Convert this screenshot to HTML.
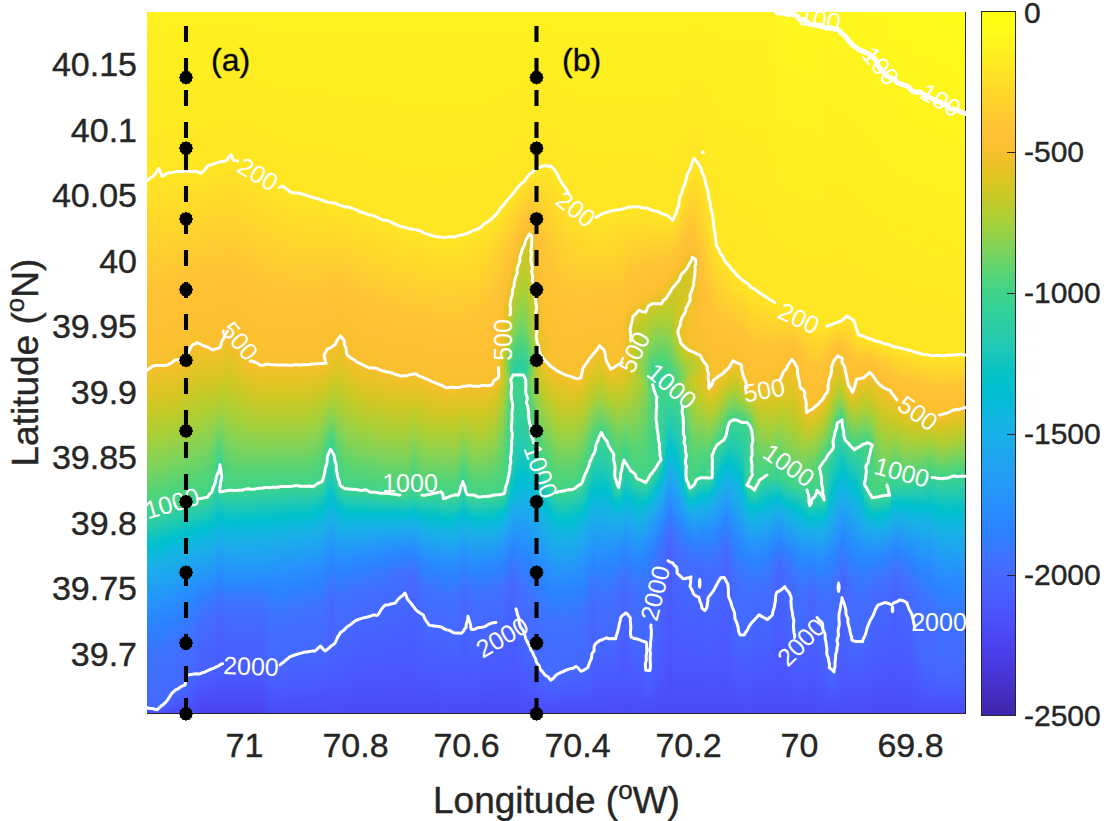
<!DOCTYPE html><html><head><meta charset="utf-8"><style>
*{margin:0;padding:0;box-sizing:border-box}
html,body{width:1104px;height:821px;overflow:hidden;background:#fff}
body{position:relative;font-family:"Liberation Sans",sans-serif;color:#262626}
.t{position:absolute;white-space:nowrap;line-height:1;-webkit-text-stroke:0.4px #262626}
.yl{font-size:34px;text-align:right;width:120px}
.xl{font-size:34px;text-align:center;width:120px}
.cl{font-size:30px}
</style></head><body>
<style>#fld i{position:absolute;top:0;height:702px;display:block}</style><div id="fld" style="position:absolute;left:147px;top:12px;width:819px;height:702px;overflow:hidden"><i style="left:0px;width:3.6px;background:linear-gradient(#fef21f 0px,#ffe624 168px,#ffd32c 220px,#ffc435 276px,#ffc033 314px,#f7c02d 358px,#e6c324 374px,#d9c622 386px,#cbc926 398px,#a9cf36 424px,#7bd45d 456px,#53d476 480px,#40d389 500px,#32d09a 506px,#27cbac 514px,#07c3c6 528px,#01c1cc 532px,#02bed2 536px,#11b7e0 546px,#1aafe9 556px,#288fff 596px,#2c80ff 618px,#3e72ff 646px,#4569ff 696px,#4a55fe 700px,#4a4af6 702px)"></i><i style="left:3px;width:3.6px;background:linear-gradient(#fef21f 0px,#ffe624 166px,#ffc435 276px,#ffc033 314px,#f7c02d 356px,#e6c324 374px,#d9c623 386px,#cac926 398px,#a9cf36 424px,#7bd45d 456px,#52d477 480px,#3fd38a 500px,#31d09b 506px,#26cbad 514px,#0ac4c3 526px,#01c1cd 532px,#02bed3 536px,#14b5e2 548px,#1aaee9 556px,#288eff 596px,#2c80ff 618px,#3e72ff 646px,#4569ff 696px,#4a56ff 700px,#4a4af6 702px)"></i><i style="left:6px;width:3.6px;background:linear-gradient(#fef21f 0px,#ffe624 162px,#ffc435 276px,#ffc033 314px,#f7c02d 354px,#e5c324 374px,#d8c623 386px,#ccc925 396px,#abcf35 422px,#7dd45b 454px,#52d477 480px,#40d389 498px,#33d099 504px,#28ccaa 512px,#1ec8b6 518px,#01c2cb 530px,#03bed4 536px,#10b8de 544px,#19b0e8 554px,#288eff 596px,#2c80ff 618px,#3f72ff 646px,#4569ff 698px,#495aff 700px,#4a4af6 702px)"></i><i style="left:9px;width:3.6px;background:linear-gradient(#fef21f 0px,#ffe624 160px,#ffc435 276px,#ffc033 314px,#f7c02d 354px,#d9c622 384px,#cbc925 396px,#aacf36 422px,#7fd35a 452px,#51d478 480px,#40d389 498px,#32d099 504px,#27cbac 512px,#01c1cc 530px,#01bed2 534px,#10b7df 544px,#18b1e7 552px,#288eff 596px,#2c80ff 616px,#3f71ff 646px,#4569ff 698px,#495aff 700px,#4a4af6 702px)"></i><i style="left:12px;width:3.6px;background:linear-gradient(#fef21f 0px,#ffe624 164px,#ffc335 276px,#ffc033 314px,#f7c02d 354px,#e5c324 372px,#d9c623 384px,#cbc926 396px,#a9cf36 422px,#7bd45d 454px,#52d477 478px,#40d389 496px,#30cf9c 504px,#26cbad 512px,#0ac4c3 524px,#01c1cd 530px,#02bed3 534px,#11b7e0 544px,#19b0e8 552px,#288eff 594px,#2c80ff 616px,#3f72ff 644px,#4569ff 696px,#4a56ff 700px,#4a4af6 702px)"></i><i style="left:15px;width:3.6px;background:linear-gradient(#fef21f 0px,#ffe624 164px,#ffc435 274px,#ffc033 312px,#f7c02d 354px,#e5c324 372px,#d8c623 384px,#ccc925 394px,#a8cf37 422px,#7ad45d 454px,#52d477 478px,#40d389 496px,#32d099 502px,#28cbab 510px,#01c1cb 528px,#01bfd1 532px,#18b1e7 550px,#288fff 592px,#2c80ff 614px,#3f72ff 642px,#4569ff 692px,#4667ff 694px,#4959ff 698px,#4a4af6 702px)"></i><i style="left:18px;width:3.6px;background:linear-gradient(#fef21f 0px,#ffe624 162px,#ffc435 274px,#ffc033 312px,#f7c02d 352px,#d9c622 382px,#cbc925 394px,#aacf36 420px,#7cd45c 452px,#53d476 476px,#41d388 494px,#30cf9c 502px,#26cbad 510px,#0ac4c3 522px,#01c1cd 528px,#02bed3 532px,#14b5e2 544px,#1aaee9 552px,#288eff 592px,#2c80ff 612px,#3f72ff 640px,#4569ff 688px,#4959ff 696px,#4a4af6 702px)"></i><i style="left:21px;width:3.6px;background:linear-gradient(#fef21f 0px,#ffe624 162px,#ffc335 274px,#ffc033 310px,#f6c02d 352px,#e5c324 370px,#d8c623 382px,#cac926 394px,#a9cf36 420px,#7bd45d 452px,#52d477 476px,#40d389 494px,#33d099 500px,#28ccab 508px,#01c1cb 526px,#01bfd1 530px,#10b7df 540px,#18b1e7 548px,#288eff 590px,#2d7fff 612px,#3f72ff 638px,#4568ff 686px,#4a56ff 696px,#4a4af6 702px)"></i><i style="left:24px;width:3.6px;background:linear-gradient(#fef21f 0px,#ffe624 160px,#ffc435 272px,#ffc033 310px,#f7c02d 350px,#d9c622 380px,#cbc925 392px,#aacf36 418px,#7fd35a 448px,#51d478 476px,#40d389 494px,#32d09a 500px,#27cbac 508px,#07c3c6 522px,#01c1cd 526px,#02bed3 530px,#12b6e0 540px,#19b0e8 548px,#288fff 588px,#2d7fff 610px,#3f72ff 636px,#4569ff 682px,#4a57ff 694px,#4a4af6 702px)"></i><i style="left:27px;width:3.6px;background:linear-gradient(#fef21f 0px,#ffe624 160px,#ffc335 272px,#ffc033 308px,#f6c02d 350px,#e5c324 368px,#d8c623 380px,#cac926 392px,#a9cf36 418px,#7bd45d 450px,#52d477 474px,#40d389 492px,#33d098 498px,#22c9b2 510px,#01c1cb 524px,#01bfd1 528px,#10b7df 538px,#18b0e7 546px,#288dff 588px,#2d80ff 608px,#3f72ff 634px,#4569ff 678px,#4958ff 692px,#4a4af6 702px)"></i><i style="left:30px;width:3.6px;background:linear-gradient(#fef21f 0px,#ffe624 160px,#ffc435 270px,#ffc033 308px,#f7c02d 348px,#e6c324 366px,#d9c622 378px,#cbc925 390px,#aacf36 416px,#7cd45c 448px,#51d478 474px,#40d389 492px,#32d09a 498px,#27cbac 506px,#07c3c6 520px,#01c1cd 524px,#02bed3 528px,#12b6e0 538px,#19afe8 546px,#288eff 586px,#2c80ff 606px,#3f71ff 632px,#4569ff 676px,#4a57ff 692px,#4a4af6 702px)"></i><i style="left:33px;width:3.6px;background:linear-gradient(#fef21f 0px,#ffe624 160px,#ffc335 270px,#ffc033 306px,#f6c02d 348px,#e6c324 364px,#d7c623 378px,#ccc925 388px,#a8cf37 416px,#7bd45d 448px,#52d477 472px,#3fd38a 492px,#31d09b 498px,#29cca9 504px,#1ec8b6 510px,#01c1cb 522px,#01bfd1 526px,#11b7df 536px,#18b0e8 544px,#288eff 584px,#2c80ff 604px,#3f71ff 630px,#4568ff 676px,#4a56ff 692px,#4a4af6 702px)"></i><i style="left:36px;width:3.6px;background:linear-gradient(#fef21f 0px,#ffe624 160px,#ffc435 268px,#ffc033 304px,#f7c02d 346px,#e5c324 364px,#d8c623 376px,#cac926 388px,#a9cf36 414px,#7cd45c 446px,#52d477 472px,#40d389 490px,#32d099 496px,#27cbac 504px,#07c3c6 518px,#01c1cd 522px,#02bed3 526px,#10b8de 534px,#19afe8 544px,#288eff 582px,#2c80ff 602px,#3f71ff 628px,#446bff 650px,#4569ff 674px,#4a57ff 690px,#4a4af6 702px)"></i><i style="left:39px;width:3.6px;background:linear-gradient(#fef21f 0px,#ffe624 160px,#ffc435 266px,#ffc033 302px,#f6c02c 344px,#e7c324 360px,#d8c623 374px,#cac926 386px,#aacf36 412px,#7bd45d 446px,#53d476 470px,#40d389 490px,#32d09a 496px,#29cca9 502px,#1fc9b5 508px,#01c1cb 520px,#01bfd1 524px,#11b7e0 534px,#19b0e8 542px,#288dff 582px,#2c80ff 600px,#3b75ff 618px,#426eff 634px,#4568ff 668px,#4a57ff 688px,#4a4af6 702px)"></i><i style="left:42px;width:3.6px;background:linear-gradient(#fef21f 0px,#ffe624 160px,#ffc435 264px,#ffc033 300px,#f7c02d 336px,#e5c324 358px,#d8c623 372px,#cbc926 384px,#a8cf37 412px,#7cd45c 444px,#52d477 470px,#40d389 488px,#28ccab 502px,#1cc8b7 508px,#07c3c6 516px,#01c1cd 520px,#02bed3 524px,#10b8de 532px,#19afe9 542px,#288eff 580px,#2c81ff 598px,#3c74ff 618px,#426dff 634px,#4569ff 662px,#4a56ff 688px,#4a4af6 702px)"></i><i style="left:45px;width:3.6px;background:linear-gradient(#fef21f 0px,#ffe624 160px,#ffc435 264px,#ffc033 298px,#f6c02d 334px,#d9c622 368px,#cbc926 382px,#a9cf36 410px,#7dd45b 442px,#53d476 468px,#40d389 488px,#32d09a 494px,#29cca9 500px,#1fc9b5 506px,#01c1cb 518px,#01bfd2 522px,#11b7e0 532px,#19b0e8 540px,#288eff 578px,#2c80ff 596px,#3d74ff 616px,#436dff 632px,#4568ff 662px,#4a56ff 686px,#4a4af5 702px)"></i><i style="left:48px;width:3.6px;background:linear-gradient(#fef21f 0px,#ffe624 160px,#ffc335 264px,#ffc033 298px,#f6c02c 332px,#e5c324 354px,#d8c623 368px,#cbc925 380px,#aacf36 408px,#7bd45d 442px,#52d477 468px,#41d388 486px,#33d098 492px,#28ccab 500px,#1cc8b7 506px,#07c3c6 514px,#01c1cd 518px,#02bed3 522px,#10b8de 530px,#19afe9 540px,#288dff 576px,#2d7fff 592px,#3d73ff 610px,#436dff 624px,#4665ff 662px,#4a56ff 682px,#4a47f2 702px)"></i><i style="left:51px;width:3.6px;background:linear-gradient(#fef21f 0px,#ffe624 160px,#ffc435 262px,#ffc033 296px,#f7c02d 332px,#d9c622 366px,#ccc925 378px,#aacf35 406px,#7cd45c 440px,#53d476 466px,#40d389 486px,#32d09a 492px,#29cca8 498px,#1fc9b5 504px,#01c1cb 516px,#01bfd1 520px,#11b7e0 530px,#19b0e8 538px,#288dff 574px,#2e7eff 588px,#3b75ff 600px,#436dff 614px,#4764ff 638px,#4862ff 662px,#4a57ff 676px,#4a44ef 702px)"></i><i style="left:54px;width:3.6px;background:linear-gradient(#fef21f 0px,#ffe624 160px,#ffc435 262px,#ffc033 296px,#f6c02d 334px,#e6c324 352px,#d8c623 366px,#cbc925 378px,#a9cf36 406px,#69d469 452px,#52d477 466px,#40d389 486px,#31d09a 492px,#29cca9 498px,#01c1cc 516px,#02bed3 520px,#10b8de 528px,#19afe9 538px,#288eff 572px,#2d7fff 584px,#3c74ff 598px,#436cff 612px,#4763ff 636px,#4860ff 660px,#4a57ff 674px,#4942ed 702px)"></i><i style="left:57px;width:3.6px;background:linear-gradient(#fef21f 0px,#ffe624 158px,#ffc435 260px,#ffc033 296px,#f7c02d 334px,#e5c324 354px,#d8c623 366px,#cbc926 378px,#aacf36 404px,#89d353 428px,#52d477 464px,#40d389 486px,#31d09b 492px,#28ccaa 498px,#21c9b3 502px,#06c3c7 512px,#01c0ce 516px,#01bfd1 518px,#11b7e0 528px,#19b0e8 536px,#288dff 572px,#2e7eff 584px,#3d73ff 598px,#436cff 612px,#4763ff 636px,#4860ff 660px,#4a56ff 674px,#4942ed 702px)"></i><i style="left:60px;width:3.6px;background:linear-gradient(#fef21f 0px,#ffe624 154px,#ffc335 262px,#ffc033 296px,#f7c02d 336px,#e5c324 354px,#d8c623 366px,#ccc825 376px,#aacf35 402px,#88d353 426px,#53d476 460px,#40d389 484px,#32d09a 490px,#26cbae 498px,#07c3c5 510px,#01c1cc 514px,#02bed3 518px,#10b8df 526px,#1aafe9 536px,#288dff 572px,#2f7dff 584px,#3c74ff 596px,#436cff 610px,#4763ff 634px,#4860ff 658px,#4a57ff 672px,#4942ed 702px)"></i><i style="left:63px;width:3.6px;background:linear-gradient(#fef21f 0px,#ffe624 154px,#ffc435 260px,#ffc033 296px,#f7c02d 338px,#e6c324 354px,#d8c623 366px,#ccc925 376px,#a8cf37 402px,#8ad351 422px,#52d477 456px,#3dd28c 482px,#30cf9c 488px,#28ccaa 494px,#01c1cc 512px,#02bed2 516px,#12b6e0 526px,#19afe8 534px,#288eff 570px,#2e7eff 582px,#3d73ff 596px,#446bff 610px,#4763ff 634px,#4860ff 658px,#4a56ff 672px,#4942ed 702px)"></i><i style="left:66px;width:3.6px;background:linear-gradient(#fef21f 0px,#ffe624 152px,#ffc435 260px,#ffc033 296px,#f7c02d 338px,#e5c324 354px,#dac622 364px,#cac926 376px,#abcf35 398px,#80d359 424px,#52d477 448px,#3ed28b 468px,#3dd28c 474px,#22cab2 494px,#0ac4c3 504px,#01c0cd 510px,#02bed3 514px,#10b8de 522px,#19afe9 532px,#288eff 568px,#2c80ff 578px,#337bff 582px,#3d73ff 592px,#446aff 608px,#4762ff 632px,#4860ff 656px,#4a57ff 670px,#4942ed 702px)"></i><i style="left:69px;width:3.6px;background:linear-gradient(#fef21f 0px,#ffe624 150px,#ffc335 260px,#ffc033 294px,#f7c02d 336px,#e6c324 352px,#d8c623 364px,#ccc925 374px,#b0ce32 392px,#7fd35a 418px,#50d479 438px,#3cd28d 452px,#31d09b 476px,#28ccaa 486px,#1fc9b5 492px,#06c3c7 502px,#01c0cd 506px,#03bed4 510px,#13b6e1 520px,#1aaee9 528px,#288dff 564px,#2c81ff 574px,#3b75ff 582px,#4667ff 604px,#4860ff 628px,#485fff 654px,#4a56ff 670px,#4942ed 702px)"></i><i style="left:72px;width:3.6px;background:linear-gradient(#fef21f 0px,#ffe624 150px,#ffc435 258px,#ffc033 292px,#f7c02d 334px,#d9c622 362px,#cac926 374px,#afce33 392px,#80d359 416px,#64d46c 428px,#53d476 434px,#39d291 450px,#34d197 454px,#34d197 480px,#1fc9b5 492px,#08c4c5 500px,#01c1cc 504px,#02bed3 508px,#12b6e1 518px,#1aaee9 526px,#288eff 560px,#2b82ff 572px,#3e73ff 582px,#4667ff 600px,#485fff 626px,#485eff 652px,#4a56ff 668px,#4942ed 702px)"></i><i style="left:75px;width:3.6px;background:linear-gradient(#fef21f 0px,#ffe624 150px,#ffc435 258px,#ffc033 292px,#f6c02c 330px,#e6c324 348px,#d8c623 362px,#ccc925 372px,#aacf35 396px,#81d358 420px,#51d478 444px,#44d385 458px,#39d291 480px,#24caaf 492px,#0ac4c3 502px,#01c0ce 508px,#01bfd1 510px,#11b7e0 520px,#19b0e8 528px,#288dff 566px,#2c80ff 576px,#3878ff 582px,#4569ff 604px,#4861ff 628px,#485fff 652px,#4a57ff 668px,#4942ed 702px)"></i><i style="left:78px;width:3.6px;background:linear-gradient(#fef21f 0px,#ffe624 148px,#ffc335 258px,#ffc033 290px,#f5c02c 326px,#d9c622 360px,#ccc925 372px,#aacf36 398px,#83d357 424px,#52d477 454px,#3fd38a 478px,#32d09a 484px,#1fc9b5 496px,#01c1cb 508px,#01bfd1 512px,#11b7e0 522px,#19b0e8 530px,#288eff 568px,#2d80ff 578px,#347aff 582px,#3d73ff 592px,#446bff 606px,#4763ff 628px,#4860ff 652px,#4a57ff 668px,#4942ed 702px)"></i><i style="left:81px;width:3.6px;background:linear-gradient(#fef21f 0px,#ffe624 146px,#ffc435 258px,#ffc033 290px,#f6c02c 324px,#d9c622 360px,#ccc925 372px,#a9cf36 400px,#8ad352 422px,#52d477 458px,#40d389 478px,#32d09a 484px,#29cca8 490px,#1fc9b5 496px,#01c1cb 508px,#01bfd1 512px,#11b7e0 522px,#19b0e8 530px,#288eff 568px,#2c80ff 578px,#347bff 582px,#3d73ff 592px,#436bff 606px,#4763ff 628px,#4860ff 652px,#4a57ff 668px,#4942ed 702px)"></i><i style="left:84px;width:3.6px;background:linear-gradient(#fef21f 0px,#ffe624 148px,#ffc435 258px,#ffc033 292px,#f6c02c 328px,#e6c324 348px,#d8c623 362px,#cbc925 374px,#a8cf37 402px,#7ed35b 432px,#53d476 458px,#40d389 478px,#32d09a 484px,#29cca8 490px,#1fc9b5 496px,#01c1cb 508px,#01bfd2 512px,#11b7e0 522px,#19b0e8 530px,#288eff 568px,#2d80ff 578px,#347bff 582px,#3d73ff 592px,#436bff 606px,#4763ff 628px,#4860ff 652px,#4a57ff 668px,#4942ed 702px)"></i><i style="left:87px;width:3.6px;background:linear-gradient(#fef21f 0px,#ffe624 148px,#ffc335 260px,#ffc033 294px,#f7c02d 330px,#e6c324 350px,#d8c623 364px,#cbc926 376px,#aacf35 402px,#7dd45c 434px,#52d477 460px,#40d389 478px,#32d09a 484px,#29cca9 490px,#1fc9b5 496px,#09c4c4 504px,#01c1cb 508px,#01bed2 512px,#11b7e0 522px,#19afe8 530px,#288dff 568px,#2d7fff 578px,#347aff 582px,#3d73ff 592px,#446bff 606px,#4763ff 628px,#4860ff 652px,#4a57ff 668px,#4942ed 702px)"></i><i style="left:90px;width:3.6px;background:linear-gradient(#fef21f 0px,#ffe624 150px,#ffc335 262px,#ffc033 296px,#f6c02c 336px,#d9c622 366px,#cbc926 378px,#a9cf36 404px,#7bd45d 436px,#52d477 460px,#40d389 478px,#32d09a 484px,#29cca9 490px,#1ec8b5 496px,#08c4c5 504px,#01c1cc 508px,#01bed2 512px,#12b6e0 522px,#19afe8 530px,#288dff 568px,#2b82ff 576px,#347aff 582px,#3e73ff 592px,#446bff 606px,#4763ff 628px,#4860ff 652px,#4a57ff 668px,#4942ed 702px)"></i><i style="left:93px;width:3.6px;background:linear-gradient(#fef21f 0px,#ffe624 152px,#ffc435 262px,#ffc033 298px,#f7c02d 338px,#d9c622 368px,#cbc925 380px,#a9cf36 406px,#79d45e 438px,#52d477 460px,#40d389 478px,#32d09a 484px,#29cca9 490px,#1ec8b6 496px,#08c4c5 504px,#01c1cc 508px,#02bed2 512px,#18b1e7 528px,#288dff 568px,#2b82ff 576px,#357aff 582px,#3e73ff 592px,#446bff 606px,#4763ff 628px,#4860ff 652px,#4a57ff 668px,#4942ed 702px)"></i><i style="left:96px;width:3.6px;background:linear-gradient(#fef21f 0px,#ffe624 154px,#ffc435 264px,#ffc033 302px,#f6c02c 344px,#e5c324 360px,#d8c623 372px,#cbc925 382px,#abcf35 406px,#7dd45b 436px,#53d476 460px,#40d389 478px,#31d09a 484px,#29cca9 490px,#01c1cc 508px,#02bed3 512px,#10b8de 520px,#18b1e7 528px,#288dff 568px,#2b82ff 576px,#357aff 582px,#3e73ff 592px,#446bff 606px,#4763ff 628px,#4860ff 652px,#4a57ff 668px,#4942ed 702px)"></i><i style="left:99px;width:3.6px;background:linear-gradient(#fef21f 0px,#ffe624 156px,#ffc435 266px,#ffc033 304px,#f7c02d 346px,#e6c324 362px,#d8c623 374px,#cbc925 384px,#aacf36 408px,#7bd45d 438px,#53d476 460px,#40d389 478px,#31d09b 484px,#28ccaa 490px,#1dc8b6 496px,#07c3c6 504px,#01c1cc 508px,#02bed3 512px,#13b6e1 522px,#1aafe9 530px,#288dff 568px,#2b82ff 576px,#357aff 582px,#3e73ff 592px,#446bff 606px,#4763ff 628px,#4860ff 652px,#4a57ff 668px,#4942ed 702px)"></i><i style="left:102px;width:3.6px;background:linear-gradient(#fef21f 0px,#ffe624 158px,#ffc435 268px,#ffc033 306px,#f6c02d 350px,#e6c324 364px,#d8c623 376px,#cbc926 386px,#a8cf37 410px,#78d45f 440px,#52d477 460px,#41d388 476px,#33d098 482px,#28cbab 490px,#21c9b3 494px,#06c3c6 504px,#01c0cd 508px,#03bed4 512px,#13b6e1 522px,#1aaee9 530px,#288fff 566px,#2b82ff 576px,#357aff 582px,#3e73ff 592px,#446bff 606px,#4763ff 628px,#4860ff 652px,#4a57ff 668px,#4942ed 702px)"></i><i style="left:105px;width:3.6px;background:linear-gradient(#fef21f 0px,#ffe624 158px,#ffc435 270px,#ffc033 308px,#f7c02d 350px,#d9c622 376px,#ccc925 386px,#a9cf36 410px,#79d45e 440px,#52d477 460px,#40d389 476px,#32d09a 482px,#20c9b4 494px,#02c2ca 506px,#01bfd1 510px,#11b7df 520px,#19b0e8 528px,#288eff 566px,#2b82ff 576px,#357aff 582px,#3e73ff 592px,#446bff 606px,#4763ff 628px,#4860ff 652px,#4a57ff 668px,#4942ed 702px)"></i><i style="left:108px;width:3.6px;background:linear-gradient(#fef21f 0px,#ffe624 162px,#ffc435 272px,#ffc033 310px,#f7c02d 352px,#e7c324 366px,#d8c623 378px,#cac926 388px,#aacf36 410px,#79d45e 440px,#52d477 460px,#40d389 476px,#32d09a 482px,#29cca8 488px,#1fc9b5 494px,#01c1cb 506px,#01bfd1 510px,#11b7e0 520px,#19b0e8 528px,#288eff 566px,#2b81ff 576px,#357aff 582px,#3e72ff 592px,#446bff 606px,#4763ff 628px,#4860ff 652px,#4a57ff 668px,#4942ed 702px)"></i><i style="left:111px;width:3.6px;background:linear-gradient(#fef21f 0px,#ffe624 162px,#ffc335 274px,#ffc033 310px,#f7c02d 352px,#e5c324 368px,#d8c623 378px,#cbc926 388px,#abcf35 410px,#79d45e 440px,#52d477 460px,#40d389 476px,#32d09a 482px,#29cca8 488px,#1fc9b5 494px,#01c1cb 506px,#01bfd2 510px,#11b7e0 520px,#19b0e8 528px,#288eff 566px,#2c81ff 576px,#3679ff 582px,#3e72ff 592px,#446bff 606px,#4763ff 628px,#4860ff 652px,#4a57ff 668px,#4942ed 702px)"></i><i style="left:114px;width:3.6px;background:linear-gradient(#fef21f 0px,#ffe624 166px,#ffc435 274px,#ffc033 312px,#f7c02d 352px,#e5c324 368px,#d9c623 378px,#cbc925 388px,#abcf35 410px,#7ad45e 440px,#52d477 460px,#40d389 476px,#32d09a 482px,#29cca9 488px,#1fc9b5 494px,#09c4c4 502px,#01c1cb 506px,#01bed2 510px,#11b7e0 520px,#19afe8 528px,#288eff 566px,#2c81ff 576px,#3579ff 582px,#436cff 604px,#4763ff 628px,#4860ff 652px,#4a57ff 668px,#4a42ed 702px)"></i><i style="left:117px;width:3.6px;background:linear-gradient(#fef21f 0px,#ffe624 166px,#ffc435 274px,#ffc033 312px,#f7c02d 352px,#e5c324 368px,#d9c622 378px,#ccc925 388px,#a8cf37 412px,#7ad45e 440px,#52d477 460px,#40d389 476px,#32d09a 482px,#29cca9 488px,#1ec8b5 494px,#08c4c5 502px,#01c1cc 506px,#01bed2 510px,#12b6e0 520px,#19afe8 528px,#288eff 566px,#2c80ff 578px,#327cff 582px,#3d73ff 594px,#436cff 608px,#4763ff 652px,#4a57ff 672px,#4a45f0 702px)"></i><i style="left:120px;width:3.6px;background:linear-gradient(#fef21f 0px,#ffe624 168px,#ffc435 276px,#ffc033 314px,#f7c02d 352px,#e5c324 368px,#d9c622 378px,#ccc925 388px,#a8cf37 412px,#79d45e 440px,#52d477 460px,#40d389 476px,#32d09a 482px,#29cca9 488px,#01c1cc 506px,#02bed2 510px,#0fb8de 518px,#18b1e7 526px,#288eff 566px,#2c81ff 580px,#3d74ff 600px,#426dff 614px,#4666ff 652px,#4a57ff 678px,#4a48f3 702px)"></i><i style="left:123px;width:3.6px;background:linear-gradient(#fef21f 0px,#ffe624 170px,#ffc435 276px,#ffc033 314px,#f7c02d 352px,#e5c324 368px,#d9c622 378px,#ccc925 388px,#abcf35 410px,#7dd45c 438px,#52d477 460px,#40d389 476px,#31d09a 482px,#29cca9 488px,#01c1cc 506px,#02bed3 510px,#10b8de 518px,#1aafe9 528px,#288dff 566px,#2c80ff 584px,#3d74ff 604px,#426eff 620px,#4569ff 652px,#4a56ff 682px,#4a4af6 702px)"></i><i style="left:126px;width:3.6px;background:linear-gradient(#fef21f 0px,#ffe624 172px,#ffc435 278px,#ffc033 314px,#f7c02d 352px,#e5c324 368px,#d9c622 378px,#ccc925 388px,#abcf35 410px,#7cd45c 438px,#51d478 460px,#40d389 476px,#31d09b 482px,#28ccaa 488px,#1dc8b7 494px,#07c3c6 502px,#01c1cd 506px,#03bed3 510px,#13b6e1 520px,#1aaee9 528px,#288fff 564px,#2c80ff 584px,#3b75ff 602px,#426eff 620px,#4569ff 652px,#4a57ff 682px,#4a4af6 702px)"></i><i style="left:129px;width:3.6px;background:linear-gradient(#fef21f 0px,#ffe624 174px,#ffc435 278px,#ffc033 314px,#f7c02d 352px,#e5c324 368px,#d9c622 378px,#ccc925 388px,#abcf35 410px,#80d35a 436px,#51d478 460px,#40d389 474px,#32d099 480px,#27cbac 488px,#20c9b4 492px,#0ac4c3 500px,#01c0ce 506px,#03bdd4 510px,#11b7df 518px,#19b0e8 526px,#288eff 564px,#2d80ff 584px,#3c75ff 602px,#426dff 620px,#4569ff 652px,#4a56ff 682px,#4a4af6 702px)"></i><i style="left:132px;width:3.6px;background:linear-gradient(#fef21f 0px,#ffe624 176px,#ffc435 278px,#ffc033 314px,#f7c02d 352px,#e5c324 368px,#d9c622 378px,#cbc925 388px,#abcf35 410px,#7fd35a 436px,#51d478 460px,#40d389 474px,#32d09a 480px,#29cca8 486px,#1fc9b5 492px,#01c1cb 504px,#01bfd2 508px,#11b7e0 518px,#19afe8 526px,#288eff 564px,#2c81ff 582px,#3c74ff 602px,#426dff 620px,#4569ff 652px,#4a56ff 682px,#4a4af6 702px)"></i><i style="left:135px;width:3.6px;background:linear-gradient(#fef21f 0px,#ffe624 176px,#ffc435 280px,#ffc033 316px,#f7c02d 352px,#e5c324 368px,#d9c622 378px,#cbc925 388px,#abcf35 410px,#7fd35a 436px,#54d476 458px,#40d389 474px,#32d09a 480px,#29cca9 486px,#1ec8b5 492px,#08c4c5 500px,#01c1cc 504px,#01bed2 508px,#18b1e7 524px,#288dff 564px,#2c80ff 582px,#3d74ff 602px,#426dff 618px,#4568ff 650px,#4a56ff 682px,#4a4af6 702px)"></i><i style="left:138px;width:3.6px;background:linear-gradient(#fef21f 0px,#ffe624 178px,#ffc435 280px,#ffc033 316px,#f7c02d 352px,#e5c324 368px,#d9c623 378px,#cbc925 388px,#aacf35 410px,#7fd35a 436px,#54d476 458px,#40d389 474px,#32d09a 480px,#29cca9 486px,#01c1cc 504px,#02bed3 508px,#12b6e1 518px,#1aafe9 526px,#288eff 562px,#2d7fff 582px,#3c74ff 600px,#436dff 618px,#4569ff 648px,#4a57ff 680px,#4a4af6 702px)"></i><i style="left:141px;width:3.6px;background:linear-gradient(#fef21f 0px,#ffe624 180px,#ffc435 280px,#ffc033 316px,#f7c02d 352px,#e5c324 368px,#d9c623 378px,#cbc925 388px,#aacf35 410px,#7fd35a 436px,#54d476 458px,#40d389 474px,#31d09a 480px,#29cca9 486px,#1ec8b6 492px,#07c3c5 500px,#01c1cc 504px,#02bed3 508px,#13b6e1 518px,#1aaee9 526px,#288eff 562px,#2c80ff 580px,#3d74ff 600px,#426dff 616px,#4568ff 646px,#4a56ff 680px,#4a4af6 702px)"></i><i style="left:144px;width:3.6px;background:linear-gradient(#fef21f 0px,#ffe624 180px,#ffc435 280px,#ffc033 316px,#f7c02d 352px,#e5c324 368px,#d9c623 378px,#cbc925 388px,#aacf35 410px,#7bd45d 438px,#54d476 458px,#40d389 474px,#31d09b 480px,#29cca9 486px,#1dc8b6 492px,#07c3c6 500px,#01c1cd 504px,#03bed4 508px,#11b7df 516px,#19b0e8 524px,#288dff 562px,#2c80ff 580px,#3c74ff 598px,#436dff 616px,#4569ff 644px,#4a56ff 680px,#4a4af6 702px)"></i><i style="left:147px;width:3.6px;background:linear-gradient(#fef21f 0px,#ffe624 182px,#ffc435 282px,#ffc033 316px,#f7c02d 352px,#e5c324 368px,#d9c623 378px,#cbc926 388px,#aacf36 410px,#7bd45d 438px,#53d476 458px,#40d389 474px,#31d09b 480px,#28ccaa 486px,#1dc8b7 492px,#07c3c6 500px,#01c0cd 504px,#03bdd4 508px,#11b7e0 516px,#19afe8 524px,#288fff 560px,#2c81ff 578px,#3d74ff 598px,#426dff 614px,#4569ff 642px,#4a57ff 678px,#4a4af6 702px)"></i><i style="left:150px;width:3.6px;background:linear-gradient(#fef21f 0px,#ffe624 182px,#ffc435 282px,#ffc033 316px,#f7c02d 352px,#e5c324 368px,#d8c623 378px,#cbc926 388px,#aacf36 410px,#7bd45d 438px,#53d476 458px,#40d389 474px,#31d09b 480px,#28ccaa 486px,#1cc8b7 492px,#06c3c7 500px,#01c0ce 504px,#01bfd1 506px,#11b7e0 516px,#19afe8 524px,#288eff 560px,#2c80ff 578px,#3d74ff 598px,#436dff 614px,#4569ff 642px,#4a57ff 678px,#4a4af6 702px)"></i><i style="left:153px;width:3.6px;background:linear-gradient(#fef21f 0px,#ffe624 182px,#ffc435 282px,#ffc033 316px,#f7c02d 352px,#e5c324 368px,#d8c623 378px,#cbc926 388px,#a9cf36 410px,#7ad45d 438px,#53d476 458px,#40d389 474px,#31d09b 480px,#28ccaa 486px,#01c1cb 502px,#01bfd2 506px,#0fb8de 514px,#18b1e7 522px,#288eff 560px,#2c80ff 578px,#3c74ff 596px,#426dff 612px,#4568ff 642px,#4a56ff 678px,#4a4af6 702px)"></i><i style="left:156px;width:3.6px;background:linear-gradient(#fef21f 0px,#ffe624 184px,#ffc435 282px,#ffc033 316px,#f7c02d 352px,#e5c324 368px,#d8c623 378px,#cac926 388px,#a9cf36 410px,#68d46a 448px,#52d477 458px,#40d389 474px,#31d09b 480px,#28ccaa 486px,#01c1cb 502px,#01bed2 506px,#10b8de 514px,#18b0e7 522px,#288fff 558px,#2c81ff 576px,#3d74ff 596px,#426dff 612px,#4569ff 640px,#4a56ff 678px,#4a4af6 702px)"></i><i style="left:159px;width:3.6px;background:linear-gradient(#fef21f 0px,#ffe624 184px,#ffc435 282px,#ffc033 316px,#f7c02d 352px,#e7c325 366px,#d7c623 378px,#ccc825 386px,#abcf35 408px,#7cd45c 436px,#52d477 458px,#40d389 474px,#31d09b 480px,#28ccab 486px,#01c1cc 502px,#02bed3 506px,#10b7df 514px,#19b0e8 522px,#288eff 558px,#2c80ff 576px,#3d73ff 596px,#436dff 612px,#4569ff 640px,#4a56ff 678px,#4a4af6 702px)"></i><i style="left:162px;width:3.6px;background:linear-gradient(#fef21f 0px,#ffe624 186px,#ffc435 282px,#ffc033 316px,#f7c02d 352px,#dac622 376px,#ccc925 386px,#aacf36 408px,#8cd250 426px,#51d478 458px,#40d389 474px,#30d09c 480px,#27cbab 486px,#20c9b4 490px,#08c4c5 498px,#01c1cd 502px,#03bed4 506px,#11b7e0 514px,#19afe8 522px,#288dff 558px,#2d80ff 576px,#3c74ff 594px,#426dff 610px,#4569ff 640px,#4a56ff 678px,#4a4af6 702px)"></i><i style="left:165px;width:3.6px;background:linear-gradient(#fef21f 0px,#ffe624 186px,#ffc435 282px,#ffc033 316px,#f7c02d 352px,#e6c324 366px,#d9c622 376px,#cac926 386px,#abcf35 406px,#8ad352 426px,#52d477 456px,#40d389 474px,#30cf9c 480px,#27cbac 486px,#06c3c6 498px,#01c0ce 502px,#01bfd1 504px,#12b6e1 514px,#1aaee9 522px,#288eff 556px,#2c80ff 574px,#3d74ff 594px,#436dff 610px,#4569ff 640px,#4a56ff 678px,#4a4af6 702px)"></i><i style="left:168px;width:3.6px;background:linear-gradient(#fef21f 0px,#ffe624 186px,#ffc435 280px,#ffc033 314px,#f7c02d 352px,#e5c324 366px,#d8c623 376px,#ccc925 384px,#a8cf37 406px,#89d352 424px,#52d477 454px,#40d389 472px,#28ccaa 484px,#01c1cc 500px,#02bed3 504px,#11b7df 512px,#19afe8 520px,#288eff 556px,#2c80ff 574px,#3c74ff 592px,#426dff 608px,#4569ff 638px,#4a57ff 676px,#4a4af6 702px)"></i><i style="left:171px;width:3.6px;background:linear-gradient(#fef21f 0px,#ffe624 188px,#ffc435 280px,#ffc033 312px,#f7c02d 352px,#e7c325 364px,#d9c622 374px,#cdc825 382px,#abcf35 402px,#84d356 424px,#54d476 450px,#3fd38a 472px,#33d098 476px,#29cca9 482px,#01c1cb 498px,#02bed2 502px,#10b8df 510px,#19b0e8 518px,#288eff 554px,#2c80ff 572px,#3d74ff 592px,#436dff 608px,#4569ff 636px,#4a57ff 676px,#4a4af6 702px)"></i><i style="left:174px;width:3.6px;background:linear-gradient(#fef21f 0px,#ffe624 188px,#ffc435 280px,#ffc033 310px,#f7c02d 352px,#e6c324 364px,#d7c623 374px,#cac926 382px,#aacf36 400px,#88d354 418px,#52d477 444px,#41d388 462px,#40d389 470px,#33d098 474px,#28ccaa 480px,#01c1cb 496px,#02bed2 500px,#10b8de 508px,#18b0e7 516px,#288dff 554px,#2d80ff 572px,#3c74ff 590px,#426dff 606px,#4568ff 638px,#4a57ff 676px,#4a4af6 702px)"></i><i style="left:177px;width:3.6px;background:linear-gradient(#fef21f 0px,#ffe624 190px,#ffc435 278px,#ffc033 308px,#f7c02e 334px,#f7c02d 352px,#e7c325 362px,#d7c623 372px,#afce33 394px,#80d359 416px,#53d476 434px,#44d385 444px,#3ad28f 460px,#25caaf 476px,#01c1cb 492px,#01bfd2 496px,#11b7e0 506px,#19afe8 514px,#288eff 550px,#2c80ff 568px,#3d74ff 586px,#436dff 602px,#4568ff 640px,#4a57ff 676px,#4a4af6 702px)"></i><i style="left:180px;width:3.6px;background:linear-gradient(#fef21f 0px,#ffe624 190px,#ffce2f 248px,#ffc136 290px,#ffc033 308px,#f0c128 350px,#d9c623 368px,#cbc925 376px,#b0ce32 390px,#80d359 410px,#50d47a 426px,#38d291 438px,#31d09c 452px,#25caaf 466px,#01c1cc 486px,#02bed2 490px,#11b7e0 500px,#19b0e8 508px,#288dff 544px,#2d80ff 560px,#3d73ff 576px,#446bff 592px,#4665ff 612px,#4764ff 638px,#4a56ff 676px,#4a4af6 702px)"></i><i style="left:183px;width:3.6px;background:linear-gradient(#fef21f 0px,#ffe624 192px,#ffc435 276px,#ffc033 304px,#f6c02d 336px,#d9c622 364px,#cac926 374px,#b0ce32 388px,#7fd35a 408px,#52d478 422px,#38d291 434px,#22c9b2 464px,#01c1cb 482px,#03bed4 488px,#18b1e7 504px,#288dff 540px,#2c81ff 554px,#3d73ff 570px,#4667ff 592px,#4762ff 612px,#4763ff 636px,#4a56ff 674px,#4a4af6 702px)"></i><i style="left:186px;width:3.6px;background:linear-gradient(#fef21f 0px,#ffe624 192px,#ffc435 276px,#ffc034 302px,#f7c02d 334px,#e6c324 350px,#d9c623 362px,#cbc925 372px,#b1ce32 388px,#a9cf36 392px,#83d357 410px,#52d478 428px,#39d291 444px,#36d194 454px,#26cbad 470px,#01c1cb 488px,#01bfd1 492px,#11b7e0 502px,#19afe8 510px,#288eff 544px,#2c80ff 560px,#3d74ff 576px,#436bff 592px,#4666ff 610px,#4666ff 632px,#4a56ff 674px,#4a4af6 702px)"></i><i style="left:189px;width:3.6px;background:linear-gradient(#fef21f 0px,#ffe624 192px,#ffc435 276px,#ffc033 302px,#f6c02d 330px,#e5c324 350px,#d8c623 362px,#cbc926 372px,#a9cf36 394px,#82d358 416px,#53d476 438px,#40d389 456px,#3fd38a 464px,#21c9b3 482px,#01c1cb 494px,#02bed2 498px,#10b7df 506px,#19afe8 514px,#288eff 548px,#2c80ff 564px,#3d73ff 582px,#436dff 596px,#4568ff 628px,#4a57ff 672px,#4a4af6 702px)"></i><i style="left:192px;width:3.6px;background:linear-gradient(#fef21f 0px,#ffe624 194px,#ffc435 276px,#ffc033 302px,#f6c02c 328px,#d9c623 362px,#cac926 374px,#aacf35 396px,#83d357 420px,#52d477 448px,#3ed28b 474px,#32d09a 478px,#27cbac 484px,#08c4c5 494px,#01c0cd 498px,#01bfd1 500px,#13b5e2 510px,#19afe9 516px,#288eff 548px,#2c80ff 564px,#3c74ff 580px,#436dff 596px,#4568ff 624px,#4a57ff 670px,#4a4af6 702px)"></i><i style="left:195px;width:3.6px;background:linear-gradient(#fef21f 0px,#ffe624 194px,#ffc335 278px,#ffc033 302px,#f3c12a 336px,#d9c622 364px,#cbc926 376px,#a9cf36 400px,#87d354 422px,#52d477 454px,#40d389 476px,#33d099 480px,#27cbac 486px,#08c3c5 496px,#01c0ce 500px,#01bed2 502px,#12b6e0 510px,#19b0e8 516px,#288dff 548px,#2c81ff 562px,#3d73ff 580px,#436dff 594px,#4569ff 618px,#4a56ff 670px,#4a4af6 702px)"></i><i style="left:198px;width:3.6px;background:linear-gradient(#fef21f 0px,#ffe624 196px,#ffc435 278px,#ffc033 306px,#f5c02c 344px,#e5c324 358px,#d9c622 368px,#ccc925 378px,#aacf35 402px,#89d353 424px,#54d476 456px,#40d389 476px,#34d097 480px,#28ccaa 486px,#20c9b5 490px,#0ac4c3 496px,#01c1cc 500px,#04bdd5 504px,#11b7df 510px,#18b0e7 516px,#288fff 546px,#2c80ff 562px,#3d74ff 578px,#436dff 592px,#4569ff 616px,#4a57ff 668px,#4a4af6 702px)"></i><i style="left:201px;width:3.6px;background:linear-gradient(#fef21f 0px,#ffe624 196px,#ffc435 280px,#ffc033 310px,#f7c02d 344px,#e6c324 360px,#d7c623 372px,#cac926 382px,#a8cf37 406px,#8dd250 424px,#53d476 458px,#40d389 478px,#32d099 482px,#2acda7 486px,#22c9b2 490px,#01c1cb 500px,#03bed4 504px,#10b7df 510px,#18b0e7 516px,#288eff 546px,#2c81ff 560px,#3c74ff 576px,#436dff 590px,#4569ff 614px,#4a56ff 668px,#4a4af6 702px)"></i><i style="left:204px;width:3.6px;background:linear-gradient(#fef21f 0px,#ffe624 196px,#ffc435 282px,#ffc033 312px,#f6c02d 348px,#e7c324 362px,#d8c623 374px,#cbc926 384px,#a8cf36 408px,#66d46c 450px,#52d477 460px,#40d389 478px,#33d098 482px,#27cbac 488px,#01c1cb 500px,#03bed3 504px,#10b7df 510px,#18b0e7 516px,#288eff 546px,#2c80ff 560px,#3d73ff 576px,#436cff 590px,#4a57ff 666px,#4a4af6 702px)"></i><i style="left:207px;width:3.6px;background:linear-gradient(#fef21f 0px,#ffe624 198px,#ffc435 284px,#ffc033 316px,#f7c02d 350px,#e7c325 364px,#d8c623 376px,#cbc926 386px,#a8cf37 410px,#7cd45c 438px,#51d478 462px,#40d389 478px,#33d098 482px,#27cbac 488px,#01c1cb 500px,#03bed3 504px,#10b7df 510px,#18b0e7 516px,#288dff 546px,#2d7fff 560px,#3d74ff 574px,#436dff 588px,#4a56ff 666px,#4a4af6 702px)"></i><i style="left:210px;width:3.6px;background:linear-gradient(#fef21f 0px,#ffe624 200px,#ffc435 286px,#ffc033 318px,#f6c02d 352px,#e6c324 366px,#d8c623 378px,#cac926 388px,#aacf35 410px,#7ad45d 440px,#52d477 462px,#40d389 478px,#33d098 482px,#27cbac 488px,#01c1cb 500px,#03bed4 504px,#10b7df 510px,#19b0e8 516px,#288fff 544px,#2c80ff 558px,#3d73ff 574px,#436dff 586px,#4a56ff 666px,#4a4af6 702px)"></i><i style="left:213px;width:3.6px;background:linear-gradient(#fef21f 0px,#ffe624 200px,#ffc435 288px,#ffc033 320px,#f7c02d 352px,#d9c622 378px,#ccc925 388px,#a9cf36 412px,#7cd45c 440px,#52d477 462px,#40d389 478px,#33d098 482px,#27cbac 488px,#01c1cb 500px,#03bdd4 504px,#11b7df 510px,#19b0e8 516px,#288eff 544px,#2c80ff 558px,#3c74ff 572px,#436dff 586px,#4a57ff 664px,#4a4af6 702px)"></i><i style="left:216px;width:3.6px;background:linear-gradient(#fef21f 0px,#ffe624 202px,#ffc435 290px,#ffc033 320px,#f6c02d 354px,#e7c325 368px,#d8c623 380px,#cbc926 390px,#abcf35 412px,#7ad45e 442px,#52d477 462px,#40d389 478px,#33d098 482px,#2bcda6 486px,#22cab1 490px,#01c1cb 500px,#03bdd4 504px,#11b7e0 510px,#19b0e8 516px,#288eff 544px,#2d7fff 558px,#3d74ff 572px,#436cff 586px,#4a56ff 664px,#4a4af6 702px)"></i><i style="left:219px;width:3.6px;background:linear-gradient(#fef21f 0px,#ffe624 202px,#ffc435 290px,#ffc033 322px,#f7c02d 354px,#dac623 380px,#ccc825 390px,#a9cf36 414px,#7bd45d 442px,#54d476 462px,#40d389 478px,#1ec8b6 492px,#02c2ca 500px,#01c0cf 502px,#19b0e8 516px,#288dff 544px,#2c81ff 556px,#3d73ff 572px,#436dff 584px,#4a56ff 664px,#4a4af6 702px)"></i><i style="left:222px;width:3.6px;background:linear-gradient(#fef21f 0px,#ffe624 202px,#ffc435 292px,#ffc034 322px,#f7c02d 356px,#e5c324 372px,#d8c623 382px,#cbc926 392px,#aacf35 414px,#7cd45c 442px,#52d478 464px,#40d389 480px,#32d09a 484px,#29cca8 488px,#20c9b4 492px,#02c2ca 500px,#01c0cf 502px,#19afe8 516px,#288dff 544px,#2c80ff 556px,#3c74ff 570px,#436dff 584px,#4a56ff 664px,#4a4af6 702px)"></i><i style="left:225px;width:3.6px;background:linear-gradient(#fef21f 0px,#ffe624 204px,#ffc435 294px,#ffc033 324px,#f7c02d 356px,#d9c622 382px,#ccc925 392px,#a8cf36 416px,#7ad45e 444px,#52d477 464px,#40d389 480px,#32d09a 484px,#25cbae 490px,#08c4c4 498px,#01c0ce 502px,#19afe8 516px,#288eff 542px,#2d80ff 556px,#3d74ff 570px,#436cff 584px,#4a57ff 662px,#4a4af6 702px)"></i><i style="left:228px;width:3.6px;background:linear-gradient(#fef21f 0px,#ffe624 204px,#ffc435 294px,#ffc033 326px,#f6c02d 358px,#e7c324 372px,#d8c623 384px,#cac926 394px,#aacf36 416px,#7bd45d 444px,#54d476 464px,#40d389 480px,#32d099 484px,#26cbae 490px,#09c4c4 498px,#01c0ce 502px,#19afe9 516px,#288eff 542px,#2c81ff 554px,#3c74ff 568px,#436dff 582px,#4a57ff 662px,#4a4af6 702px)"></i><i style="left:231px;width:3.6px;background:linear-gradient(#fef21f 0px,#ffe624 206px,#ffc435 296px,#ffc033 326px,#f7c02d 358px,#e5c324 374px,#d9c623 384px,#cbc925 394px,#abcf35 416px,#7cd45c 444px,#51d478 466px,#41d388 480px,#27cbac 490px,#09c4c4 498px,#01c0ce 502px,#1aafe9 516px,#288dff 542px,#2d80ff 554px,#3d73ff 568px,#436dff 580px,#4a56ff 662px,#4a4af6 702px)"></i><i style="left:234px;width:3.6px;background:linear-gradient(#fef21f 0px,#ffe624 208px,#ffc435 296px,#ffc033 326px,#f7c02d 358px,#dac622 384px,#ccc925 394px,#a9cf36 418px,#7ad45e 446px,#52d477 466px,#40d389 482px,#31d09b 486px,#28ccaa 490px,#1cc8b7 494px,#04c2c8 500px,#01c0ce 502px,#02bed3 504px,#11b7e0 510px,#1aaee9 516px,#288eff 540px,#2c80ff 552px,#3977ff 562px,#436cff 580px,#4a57ff 660px,#4a4af6 702px)"></i><i style="left:237px;width:3.6px;background:linear-gradient(#fef21f 0px,#ffe624 208px,#ffc435 298px,#ffc033 328px,#f7c02d 360px,#e7c325 374px,#d8c623 386px,#cac926 396px,#a9cf36 418px,#7ad45d 446px,#53d476 466px,#40d389 482px,#31d09b 486px,#28ccaa 490px,#1cc8b7 494px,#04c2c9 500px,#01c0ce 502px,#02bed3 504px,#12b6e0 510px,#1aaee9 516px,#288dff 540px,#2d7fff 552px,#3877ff 560px,#436cff 578px,#4a57ff 660px,#4a4af6 702px)"></i><i style="left:240px;width:3.6px;background:linear-gradient(#fef21f 0px,#ffe624 210px,#ffc435 298px,#ffc033 328px,#f7c02d 360px,#e5c324 376px,#d9c622 386px,#cbc925 396px,#aacf35 418px,#7bd45d 446px,#54d476 466px,#40d389 482px,#31d09b 486px,#28ccaa 490px,#1cc8b7 494px,#0ac4c3 498px,#01c0ce 502px,#18b0e7 514px,#288fff 538px,#2c81ff 550px,#3d73ff 564px,#436cff 576px,#4a56ff 660px,#4a4af6 702px)"></i><i style="left:243px;width:3.6px;background:linear-gradient(#fef21f 0px,#ffe624 210px,#ffc435 300px,#ffc033 330px,#f7c02d 360px,#dac623 386px,#ccc925 396px,#a8cf37 420px,#7fd35a 444px,#51d478 468px,#40d389 482px,#31d09b 486px,#28ccaa 490px,#03c2c9 500px,#01c0cf 502px,#19b0e8 514px,#288eff 538px,#2d80ff 550px,#3b76ff 560px,#4070ff 568px,#4a57ff 658px,#4a4af6 702px)"></i><i style="left:246px;width:3.6px;background:linear-gradient(#fef21f 0px,#ffe624 212px,#ffc435 300px,#ffc033 330px,#f7c02d 362px,#e5c324 378px,#d8c623 388px,#cac926 398px,#a9cf36 420px,#7dd45c 446px,#51d478 468px,#40d389 482px,#31d09b 486px,#28ccaa 490px,#03c2c9 500px,#01c0cf 502px,#19b0e8 514px,#2890fe 536px,#2c81ff 548px,#3c75ff 560px,#416fff 568px,#4a57ff 658px,#4a4af6 702px)"></i><i style="left:249px;width:3.6px;background:linear-gradient(#fef21f 0px,#ffe624 212px,#ffc435 300px,#ffc033 332px,#f7c02d 362px,#d9c622 388px,#cbc925 398px,#aacf36 420px,#7dd45b 446px,#51d478 468px,#40d389 482px,#24caaf 492px,#04c2c9 500px,#01c0ce 502px,#19b0e8 514px,#288ffe 536px,#2c80ff 548px,#3b75ff 558px,#426eff 568px,#4a56ff 658px,#4a4af6 702px)"></i><i style="left:252px;width:3.6px;background:linear-gradient(#fef21f 0px,#ffe624 214px,#ffc435 302px,#ffc033 332px,#f7c02d 364px,#dac622 388px,#ccc925 398px,#aacf35 420px,#7ad45d 448px,#52d477 468px,#40d389 484px,#30cf9d 488px,#26cbad 492px,#05c3c7 500px,#01c0cd 502px,#02bed3 504px,#12b6e1 510px,#19b0e8 514px,#288eff 536px,#2d7fff 548px,#3c74ff 558px,#416eff 566px,#4a56ff 658px,#4a4af6 702px)"></i><i style="left:255px;width:3.6px;background:linear-gradient(#fef21f 0px,#ffe624 216px,#ffc435 302px,#ffc033 332px,#f7c02d 364px,#e7c324 378px,#d7c623 390px,#ccc925 398px,#abcf35 420px,#7bd45d 448px,#53d476 468px,#40d389 484px,#30cf9c 488px,#27cbac 492px,#06c3c7 500px,#01c1cd 502px,#02bed2 504px,#12b6e1 510px,#19b0e8 514px,#288eff 536px,#2c81ff 546px,#3d74ff 558px,#426eff 566px,#4a56ff 658px,#4a4af6 702px)"></i><i style="left:258px;width:3.6px;background:linear-gradient(#fef21f 0px,#ffe624 216px,#ffc435 302px,#ffc033 332px,#f7c02d 364px,#e7c324 378px,#d7c623 390px,#ccc925 398px,#abcf35 420px,#7bd45d 448px,#52d477 468px,#40d389 484px,#30cf9d 488px,#27cbac 492px,#06c3c7 500px,#01c1cc 502px,#01bed2 504px,#12b6e0 510px,#18b0e7 514px,#288fff 536px,#2d7fff 548px,#3d74ff 558px,#436cff 568px,#4a57ff 658px,#4a4af6 702px)"></i><i style="left:261px;width:3.6px;background:linear-gradient(#fef21f 0px,#ffe624 216px,#ffc435 304px,#ffc033 332px,#f6c02d 364px,#d9c622 388px,#cbc926 398px,#abcf35 418px,#65d46c 456px,#53d476 464px,#3cd28e 484px,#25caaf 492px,#04c2c9 500px,#01c0ce 502px,#19afe8 514px,#288eff 536px,#2c81ff 546px,#3e73ff 558px,#436bff 568px,#4a56ff 658px,#4a4af6 702px)"></i><i style="left:264px;width:3.6px;background:linear-gradient(#fef21f 0px,#ffe624 218px,#ffc435 304px,#ffc033 332px,#f7c02d 362px,#e5c324 378px,#d8c623 388px,#cbc925 396px,#abcf35 414px,#87d354 432px,#53d476 456px,#35d196 484px,#1fc9b5 492px,#05c2c8 498px,#01c0ce 500px,#02bed3 502px,#13b6e1 508px,#19b0e8 512px,#288eff 534px,#2c80ff 544px,#3f72ff 556px,#4667ff 570px,#4a57ff 652px,#4a4af6 702px)"></i><i style="left:267px;width:3.6px;background:linear-gradient(#fef21f 0px,#ffe624 218px,#ffc335 306px,#ffc033 334px,#f7c02d 362px,#e5c324 378px,#d8c623 388px,#ccc925 396px,#abcf35 414px,#87d354 432px,#54d476 456px,#35d196 484px,#20c9b4 492px,#06c3c7 498px,#01c1cd 500px,#01bed2 502px,#12b6e0 508px,#18b1e7 512px,#288ffe 534px,#2d80ff 546px,#3d74ff 556px,#4567ff 572px,#4a57ff 654px,#4a4af6 702px)"></i><i style="left:270px;width:3.6px;background:linear-gradient(#fef21f 0px,#ffe624 220px,#ffc435 306px,#ffc033 334px,#f6c02d 364px,#e7c324 378px,#d7c623 390px,#c6ca28 402px,#a8cf37 420px,#65d46c 456px,#53d476 464px,#3cd28e 484px,#20c9b4 494px,#07c3c6 500px,#01bfd1 504px,#14b5e2 512px,#19afe8 516px,#288eff 540px,#2c80ff 552px,#3d74ff 564px,#436dff 574px,#4a57ff 660px,#4a4af6 702px)"></i><i style="left:273px;width:3.6px;background:linear-gradient(#fef21f 0px,#ffe624 220px,#ffc435 306px,#ffc033 334px,#f7c02d 364px,#d9c622 390px,#cbc925 400px,#a9cf36 422px,#7bd45d 448px,#52d477 468px,#40d389 484px,#31d09b 488px,#28ccaa 492px,#1dc8b7 496px,#05c3c8 502px,#01c0cd 504px,#01bed2 506px,#10b7df 512px,#19afe8 518px,#288dff 544px,#2c80ff 556px,#3d73ff 570px,#436cff 582px,#4a56ff 664px,#4a4af6 702px)"></i><i style="left:276px;width:3.6px;background:linear-gradient(#fef21f 0px,#ffe624 222px,#ffc435 306px,#ffc033 336px,#f7c02d 366px,#e5c324 382px,#d8c623 392px,#cac926 402px,#aacf35 422px,#7cd45c 448px,#52d477 468px,#40d389 482px,#22cab2 494px,#0bc4c2 500px,#01c1cd 504px,#01bfd1 506px,#0fb8de 512px,#18b0e8 518px,#288fff 544px,#2c80ff 558px,#3d74ff 572px,#436dff 584px,#4a57ff 664px,#4a4af6 702px)"></i><i style="left:279px;width:3.6px;background:linear-gradient(#fef21f 0px,#ffe624 222px,#ffc435 308px,#ffc033 336px,#f7c02d 368px,#e6c324 382px,#d9c622 392px,#cbc926 402px,#abcf35 422px,#7cd45c 448px,#52d477 468px,#40d389 482px,#33d099 486px,#27cbad 492px,#0bc4c3 500px,#01c1cc 504px,#01bfd1 506px,#12b6e1 514px,#1aaee9 520px,#288eff 546px,#2d80ff 560px,#3d74ff 574px,#436cff 588px,#4569ff 612px,#4a56ff 666px,#4a4af6 702px)"></i><i style="left:282px;width:3.6px;background:linear-gradient(#fef21f 0px,#ffe624 224px,#ffc435 308px,#ffc033 338px,#f6c02d 370px,#e5c324 384px,#d8c623 394px,#ccc925 402px,#a8cf37 424px,#7dd45c 448px,#52d477 468px,#40d389 482px,#33d099 486px,#27cbad 492px,#01c1cc 504px,#04bdd5 508px,#12b6e0 514px,#19afe9 520px,#288dff 548px,#2c81ff 560px,#3d74ff 576px,#436dff 590px,#4569ff 614px,#4a57ff 666px,#4a4af6 702px)"></i><i style="left:285px;width:3.6px;background:linear-gradient(#fef21f 0px,#ffe624 224px,#ffc435 310px,#ffc033 340px,#f7c02d 370px,#d9c622 394px,#cac926 404px,#a9cf36 424px,#7dd45c 448px,#51d478 468px,#40d389 482px,#33d099 486px,#27cbac 492px,#01c1cb 504px,#03bdd4 508px,#11b7df 514px,#19b0e8 520px,#288eff 548px,#2c80ff 562px,#3d74ff 578px,#436dff 592px,#4569ff 614px,#4a57ff 666px,#4a4af6 702px)"></i><i style="left:288px;width:3.6px;background:linear-gradient(#fef21f 0px,#ffe624 224px,#ffc435 310px,#ffc033 340px,#f7c02d 372px,#e5c324 386px,#d7c623 396px,#cbc925 404px,#aacf35 424px,#7dd45b 448px,#51d478 468px,#40d389 480px,#22c9b2 494px,#02c2cb 504px,#02bed3 508px,#10b8df 514px,#18b1e7 520px,#288dff 550px,#2d80ff 564px,#3c74ff 578px,#436dff 592px,#4a56ff 668px,#4a4af6 702px)"></i><i style="left:291px;width:3.6px;background:linear-gradient(#fef21f 0px,#ffe624 226px,#ffc435 310px,#ffc034 340px,#f7c02d 372px,#d9c623 396px,#cdc825 404px,#abcf35 424px,#7ed35b 448px,#51d478 468px,#40d389 480px,#24cab0 494px,#09c4c4 502px,#01c1cd 506px,#01bfd1 508px,#12b6e0 516px,#19afe8 522px,#288eff 550px,#2c80ff 564px,#3d74ff 580px,#436dff 594px,#4569ff 616px,#4a56ff 668px,#4a4af6 702px)"></i><i style="left:294px;width:3.6px;background:linear-gradient(#fef21f 0px,#ffe624 226px,#ffc435 312px,#ffc033 342px,#f7c02d 374px,#dac623 396px,#cac926 406px,#a8cf36 426px,#7bd45d 450px,#52d477 468px,#42d387 480px,#3cd28e 488px,#25cbae 496px,#08c4c5 504px,#01c0ce 508px,#02bed3 510px,#10b7df 516px,#1aaee9 524px,#288dff 552px,#2d7fff 566px,#3c74ff 580px,#436dff 594px,#4a57ff 668px,#4a4af6 702px)"></i><i style="left:297px;width:3.6px;background:linear-gradient(#fef21f 0px,#ffe624 226px,#ffc435 312px,#ffc033 342px,#f7c02d 374px,#e6c324 388px,#d8c623 398px,#cbc925 406px,#a9cf36 426px,#7cd45c 450px,#52d477 470px,#40d389 486px,#32d099 490px,#26cbad 496px,#0ac4c4 504px,#01c0cd 508px,#01bed2 510px,#13b6e1 518px,#1aaee9 524px,#288dff 552px,#2c80ff 566px,#3d73ff 582px,#436cff 596px,#4569ff 618px,#4a57ff 668px,#4a4af6 702px)"></i><i style="left:300px;width:3.6px;background:linear-gradient(#fef21f 0px,#ffe624 226px,#ffc435 312px,#ffc033 342px,#f7c02d 376px,#e7c325 388px,#d8c623 398px,#ccc925 406px,#aacf36 426px,#69d469 460px,#52d477 470px,#41d388 484px,#30cf9d 490px,#24caaf 496px,#09c4c4 504px,#01c0ce 508px,#01bed2 510px,#13b6e1 518px,#1aaee9 524px,#288eff 552px,#2c80ff 566px,#3d74ff 582px,#436dff 596px,#4569ff 618px,#4a57ff 668px,#4a4af6 702px)"></i><i style="left:303px;width:3.6px;background:linear-gradient(#fef21f 0px,#ffe624 226px,#ffc435 312px,#ffc033 342px,#f7c02d 376px,#e7c325 388px,#d8c623 398px,#ccc925 406px,#a9cf36 426px,#68d46a 460px,#52d478 470px,#40d389 484px,#33d098 488px,#27cbab 494px,#1dc8b6 498px,#08c3c5 504px,#01c0ce 508px,#02bed3 510px,#10b8de 516px,#1aaee9 524px,#288eff 552px,#2c80ff 566px,#3d74ff 582px,#436dff 596px,#4569ff 620px,#4a56ff 670px,#4a4af6 702px)"></i><i style="left:306px;width:3.6px;background:linear-gradient(#fef21f 0px,#ffe624 224px,#ffc435 312px,#ffc033 342px,#f7c02d 376px,#e7c324 388px,#d8c623 398px,#cbc925 406px,#a8cf36 426px,#8ad351 442px,#54d476 468px,#40d389 484px,#33d099 488px,#27cbac 494px,#01c1cb 506px,#03bed3 510px,#10b7df 516px,#18b0e7 522px,#288eff 552px,#2c80ff 566px,#3d74ff 582px,#436dff 596px,#4569ff 620px,#4a56ff 670px,#4a4af6 702px)"></i><i style="left:309px;width:3.6px;background:linear-gradient(#fef21f 0px,#ffe624 224px,#ffc435 312px,#ffc033 342px,#f7c02d 374px,#dac623 396px,#cac926 406px,#aacf36 424px,#8ad351 440px,#52d477 466px,#3fd38a 484px,#31d09a 488px,#29cca8 492px,#20c9b4 496px,#0ac4c3 502px,#01c1cd 506px,#01bfd1 508px,#12b6e0 516px,#19afe8 522px,#288fff 550px,#2d7fff 566px,#3c74ff 580px,#436dff 594px,#4568ff 622px,#4a56ff 670px,#4a4af6 702px)"></i><i style="left:312px;width:3.6px;background:linear-gradient(#fef21f 0px,#ffe624 224px,#ffc435 312px,#ffc033 342px,#f6c02d 374px,#e7c325 386px,#d8c623 396px,#cac926 404px,#accf35 420px,#7cd45c 442px,#52d477 458px,#3cd28d 472px,#3bd28f 478px,#27cbad 490px,#08c3c5 500px,#01c0ce 504px,#02bed2 506px,#12b6e1 514px,#19afe9 520px,#288eff 548px,#2d7fff 562px,#3d73ff 576px,#446bff 590px,#4666ff 622px,#4a57ff 668px,#4a4af6 702px)"></i><i style="left:315px;width:3.6px;background:linear-gradient(#fef21f 0px,#ffe624 222px,#ffc435 310px,#ffc033 342px,#f6c02d 374px,#d9c622 394px,#cbc926 402px,#aacf36 418px,#80d359 436px,#50d479 454px,#36d194 470px,#30cf9c 478px,#27cbad 486px,#1fc8b5 490px,#01c1cb 500px,#02bed3 504px,#18b1e7 516px,#288eff 544px,#2c81ff 556px,#3d73ff 570px,#4568ff 588px,#4a57ff 666px,#4a4af6 702px)"></i><i style="left:318px;width:3.6px;background:linear-gradient(#fef21f 0px,#ffe624 222px,#ffc435 310px,#ffc033 342px,#f6c02d 374px,#e6c324 386px,#d7c623 396px,#ccc825 402px,#a9cf36 420px,#7dd45b 440px,#51d478 458px,#3dd28c 472px,#35d196 484px,#23cab1 492px,#01c1cb 502px,#03bed4 506px,#11b7df 512px,#19b0e8 518px,#288dff 546px,#2c80ff 558px,#3f71ff 574px,#4568ff 590px,#4764ff 618px,#4a56ff 668px,#4a4af6 702px)"></i><i style="left:321px;width:3.6px;background:linear-gradient(#fef21f 0px,#ffe624 220px,#ffc435 310px,#ffc033 340px,#f7c02d 374px,#e7c325 386px,#d9c622 396px,#ccc925 404px,#a8cf37 424px,#89d352 440px,#51d478 466px,#3ed28b 484px,#31d09b 488px,#25caaf 494px,#08c4c4 502px,#01c0ce 506px,#02bed2 508px,#10b8de 514px,#18b1e7 520px,#288fff 548px,#2c80ff 562px,#3d73ff 576px,#446bff 590px,#4667ff 618px,#4a57ff 668px,#4a4af6 702px)"></i><i style="left:324px;width:3.6px;background:linear-gradient(#fef21f 0px,#ffe624 220px,#ffc435 308px,#ffc033 340px,#f7c02d 374px,#dac622 396px,#cac926 406px,#abcf35 424px,#7ed35b 448px,#54d476 468px,#40d389 484px,#32d099 488px,#27cbad 494px,#01c1cc 506px,#04bdd5 510px,#12b6e0 516px,#19afe8 522px,#288eff 550px,#2d7fff 564px,#3d74ff 578px,#436cff 592px,#4569ff 618px,#4a57ff 668px,#4a4af6 702px)"></i><i style="left:327px;width:3.6px;background:linear-gradient(#fef21f 0px,#ffe624 218px,#ffc435 308px,#ffc033 340px,#f7c02d 374px,#dac623 396px,#cac926 406px,#a8cf36 426px,#7cd45c 450px,#51d478 470px,#40d389 484px,#33d099 488px,#27cbac 494px,#01c1cc 506px,#04bdd5 510px,#11b7e0 516px,#19afe8 522px,#288eff 550px,#2c80ff 564px,#3c74ff 578px,#436dff 592px,#4569ff 618px,#4a57ff 668px,#4a4af6 702px)"></i><i style="left:330px;width:3.6px;background:linear-gradient(#fef21f 0px,#ffe624 216px,#ffc435 306px,#ffc033 338px,#f7c02d 374px,#dac623 396px,#cac926 406px,#a8cf36 426px,#7cd45c 450px,#52d477 470px,#40d389 484px,#33d099 488px,#27cbac 494px,#01c1cc 506px,#04bdd4 510px,#11b7e0 516px,#19afe8 522px,#288eff 550px,#2c80ff 564px,#3d73ff 580px,#436dff 594px,#4569ff 616px,#4a56ff 668px,#4a4af6 702px)"></i><i style="left:333px;width:3.6px;background:linear-gradient(#fef21f 0px,#ffe624 216px,#ffd12d 262px,#ffc435 304px,#ffc033 338px,#f7c02d 374px,#d9c622 396px,#cac926 406px,#a8cf37 426px,#7cd45c 450px,#52d478 470px,#40d389 484px,#33d099 488px,#27cbad 494px,#01c1cc 506px,#04bdd5 510px,#11b7e0 516px,#19afe8 522px,#288eff 550px,#2c80ff 564px,#3c75ff 578px,#426dff 592px,#4569ff 616px,#4a56ff 668px,#4a4af6 702px)"></i><i style="left:336px;width:3.6px;background:linear-gradient(#fef21f 0px,#ffe624 212px,#ffc435 300px,#ffc033 336px,#f7c02d 374px,#e7c325 386px,#d9c623 396px,#ccc925 404px,#aacf35 424px,#7bd45d 450px,#51d478 470px,#40d389 484px,#33d099 488px,#27cbad 494px,#01c1cc 506px,#01bfd1 508px,#15b4e4 518px,#19afe9 522px,#288dff 550px,#2d80ff 564px,#3c74ff 578px,#436dff 592px,#4a56ff 668px,#4a4af6 702px)"></i><i style="left:339px;width:3.6px;background:linear-gradient(#fef21f 0px,#ffe624 212px,#ffd12d 256px,#ffc435 298px,#ffc033 332px,#f7c02d 374px,#e6c324 386px,#d7c623 396px,#cac926 404px,#a8cf37 424px,#8bd251 440px,#51d478 470px,#40d389 484px,#32d099 488px,#26cbad 494px,#0bc4c3 502px,#01c1cd 506px,#01bfd1 508px,#12b6e1 516px,#1aaee9 522px,#288dff 550px,#2c81ff 562px,#3d74ff 578px,#436dff 592px,#4569ff 614px,#4a57ff 666px,#4a4af6 702px)"></i><i style="left:342px;width:3.6px;background:linear-gradient(#fef21f 0px,#ffe624 208px,#ffd12d 254px,#ffc435 294px,#ffc033 328px,#f7c02d 374px,#e5c324 386px,#d8c623 394px,#cac926 402px,#a8cf37 422px,#8cd250 438px,#52d477 468px,#40d389 484px,#32d099 488px,#26cbad 494px,#0ac4c4 502px,#01c0cd 506px,#01bed2 508px,#13b5e2 516px,#1aaee9 522px,#288eff 548px,#2c80ff 562px,#3c75ff 576px,#436dff 590px,#4a57ff 666px,#4a4af6 702px)"></i><i style="left:345px;width:3.6px;background:linear-gradient(#fef21f 0px,#ffe624 204px,#ffd12d 250px,#ffc435 288px,#ffc033 322px,#f6c02c 372px,#d9c622 390px,#ccc925 398px,#a9cf36 418px,#8ad352 436px,#54d476 466px,#40d389 484px,#32d09a 488px,#25cbae 494px,#08c4c5 502px,#01c0cf 506px,#19b0e8 520px,#288dff 548px,#2d7fff 562px,#3d74ff 576px,#436dff 590px,#4a57ff 666px,#4a4af6 702px)"></i><i style="left:348px;width:3.6px;background:linear-gradient(#fef21f 0px,#ffe624 202px,#ffd12d 244px,#ffc435 280px,#ffc033 314px,#f7c02d 348px,#f7c02d 368px,#dbc523 384px,#bfcb2b 400px,#aacf36 412px,#88d353 432px,#52d477 464px,#40d389 484px,#31d09b 488px,#29cca9 492px,#01c1cc 504px,#04bdd5 508px,#18b1e7 518px,#288eff 546px,#2c80ff 560px,#3c74ff 574px,#436dff 588px,#4a56ff 666px,#4a4af6 702px)"></i><i style="left:351px;width:3.6px;background:linear-gradient(#fef21f 0px,#ffe624 200px,#ffd02d 240px,#ffc335 278px,#ffc033 302px,#f0c128 350px,#f1c129 366px,#d8c623 378px,#becb2b 392px,#a9cf36 404px,#83d357 428px,#52d477 460px,#40d389 482px,#32d099 486px,#25cbae 492px,#08c4c5 500px,#01c0cf 504px,#15b4e3 514px,#19afe9 518px,#288fff 544px,#2c80ff 558px,#3c75ff 572px,#436dff 586px,#4a56ff 666px,#4a4af6 702px)"></i><i style="left:354px;width:3.6px;background:linear-gradient(#fef21f 0px,#ffe624 194px,#ffcc30 242px,#ffc036 280px,#ffc033 288px,#f1c129 316px,#edc227 338px,#d4c723 352px,#d2c724 364px,#cbc926 370px,#aacf36 390px,#94d24a 404px,#54d476 452px,#40d389 482px,#30cf9c 486px,#27cbab 490px,#09c4c4 498px,#01c0ce 502px,#19afe9 516px,#288fff 542px,#2c80ff 556px,#3d73ff 572px,#436dff 584px,#4a57ff 664px,#4a4af6 702px)"></i><i style="left:357px;width:3.6px;background:linear-gradient(#fef21f 0px,#ffe624 190px,#ffca31 240px,#ffc335 256px,#ffc033 274px,#f0c128 294px,#ddc523 330px,#c9c926 338px,#b0ce32 346px,#a4d03c 352px,#a3d03c 356px,#aece33 364px,#abcf35 368px,#82d358 396px,#52d477 438px,#3fd38a 476px,#3ad28f 480px,#24cab0 488px,#0cc5c2 494px,#01c1cd 498px,#01bed2 500px,#10b8de 506px,#19b0e8 512px,#288eff 540px,#2c80ff 554px,#3d74ff 568px,#436cff 582px,#4a57ff 664px,#4a4af6 702px)"></i><i style="left:360px;width:3.6px;background:linear-gradient(#fef21f 0px,#ffe624 188px,#ffcb31 230px,#ffc435 246px,#ffc033 262px,#e5c324 286px,#dfc523 292px,#d9c622 308px,#cdc825 314px,#a7cf38 332px,#96d148 338px,#79d45e 346px,#6dd467 350px,#66d46b 354px,#66d46b 356px,#76d461 362px,#7bd45d 366px,#52d477 402px,#3bd28f 454px,#39d290 468px,#23cab1 480px,#01c1cb 490px,#03bed4 494px,#10b7df 500px,#19b0e8 506px,#288eff 534px,#2c80ff 548px,#3c75ff 560px,#4569ff 580px,#4a57ff 662px,#4a4af6 702px)"></i><i style="left:363px;width:3.6px;background:linear-gradient(#fef21f 0px,#ffe624 182px,#ffc435 236px,#fec033 252px,#f0c128 264px,#dac623 280px,#cdc825 292px,#b8cd2e 306px,#aacf35 312px,#85d355 328px,#67d46b 338px,#4fd47a 344px,#3ad28f 354px,#38d292 358px,#40d389 372px,#3dd28c 404px,#2fcf9e 452px,#1ec8b5 466px,#07c3c6 476px,#01c0cd 480px,#03bdd4 484px,#12b6e0 492px,#19b0e8 498px,#288eff 528px,#2d7fff 542px,#3d74ff 554px,#426dff 562px,#4764ff 580px,#4a56ff 660px,#4a4af6 702px)"></i><i style="left:366px;width:3.6px;background:linear-gradient(#fef21f 0px,#ffe624 180px,#ffc435 228px,#fec032 242px,#e7c325 258px,#dac623 266px,#cdc825 276px,#a9cf36 298px,#7dd45c 320px,#50d47a 336px,#32d099 352px,#2fcf9f 356px,#2fcf9e 360px,#3cd28d 368px,#3fd38a 372px,#37d193 406px,#22cab2 448px,#01c1cb 470px,#02bed3 476px,#19b0e8 494px,#288eff 528px,#2c80ff 542px,#3e72ff 558px,#4667ff 578px,#4a56ff 664px,#4a4af6 702px)"></i><i style="left:369px;width:3.6px;background:linear-gradient(#fef21f 0px,#ffe624 174px,#ffc435 220px,#fec033 232px,#edc227 244px,#d8c623 256px,#abcf35 286px,#8bd251 306px,#68d46a 322px,#51d478 330px,#31d09a 350px,#2ccea3 358px,#2fcf9e 362px,#3bd28e 368px,#3ed28b 372px,#37d193 396px,#24caaf 438px,#1dc8b6 446px,#01c1cc 466px,#02bed2 472px,#13b5e2 486px,#19afe9 494px,#288dff 532px,#2d7fff 548px,#3d73ff 564px,#446bff 580px,#4665ff 616px,#4a56ff 668px,#4a4af6 702px)"></i><i style="left:372px;width:3.6px;background:linear-gradient(#fef21f 0px,#ffe624 172px,#ffc335 214px,#fec033 224px,#f0c128 232px,#dac523 244px,#c1cb2a 260px,#aacf36 280px,#87d354 304px,#67d46b 320px,#51d478 328px,#31d09c 350px,#2ccea4 358px,#2fcf9e 362px,#3dd28c 370px,#39d291 386px,#30cf9d 410px,#25cbae 432px,#1fc9b5 440px,#01c1cb 462px,#01bfd2 468px,#19afe8 492px,#288eff 532px,#2c80ff 550px,#3d74ff 568px,#436dff 584px,#4568ff 618px,#4a56ff 670px,#4a4af6 702px)"></i><i style="left:375px;width:3.6px;background:linear-gradient(#fef21f 0px,#ffe624 168px,#ffc335 208px,#ffc033 218px,#e8c325 228px,#d8c623 236px,#c4ca28 250px,#aacf36 278px,#84d356 306px,#69d469 320px,#50d479 330px,#32d099 350px,#2dcea1 358px,#33d099 364px,#3cd28e 368px,#3ed28b 372px,#38d291 392px,#25cbae 432px,#1ec8b6 440px,#01c1cb 460px,#01bfd1 466px,#19b0e8 490px,#288dff 534px,#2c80ff 552px,#3d74ff 572px,#426dff 588px,#4569ff 622px,#4a57ff 672px,#4a4af6 702px)"></i><i style="left:378px;width:3.6px;background:linear-gradient(#fef21f 0px,#ffe624 166px,#ffc335 204px,#ffc033 214px,#f8c02e 218px,#e6c324 224px,#d1c724 234px,#b9cc2e 268px,#a8cf37 284px,#83d357 312px,#68d46a 326px,#52d477 334px,#37d193 352px,#35d196 358px,#3dd28c 366px,#40d389 372px,#3ed28b 398px,#23cab1 438px,#01c1cb 462px,#01bed2 468px,#10b8df 480px,#19afe8 492px,#288dff 536px,#2c81ff 554px,#3d74ff 576px,#436dff 594px,#4568ff 632px,#4a57ff 674px,#4a4af6 702px)"></i><i style="left:381px;width:3.6px;background:linear-gradient(#fef21f 0px,#ffe624 162px,#ffc335 202px,#ffc033 212px,#f5c12b 218px,#e4c324 224px,#d6c623 232px,#cbc926 266px,#b4cd30 286px,#a8cf37 296px,#90d24d 316px,#50d479 346px,#4dd47c 352px,#4fd47a 356px,#51d478 358px,#63d46d 364px,#67d46b 368px,#52d477 382px,#43d386 398px,#41d388 410px,#36d194 422px,#21c9b3 446px,#08c4c5 460px,#01c1cc 466px,#02bed3 472px,#11b7e0 484px,#19b0e8 494px,#288eff 538px,#2c80ff 558px,#3c74ff 580px,#426dff 598px,#4569ff 636px,#4a57ff 676px,#4a4af6 702px)"></i><i style="left:384px;width:3.6px;background:linear-gradient(#fef21f 0px,#ffe624 160px,#ffc435 202px,#fec033 214px,#eec127 222px,#e5c324 228px,#e0c423 268px,#ccc925 286px,#c4ca29 292px,#b7cd2f 310px,#acce34 318px,#79d45e 344px,#79d45e 350px,#8bd251 360px,#8ed24f 366px,#52d477 402px,#3fd38a 424px,#3cd28d 432px,#32d09a 438px,#1fc9b5 454px,#0ac4c3 464px,#01c1cb 470px,#02bed3 476px,#18b1e7 496px,#288eff 542px,#2c80ff 562px,#3c74ff 584px,#426dff 604px,#4568ff 644px,#4a56ff 680px,#4a4af6 702px)"></i><i style="left:387px;width:3.6px;background:linear-gradient(#fef21f 0px,#ffe624 158px,#ffc435 208px,#ffc034 220px,#f6c02d 232px,#efc128 268px,#dec523 292px,#ddc523 312px,#bfcb2b 330px,#a2d03d 342px,#a1d03e 346px,#aacf35 352px,#b1ce32 358px,#abcf35 366px,#84d357 388px,#51d478 416px,#40d389 436px,#30cf9d 446px,#27cbac 454px,#1ec8b5 460px,#08c4c4 470px,#01c1cd 476px,#01bed2 480px,#12b6e0 492px,#19afe9 502px,#288dff 546px,#2c80ff 566px,#3c74ff 588px,#426dff 608px,#4569ff 648px,#4a56ff 682px,#4a4af6 702px)"></i><i style="left:390px;width:3.6px;background:linear-gradient(#fef21f 0px,#ffe624 156px,#ffcb31 202px,#ffc036 232px,#f9c02f 268px,#efc127 290px,#eac226 316px,#dec523 332px,#cbc926 344px,#d0c824 352px,#cec825 358px,#aece33 376px,#89d353 396px,#52d477 424px,#3ed28b 444px,#33d099 450px,#21c9b3 464px,#01c1cb 480px,#03bed4 486px,#18b1e7 504px,#288fff 548px,#2c80ff 570px,#3c75ff 592px,#426eff 612px,#4568ff 656px,#4a56ff 684px,#4a4af6 702px)"></i><i style="left:393px;width:3.6px;background:linear-gradient(#fef21f 0px,#ffe624 154px,#ffc534 224px,#ffc033 268px,#f3c12b 318px,#e4c324 340px,#e5c324 352px,#cdc825 368px,#abcf35 386px,#8ad352 404px,#52d478 432px,#41d388 448px,#21c9b3 470px,#0ac4c3 480px,#01c1cc 486px,#01bed2 490px,#10b7df 500px,#19b0e8 510px,#288eff 552px,#2c80ff 574px,#3c75ff 596px,#426eff 614px,#4569ff 658px,#4a57ff 684px,#4a4af6 702px)"></i><i style="left:396px;width:3.6px;background:linear-gradient(#fef21f 0px,#ffe624 154px,#ffd02d 202px,#ffc435 240px,#ffc033 282px,#f8c02e 318px,#efc128 340px,#f3c12a 350px,#d8c623 368px,#cac926 376px,#a9cf36 394px,#8bd251 410px,#52d477 438px,#3ed28c 458px,#31d09b 464px,#21c9b3 476px,#01c1cb 490px,#03bed4 496px,#0fb8de 504px,#19b0e8 514px,#288eff 556px,#2c80ff 578px,#3e72ff 606px,#4568ff 662px,#4a56ff 686px,#4a4af6 702px)"></i><i style="left:399px;width:3.6px;background:linear-gradient(#fef21f 0px,#ffe624 154px,#ffd02e 208px,#ffc435 250px,#ffc033 292px,#f5c02c 340px,#f6c02d 352px,#d9c622 372px,#ccc925 380px,#accf35 398px,#65d46c 436px,#52d477 444px,#42d387 458px,#41d388 462px,#20c9b4 482px,#07c3c6 492px,#01c1cc 496px,#02bed3 500px,#11b7e0 510px,#19b0e8 518px,#288dff 560px,#2c80ff 580px,#3f72ff 610px,#4569ff 664px,#4a56ff 688px,#4a4af6 702px)"></i><i style="left:402px;width:3.6px;background:linear-gradient(#fef21f 0px,#ffe624 156px,#ffd02e 214px,#ffc435 258px,#ffc033 300px,#f6c02c 356px,#e5c324 368px,#d8c623 376px,#ccc925 384px,#a9cf36 404px,#89d352 422px,#53d477 450px,#3fd38b 470px,#31d09b 476px,#1fc8b5 488px,#08c4c5 496px,#01c1cc 500px,#01bed2 504px,#12b6e0 514px,#19afe8 522px,#288eff 562px,#2c81ff 582px,#3f72ff 612px,#4568ff 668px,#4a56ff 688px,#4a4af6 702px)"></i><i style="left:405px;width:3.6px;background:linear-gradient(#fef21f 0px,#ffe624 158px,#ffd02d 218px,#ffc435 264px,#ffc033 306px,#f7c02d 356px,#dac623 378px,#cac926 388px,#a9cf36 408px,#89d352 426px,#52d477 456px,#41d388 472px,#40d389 476px,#24caaf 490px,#08c4c5 500px,#01c1cc 504px,#02bed3 508px,#10b7df 516px,#19b0e8 524px,#288eff 564px,#2c80ff 584px,#3f71ff 614px,#4569ff 666px,#4a56ff 688px,#4a4af6 702px)"></i><i style="left:408px;width:3.6px;background:linear-gradient(#fef21f 0px,#ffe624 164px,#ffd02d 224px,#ffc435 270px,#ffc033 310px,#f7c02d 358px,#e5c324 372px,#d7c623 382px,#cbc925 390px,#abcf35 410px,#88d353 430px,#52d477 460px,#40d389 480px,#34d097 484px,#29cca9 490px,#01c1cc 506px,#02bed3 510px,#10b7df 518px,#19b0e8 526px,#2697f8 554px,#288eff 566px,#2c80ff 586px,#3f71ff 614px,#4569ff 664px,#4a56ff 688px,#4a4af6 702px)"></i><i style="left:411px;width:3.6px;background:linear-gradient(#fef21f 0px,#ffe624 166px,#ffc435 274px,#ffc033 314px,#f7c02d 360px,#e5c324 374px,#d7c623 384px,#cbc925 392px,#abcf35 412px,#89d352 432px,#52d477 462px,#40d389 480px,#30cf9c 486px,#27cbac 492px,#07c3c6 504px,#01c0cd 508px,#03bdd4 512px,#11b7e0 520px,#19afe8 528px,#288eff 566px,#2c80ff 586px,#3b75ff 606px,#426eff 624px,#4569ff 662px,#4a57ff 686px,#4a4af6 702px)"></i><i style="left:414px;width:3.6px;background:linear-gradient(#fef21f 0px,#ffe624 174px,#ffd22d 228px,#ffc435 278px,#ffc033 318px,#f6c02d 362px,#d9c622 384px,#cbc926 394px,#aacf35 414px,#8cd250 432px,#54d476 462px,#40d389 480px,#30d09c 486px,#27cbab 492px,#20c9b5 496px,#08c4c5 504px,#01c1cc 508px,#02bed3 512px,#11b7df 520px,#19b0e8 528px,#288eff 566px,#2c80ff 586px,#3b75ff 606px,#426eff 624px,#4569ff 660px,#4a56ff 686px,#4a4af6 702px)"></i><i style="left:417px;width:3.6px;background:linear-gradient(#fef21f 0px,#ffe624 176px,#ffc435 280px,#ffc033 320px,#f7c02d 362px,#e6c324 376px,#d8c623 386px,#cdc825 394px,#a9cf36 416px,#8dd24f 432px,#54d476 462px,#3fd38a 480px,#30cf9d 486px,#27cbac 492px,#08c3c5 504px,#01c1cd 508px,#03bed3 512px,#11b7df 520px,#19b0e8 528px,#288eff 566px,#2c80ff 586px,#3c75ff 606px,#426eff 624px,#4568ff 660px,#4a56ff 686px,#4a4af6 702px)"></i><i style="left:420px;width:3.6px;background:linear-gradient(#fef21f 0px,#ffe624 182px,#ffc435 282px,#ffc033 322px,#f7c02d 364px,#dac623 386px,#cac926 396px,#a9cf36 416px,#65d46c 454px,#53d476 462px,#40d389 478px,#31d09b 484px,#28ccaa 490px,#1dc8b7 496px,#06c3c6 504px,#01c0ce 508px,#01bfd1 510px,#11b7e0 520px,#19afe8 528px,#288eff 566px,#2c80ff 586px,#3b75ff 604px,#426eff 622px,#4569ff 658px,#4a57ff 684px,#4a4af6 702px)"></i><i style="left:423px;width:3.6px;background:linear-gradient(#fef21f 0px,#ffe624 184px,#ffc435 284px,#ffc033 322px,#f7c02d 366px,#e6c324 378px,#d7c623 388px,#cbc926 396px,#a9cf36 416px,#8cd250 432px,#52d477 462px,#40d389 478px,#31d09c 484px,#28cbab 490px,#01c1cb 506px,#02bed2 510px,#10b8de 518px,#18b0e7 526px,#2697f8 554px,#288dff 566px,#2c81ff 584px,#3b75ff 604px,#426eff 622px,#4569ff 656px,#4a57ff 684px,#4a4af6 702px)"></i><i style="left:426px;width:3.6px;background:linear-gradient(#fef21f 0px,#ffe624 188px,#ffc435 286px,#ffc033 322px,#f7c02d 366px,#e6c324 378px,#d7c623 388px,#abcf35 414px,#8ad352 432px,#52d477 460px,#40d389 476px,#32d099 482px,#26cbae 490px,#06c3c6 502px,#01c0ce 506px,#01bfd1 508px,#11b7e0 518px,#19afe8 526px,#288eff 564px,#2c80ff 584px,#3c74ff 604px,#426eff 622px,#4568ff 656px,#4a56ff 684px,#4a4af6 702px)"></i><i style="left:429px;width:3.6px;background:linear-gradient(#fef21f 0px,#ffe624 190px,#ffc435 286px,#ffc033 322px,#f7c02d 366px,#e5c324 378px,#d8c623 386px,#cbc926 394px,#abcf35 412px,#8ad352 430px,#52d477 458px,#3fd38a 476px,#34d098 480px,#26cbad 488px,#07c3c6 500px,#01c0cd 504px,#03bdd4 508px,#11b7e0 516px,#19b0e8 524px,#288eff 562px,#2c80ff 582px,#3c75ff 602px,#426eff 620px,#4569ff 656px,#4a57ff 684px,#4a4af6 702px)"></i><i style="left:432px;width:3.6px;background:linear-gradient(#fef21f 0px,#ffe624 194px,#ffc435 286px,#ffc033 322px,#f7c02d 366px,#e6c324 376px,#d8c623 384px,#cac926 392px,#a9cf36 410px,#8bd251 426px,#53d476 454px,#41d388 470px,#40d389 474px,#34d097 478px,#26cbad 486px,#06c3c6 498px,#01c0ce 502px,#01bfd1 504px,#11b7e0 514px,#19afe8 522px,#288eff 560px,#2c80ff 580px,#3b75ff 600px,#426eff 618px,#4568ff 660px,#4a57ff 684px,#4a4af6 702px)"></i><i style="left:435px;width:3.6px;background:linear-gradient(#fef21f 0px,#ffe624 194px,#ffc435 286px,#ffc033 320px,#f5c02c 360px,#d8c623 380px,#cbc926 388px,#aacf36 406px,#87d354 424px,#51d478 450px,#3dd28c 470px,#33d098 474px,#27cbad 482px,#08c3c5 494px,#01c1cc 498px,#02bed3 502px,#10b8df 510px,#1aafe9 520px,#288eff 558px,#2c80ff 578px,#3c75ff 598px,#426eff 616px,#4569ff 658px,#4a57ff 684px,#4a4af6 702px)"></i><i style="left:438px;width:3.6px;background:linear-gradient(#fef21f 0px,#ffe624 196px,#ffc435 286px,#ffc033 318px,#f7c02d 352px,#dac623 374px,#cdc825 382px,#accf35 400px,#87d354 418px,#52d477 442px,#40d389 456px,#3fd38a 460px,#20c9b5 480px,#0ac4c3 488px,#01c0cd 494px,#03bed4 498px,#10b7df 506px,#19afe9 516px,#288eff 554px,#2c80ff 574px,#3d73ff 596px,#436dff 614px,#4568ff 656px,#4a56ff 684px,#4a4af6 702px)"></i><i style="left:441px;width:3.6px;background:linear-gradient(#fef21f 0px,#ffe624 200px,#ffc435 286px,#ffc033 316px,#f5c02c 350px,#d9c622 370px,#cbc925 378px,#b0ce32 392px,#84d357 412px,#51d478 432px,#3ed28c 446px,#36d194 456px,#25cbae 468px,#0ac4c3 480px,#01c1cd 486px,#02bed3 490px,#11b7e0 500px,#19b0e8 508px,#288dff 548px,#2d80ff 566px,#3d74ff 584px,#436cff 600px,#4667ff 624px,#4667ff 656px,#4a57ff 682px,#4a4af6 702px)"></i><i style="left:444px;width:3.6px;background:linear-gradient(#fef21f 0px,#ffe624 204px,#ffc435 284px,#ffc034 312px,#f7c02d 344px,#d9c623 366px,#cbc925 374px,#afce33 388px,#82d358 406px,#52d477 422px,#38d291 438px,#35d196 444px,#26cbae 458px,#09c4c4 472px,#01c1cd 478px,#02bed2 482px,#11b7df 492px,#19afe9 502px,#288eff 540px,#2c81ff 556px,#3d74ff 574px,#4569ff 594px,#4764ff 616px,#4764ff 650px,#4a56ff 680px,#4a4af6 702px)"></i><i style="left:447px;width:3.6px;background:linear-gradient(#fef21f 0px,#ffe624 206px,#ffd42c 242px,#ffc435 284px,#ffc033 312px,#f6c02d 340px,#dac622 362px,#ccc825 370px,#b1ce32 384px,#84d356 402px,#4fd47a 420px,#39d291 434px,#36d194 440px,#21c9b3 458px,#09c4c4 470px,#01c1cc 476px,#01bed2 480px,#0fb8de 490px,#18b0e8 500px,#288fff 540px,#2c81ff 558px,#3c74ff 576px,#446bff 594px,#4666ff 614px,#4665ff 636px,#4a56ff 678px,#4a4af6 702px)"></i><i style="left:450px;width:3.6px;background:linear-gradient(#fef21f 0px,#ffe624 204px,#ffc435 284px,#ffc033 310px,#f7c02d 336px,#dac622 360px,#cdc825 368px,#b1ce32 382px,#a8cf37 386px,#7fd35a 402px,#51d478 416px,#41d388 424px,#38d291 434px,#23cab1 456px,#01c1cc 476px,#02bed3 482px,#10b7df 492px,#19b0e8 502px,#288eff 544px,#2c81ff 562px,#3c74ff 582px,#436dff 598px,#4568ff 630px,#4a56ff 676px,#4a4af6 702px)"></i><i style="left:453px;width:3.6px;background:linear-gradient(#fef21f 0px,#ffe624 202px,#ffc435 284px,#ffc033 310px,#f7c02d 334px,#edc227 346px,#dac523 360px,#cdc825 368px,#b1ce32 382px,#82d358 400px,#68d46a 408px,#50d479 414px,#41d388 420px,#39d291 430px,#26cbad 452px,#01c1cc 476px,#01bfd1 480px,#11b7df 492px,#19b0e8 502px,#288eff 544px,#2c81ff 562px,#3c74ff 582px,#436dff 600px,#4569ff 628px,#4a57ff 674px,#4a4af6 702px)"></i><i style="left:456px;width:3.6px;background:linear-gradient(#fef21f 0px,#ffe624 202px,#ffc435 284px,#ffc034 310px,#f5c12b 346px,#dac623 364px,#cac926 372px,#b0ce32 384px,#80d359 402px,#52d477 416px,#46d384 422px,#20c9b4 458px,#01c1cc 476px,#03bed3 482px,#10b7df 492px,#19b0e8 502px,#288eff 542px,#2c80ff 562px,#3c75ff 580px,#436dff 598px,#4568ff 628px,#4a57ff 672px,#4a4af6 702px)"></i><i style="left:459px;width:3.6px;background:linear-gradient(#fef21f 0px,#ffe624 200px,#ffc435 284px,#ffc033 312px,#f7c02d 352px,#dac523 368px,#cec825 374px,#b2ce31 386px,#7dd45b 406px,#51d478 420px,#42d387 428px,#3bd28e 436px,#22c9b2 460px,#01c1cb 478px,#02bed3 484px,#18b0e7 502px,#288eff 542px,#2c80ff 560px,#3d74ff 580px,#426dff 596px,#4569ff 626px,#4a57ff 672px,#4a4af6 702px)"></i><i style="left:462px;width:3.6px;background:linear-gradient(#fef21f 0px,#ffe624 200px,#ffc435 284px,#ffc033 314px,#f6c02c 358px,#e5c324 366px,#d8c623 372px,#bdcc2c 384px,#a9cf36 392px,#66d46b 418px,#53d476 424px,#40d389 436px,#3fd38b 440px,#22cab2 466px,#09c4c4 478px,#01c0cd 484px,#03bed3 488px,#12b6e1 498px,#1aafe9 506px,#288dff 542px,#2d7fff 560px,#3c74ff 578px,#436dff 596px,#4569ff 626px,#4a56ff 672px,#4a4af6 702px)"></i><i style="left:465px;width:3.6px;background:linear-gradient(#fef21f 0px,#ffe624 198px,#ffc435 282px,#ffc033 314px,#f6c02c 356px,#d9c622 372px,#cdc825 378px,#aece33 392px,#51d478 430px,#42d387 440px,#40d389 448px,#2ecea0 468px,#29cca9 472px,#1dc8b6 478px,#01c1cb 488px,#02bed3 492px,#11b7e0 500px,#18b1e7 506px,#2696f9 532px,#288dff 542px,#2c80ff 558px,#3c74ff 576px,#426dff 592px,#4569ff 626px,#4a56ff 672px,#4a4af6 702px)"></i><i style="left:468px;width:3.6px;background:linear-gradient(#fef21f 0px,#ffe624 198px,#ffc435 282px,#ffc033 314px,#f7c02d 354px,#e7c324 364px,#d9c623 372px,#c1cb2a 384px,#a8cf37 396px,#86d355 412px,#52d477 436px,#46d383 448px,#40d389 468px,#3ad28f 474px,#24cab0 482px,#01c1cb 492px,#03bdd4 496px,#11b7df 502px,#18b0e7 508px,#288eff 540px,#2c80ff 556px,#3d74ff 574px,#436dff 590px,#4569ff 626px,#4a57ff 670px,#4a4af6 702px)"></i><i style="left:471px;width:3.6px;background:linear-gradient(#fef21f 0px,#ffe624 198px,#ffd12d 242px,#ffc435 280px,#ffc033 310px,#f7c02d 352px,#dac523 370px,#ccc925 378px,#b1ce32 392px,#7fd35a 416px,#51d478 438px,#42d387 454px,#3fd38b 466px,#37d193 476px,#26cbae 482px,#01c1cb 492px,#04bdd5 496px,#11b7e0 502px,#19b0e8 508px,#288eff 538px,#2c80ff 554px,#3d74ff 570px,#436cff 584px,#4667ff 618px,#4a56ff 670px,#4a4af6 702px)"></i><i style="left:474px;width:3.6px;background:linear-gradient(#fef21f 0px,#ffe624 196px,#ffc435 276px,#ffc033 304px,#f7c02e 324px,#f7c02d 350px,#e5c324 362px,#d7c623 370px,#cdc825 376px,#adce34 392px,#7dd45b 414px,#51d478 432px,#3ad290 448px,#38d292 456px,#2ecfa0 466px,#27cbac 472px,#20c9b4 476px,#03c2ca 486px,#01c0ce 488px,#01bfd2 490px,#11b7e0 498px,#19b0e8 504px,#288eff 534px,#2c80ff 548px,#3d74ff 562px,#4667ff 584px,#4a56ff 668px,#4a4af6 702px)"></i><i style="left:477px;width:3.6px;background:linear-gradient(#fef21f 0px,#ffe624 196px,#ffc435 272px,#ffc033 298px,#f4c12b 312px,#f0c128 324px,#f4c12b 346px,#d8c623 366px,#cbc926 374px,#a9cf36 392px,#7dd45b 412px,#50d479 430px,#36d194 448px,#34d097 454px,#26cbad 466px,#20c9b4 470px,#02c2ca 482px,#01c0ce 484px,#01bfd1 486px,#10b8df 494px,#19afe8 502px,#288eff 532px,#2d80ff 546px,#4070ff 564px,#4666ff 582px,#4a57ff 666px,#4a4af6 702px)"></i><i style="left:480px;width:3.6px;background:linear-gradient(#fef21f 0px,#ffe624 196px,#ffc832 256px,#ffc335 270px,#ffc034 292px,#fbc030 298px,#efc127 306px,#e4c324 316px,#e3c424 326px,#ebc226 336px,#eac226 342px,#e0c423 354px,#cec825 368px,#aacf36 390px,#80d359 412px,#51d478 434px,#39d290 456px,#20c9b4 472px,#01c1cb 484px,#01bed2 488px,#10b7df 496px,#19afe8 504px,#288dff 536px,#2c80ff 550px,#3c74ff 564px,#4569ff 584px,#4762ff 628px,#4a57ff 668px,#4a4af6 702px)"></i><i style="left:483px;width:3.6px;background:linear-gradient(#fef21f 0px,#ffe624 196px,#ffc634 258px,#ffc036 280px,#ffc033 288px,#f8c02e 296px,#e5c324 304px,#d8c623 312px,#d3c724 354px,#cbc926 364px,#b1ce31 382px,#7ed35a 414px,#53d476 438px,#40d38a 458px,#1fc9b5 476px,#07c3c5 484px,#01c0cd 488px,#03bdd4 492px,#0fb8de 498px,#19b0e8 506px,#288eff 538px,#2c80ff 554px,#3c74ff 570px,#436cff 586px,#4568ff 626px,#4a56ff 672px,#4a4af6 702px)"></i><i style="left:486px;width:3.6px;background:linear-gradient(#fef21f 0px,#ffe624 196px,#ffc435 262px,#fec033 284px,#f7c02d 294px,#e8c325 300px,#d6c723 306px,#c8c927 316px,#bdcc2c 334px,#c1cb2a 362px,#b0ce32 378px,#64d46d 430px,#53d476 440px,#3ed38b 464px,#33d098 468px,#25cbae 476px,#08c3c5 486px,#01c0ce 490px,#01bfd1 492px,#11b7df 500px,#1aaee9 508px,#288dff 540px,#2d80ff 556px,#3977ff 568px,#436dff 590px,#4569ff 626px,#4a57ff 672px,#4a4af6 702px)"></i><i style="left:489px;width:3.6px;background:linear-gradient(#fef21f 0px,#ffe624 196px,#ffc435 260px,#fec032 282px,#f4c12b 294px,#dac623 302px,#cdc825 306px,#c7ca27 310px,#adce34 334px,#a7cf38 350px,#b3cd31 366px,#aacf35 376px,#88d353 402px,#53d476 440px,#40d389 468px,#32d09a 472px,#2acda7 476px,#21c9b3 480px,#01c1cb 490px,#02bed3 494px,#0fb8de 500px,#19afe9 508px,#288dff 540px,#2c80ff 556px,#3878ff 568px,#436dff 592px,#4569ff 628px,#4a56ff 674px,#4a4af6 702px)"></i><i style="left:492px;width:3.6px;background:linear-gradient(#fef21f 0px,#ffe624 196px,#ffc435 258px,#fec032 280px,#f5c12c 292px,#ecc226 296px,#dcc523 300px,#cdc825 304px,#c5ca28 308px,#a8cf37 330px,#97d147 344px,#92d24b 354px,#a3d03c 366px,#a3d03d 374px,#80d359 402px,#53d476 438px,#40d389 468px,#33d098 472px,#28cbab 478px,#1dc8b6 482px,#08c3c5 488px,#01c0ce 492px,#02bed3 494px,#0fb8de 500px,#19afe9 508px,#288fff 538px,#2d80ff 556px,#3779ff 566px,#426dff 592px,#4569ff 628px,#4a56ff 676px,#4a4af6 702px)"></i><i style="left:495px;width:3.6px;background:linear-gradient(#fef21f 0px,#ffe624 196px,#ffc435 256px,#fec032 280px,#f1c129 292px,#d9c622 300px,#cbc926 304px,#c2ca29 308px,#aacf36 324px,#81d359 352px,#7fd35a 358px,#93d24b 370px,#94d249 376px,#53d476 434px,#40d389 470px,#31d09a 474px,#29cca9 478px,#1fc9b5 482px,#07c3c5 488px,#01c0cf 492px,#14b5e2 502px,#1aaee9 508px,#288dff 538px,#2c80ff 554px,#3878ff 566px,#426dff 590px,#4764ff 648px,#4a56ff 680px,#4a4af6 702px)"></i><i style="left:498px;width:3.6px;background:linear-gradient(#fef21f 0px,#ffe624 196px,#ffc534 252px,#ffc033 276px,#f7c02d 286px,#e3c424 294px,#d5c723 300px,#c3ca29 306px,#aacf35 320px,#8ad352 338px,#6bd468 356px,#6cd467 364px,#81d358 374px,#83d357 378px,#53d476 426px,#40d389 470px,#30d09c 474px,#28ccab 478px,#1bc8b8 482px,#0ac4c3 486px,#01c0cd 490px,#01bed2 492px,#10b8de 498px,#1aaee9 506px,#288eff 534px,#2c81ff 550px,#3878ff 562px,#436dff 588px,#4667ff 658px,#4a56ff 682px,#4a4af6 702px)"></i><i style="left:501px;width:3.6px;background:linear-gradient(#fef21f 0px,#ffe624 198px,#ffc634 250px,#ffc036 268px,#fec032 276px,#f4c12b 286px,#e1c423 292px,#cdc825 298px,#aacf36 316px,#82d358 336px,#51d478 358px,#4cd47d 364px,#4fd47a 368px,#53d476 370px,#68d46a 376px,#6ad468 380px,#53d476 410px,#40d389 464px,#3cd28d 468px,#26cbad 476px,#08c4c5 484px,#02c2ca 486px,#01c0cf 488px,#15b4e3 498px,#19afe8 502px,#288fff 530px,#2c80ff 546px,#3877ff 558px,#436dff 582px,#4667ff 658px,#4a56ff 682px,#4a4af6 702px)"></i><i style="left:504px;width:3.6px;background:linear-gradient(#fef21f 0px,#ffe624 198px,#ffc634 250px,#ffc033 274px,#f6c02d 284px,#dbc523 292px,#c6ca28 298px,#afce33 310px,#81d359 332px,#50d479 350px,#37d192 364px,#35d195 372px,#48d382 380px,#4bd47f 388px,#40d389 462px,#33d099 466px,#25cbae 472px,#08c3c5 480px,#02c2ca 482px,#01c0cf 484px,#15b4e3 494px,#19afe9 498px,#288eff 526px,#2c81ff 540px,#3877ff 552px,#436dff 574px,#4764ff 648px,#4a57ff 678px,#4a4af6 702px)"></i><i style="left:507px;width:3.6px;background:linear-gradient(#fef21f 0px,#ffe624 200px,#ffc733 248px,#ffc036 266px,#fec033 274px,#f5c02c 284px,#d9c623 292px,#c4ca29 298px,#b0ce32 308px,#7fd35a 330px,#51d478 346px,#35d195 362px,#31d09b 366px,#31d09b 370px,#3fd38a 380px,#41d388 388px,#40d389 454px,#3cd28d 458px,#27cbab 466px,#05c3c8 476px,#01c1cd 478px,#01bfd1 480px,#13b5e2 488px,#1aaee9 494px,#288eff 520px,#2c81ff 534px,#3778ff 544px,#436dff 566px,#4762ff 634px,#4a57ff 672px,#4a4af6 702px)"></i><i style="left:510px;width:3.6px;background:linear-gradient(#fef21f 0px,#ffe624 200px,#ffc733 248px,#ffc033 272px,#f4c12b 284px,#d7c623 292px,#c8c927 296px,#b2cd31 306px,#aacf36 310px,#81d358 328px,#50d479 346px,#38d292 360px,#31d09b 368px,#3fd38a 382px,#40d389 452px,#32d09a 456px,#29cca9 460px,#01c1cb 472px,#04bdd5 476px,#18b1e7 486px,#288eff 514px,#2c80ff 528px,#3877ff 538px,#436dff 558px,#4763ff 620px,#4a56ff 668px,#4a4af6 702px)"></i><i style="left:513px;width:3.6px;background:linear-gradient(#fef21f 0px,#ffe624 202px,#ffc733 246px,#ffc036 264px,#fec033 272px,#f4c12b 282px,#dbc523 290px,#c6ca28 296px,#b1ce31 306px,#81d359 328px,#51d479 346px,#37d193 362px,#33d098 368px,#3cd28d 376px,#3fd38a 382px,#35d196 420px,#34d197 432px,#37d192 440px,#35d195 448px,#27cbad 454px,#0ac4c3 462px,#01c0cd 466px,#01bfd2 468px,#13b6e1 476px,#1aaee9 482px,#288eff 508px,#2d7fff 522px,#3c75ff 534px,#416fff 544px,#4a57ff 662px,#4a4af6 702px)"></i><i style="left:516px;width:3.6px;background:linear-gradient(#fef21f 0px,#ffe624 202px,#ffc733 246px,#ffc033 268px,#f0c128 280px,#dbc523 288px,#c7ca27 294px,#b0ce32 306px,#82d358 328px,#53d476 346px,#3ad290 362px,#35d195 368px,#40d389 376px,#41d388 380px,#27cbad 428px,#1bc8b8 440px,#01c1cc 454px,#02bed2 458px,#14b5e2 468px,#1aafe9 474px,#288ffe 500px,#2c80ff 514px,#3d74ff 526px,#446aff 540px,#4a57ff 656px,#4a4af6 702px)"></i><i style="left:519px;width:3.6px;background:linear-gradient(#fef21f 0px,#ffe624 204px,#ffc832 242px,#ffc335 250px,#ffc033 264px,#f3c12a 274px,#dcc523 284px,#c7ca27 292px,#afce32 306px,#82d358 330px,#50d479 350px,#40d389 360px,#38d292 368px,#43d386 376px,#44d385 380px,#37d193 392px,#20c9b4 420px,#01c1cc 440px,#01bfd2 444px,#18b1e7 462px,#288ffe 492px,#2d7fff 506px,#3b75ff 514px,#426eff 522px,#4763ff 538px,#4a56ff 640px,#4a4af6 702px)"></i><i style="left:522px;width:3.6px;background:linear-gradient(#fef21f 0px,#ffe624 206px,#ffca31 238px,#ffc335 248px,#ffc034 260px,#f5c12b 268px,#dac623 280px,#c6ca28 290px,#aacf36 312px,#8ed24e 328px,#65d46c 346px,#53d476 352px,#42d387 362px,#3cd28d 368px,#47d382 376px,#47d382 380px,#37d193 392px,#20c9b4 416px,#01c1cc 434px,#03bed4 440px,#19b0e8 458px,#288dff 490px,#2d7fff 502px,#3c74ff 512px,#426eff 518px,#4762ff 536px,#4a55fe 638px,#4a4af6 702px)"></i><i style="left:525px;width:3.6px;background:linear-gradient(#fef21f 0px,#ffe624 204px,#ffc833 238px,#ffc136 252px,#fec033 258px,#f5c12b 264px,#e6c324 270px,#cec825 282px,#afce33 320px,#7dd45b 342px,#50d479 358px,#46d383 364px,#43d386 368px,#4ed47b 376px,#4dd47c 380px,#38d292 394px,#20c9b4 420px,#01c1cc 438px,#03bed3 444px,#19b0e8 462px,#288eff 494px,#2c81ff 506px,#3e73ff 520px,#4568ff 536px,#4a57ff 644px,#4a4af6 702px)"></i><i style="left:528px;width:3.6px;background:linear-gradient(#fef21f 0px,#ffe624 200px,#ffc832 234px,#ffc036 250px,#ffc033 254px,#f5c02c 260px,#e5c324 266px,#d6c623 272px,#cdc825 280px,#c8c927 300px,#cac926 308px,#d4c723 320px,#cfc824 322px,#a8cf37 334px,#91d24c 342px,#53d476 362px,#4ed47b 368px,#5ad473 374px,#5bd473 378px,#40d389 390px,#20c9b4 426px,#01c1cb 444px,#02bed3 450px,#19b0e8 468px,#288eff 500px,#2d7fff 514px,#3d74ff 526px,#446aff 544px,#4a57ff 650px,#4a4af6 702px)"></i><i style="left:531px;width:3.6px;background:linear-gradient(#fef21f 0px,#ffe524 194px,#ffc932 228px,#ffc034 248px,#f5c02c 256px,#e6c324 262px,#d3c724 270px,#cdc825 282px,#d0c824 298px,#e4c324 316px,#e5c324 322px,#dcc523 328px,#cdc825 332px,#adce34 340px,#87d354 352px,#68d46a 362px,#64d46d 366px,#6dd466 372px,#6ed466 376px,#65d46c 380px,#4fd47a 386px,#41d388 392px,#23cab0 432px,#02c2ca 452px,#02bed3 458px,#18b1e7 474px,#288eff 504px,#2d7fff 518px,#3a76ff 528px,#436bff 546px,#4a57ff 650px,#4a4af6 702px)"></i><i style="left:534px;width:3.6px;background:linear-gradient(#fef21f 0px,#ffe624 180px,#ffc435 230px,#ffc033 244px,#f4c12b 252px,#e5c324 258px,#d3c724 266px,#cec825 276px,#d2c724 292px,#ecc227 314px,#efc127 322px,#e2c424 330px,#d8c623 334px,#cec825 336px,#a9cf36 346px,#80d359 360px,#7cd45c 364px,#86d355 372px,#81d358 376px,#66d46b 384px,#52d477 388px,#40d389 394px,#3bd28e 422px,#20c9b5 450px,#0ac4c3 460px,#01c1cd 466px,#03bed3 470px,#19afe8 484px,#2890fe 508px,#2d7fff 522px,#3c74ff 534px,#426eff 544px,#4a56ff 652px,#4a4af6 702px)"></i><i style="left:537px;width:3.6px;background:linear-gradient(#fef21f 0px,#ffe524 174px,#ffc335 226px,#ffc033 240px,#f6c02d 246px,#e4c324 254px,#d4c723 262px,#cfc824 270px,#d7c623 288px,#f1c129 310px,#f3c12a 324px,#e7c325 332px,#d3c724 338px,#bbcc2c 344px,#aacf36 350px,#95d249 358px,#91d24c 362px,#9ed041 370px,#9dd142 374px,#6bd468 394px,#54d476 406px,#43d386 424px,#41d388 442px,#34d197 450px,#26cbad 468px,#21c9b3 472px,#07c3c6 478px,#01c1cc 480px,#01bed2 482px,#12b6e1 488px,#19b0e8 492px,#288eff 514px,#2d7fff 526px,#3b75ff 536px,#426eff 546px,#4a56ff 652px,#4a4af6 702px)"></i><i style="left:540px;width:3.6px;background:linear-gradient(#fef21f 0px,#ffe624 160px,#ffc335 222px,#ffc033 236px,#f7c02d 242px,#e8c325 248px,#dbc523 254px,#d2c724 266px,#dac622 280px,#f3c12a 304px,#f5c02c 326px,#eac226 334px,#dec523 338px,#d4c723 340px,#b8cc2e 348px,#a3d03c 358px,#a5d03b 362px,#b2ce31 368px,#b2cd31 372px,#a8cf37 378px,#94d24a 388px,#7dd45c 400px,#53d476 426px,#47d382 444px,#40d389 472px,#39d291 476px,#27cbab 480px,#05c3c7 486px,#01c0cf 488px,#13b6e1 494px,#1aaee9 498px,#288eff 518px,#2c80ff 528px,#3d74ff 540px,#436dff 550px,#4a57ff 652px,#4a4af6 702px)"></i><i style="left:543px;width:3.6px;background:linear-gradient(#fef21f 0px,#ffe624 156px,#ffc335 220px,#ffc034 232px,#f7c02d 240px,#e7c325 246px,#dec523 250px,#d9c622 256px,#dcc523 270px,#f5c12b 300px,#f5c02c 330px,#ecc226 336px,#d5c723 342px,#bfcb2b 348px,#b3cd31 354px,#b0ce32 358px,#c2cb2a 368px,#c0cb2a 372px,#a8cf37 386px,#96d148 396px,#7bd45d 412px,#52d477 440px,#40d389 474px,#3dd28c 476px,#32d09a 478px,#24caaf 482px,#04c2c8 488px,#01c0cf 490px,#12b6e1 496px,#19afe9 500px,#288eff 520px,#2c81ff 530px,#3c74ff 542px,#436dff 552px,#4a56ff 654px,#4a4af6 702px)"></i><i style="left:546px;width:3.6px;background:linear-gradient(#fef21f 0px,#ffe624 152px,#ffc435 220px,#ffc034 234px,#f9c02e 240px,#e5c324 248px,#e1c423 254px,#f6c02d 294px,#f5c02c 332px,#f1c129 336px,#dec523 342px,#c6ca28 348px,#bdcc2c 352px,#bbcc2d 358px,#ccc925 366px,#ccc925 370px,#a9cf36 392px,#84d356 414px,#52d477 446px,#40d389 470px,#24cab0 480px,#01c1cb 488px,#01bfd1 490px,#12b6e1 496px,#19b0e8 500px,#288eff 522px,#2d7fff 534px,#3b75ff 544px,#416eff 554px,#4a57ff 654px,#4a4af6 702px)"></i><i style="left:549px;width:3.6px;background:linear-gradient(#fef21f 0px,#ffe624 152px,#ffc035 240px,#f3c12a 254px,#fac02f 290px,#f6c02c 334px,#ecc226 340px,#dec523 344px,#cdc825 348px,#c4ca29 352px,#c4ca29 356px,#d4c723 364px,#d5c723 368px,#cbc926 376px,#aacf36 396px,#86d355 416px,#52d477 444px,#3dd28d 468px,#21c9b3 478px,#07c3c6 484px,#01bfd1 488px,#18b1e7 498px,#288eff 522px,#2d7fff 534px,#3d74ff 546px,#426dff 556px,#4a56ff 654px,#4a4af6 702px)"></i><i style="left:552px;width:3.6px;background:linear-gradient(#fef21f 0px,#ffe624 158px,#ffc136 248px,#ffc033 282px,#f6c02c 336px,#edc227 342px,#d9c622 348px,#cfc824 352px,#d0c824 356px,#dcc523 362px,#dcc523 368px,#cbc925 380px,#aece33 396px,#81d358 418px,#51d478 440px,#36d194 466px,#24cab0 474px,#04c2c8 482px,#01c0ce 484px,#02bed3 486px,#12b6e1 492px,#19b0e8 496px,#2890fe 518px,#2c81ff 530px,#3c74ff 542px,#446aff 556px,#4764ff 574px,#4a56ff 650px,#4a4af6 702px)"></i><i style="left:555px;width:3.6px;background:linear-gradient(#fef21f 0px,#ffe624 164px,#ffc435 256px,#ffc033 302px,#f8c02e 336px,#f2c12a 342px,#ddc523 352px,#dec523 356px,#e6c324 362px,#e3c424 368px,#ccc925 384px,#b1ce32 398px,#80d359 420px,#51d478 440px,#36d194 466px,#21c9b3 474px,#01c1cb 482px,#01bfd0 484px,#14b5e3 492px,#1aafe9 496px,#288ffe 518px,#2c81ff 530px,#3c74ff 542px,#446aff 556px,#4764ff 574px,#4762ff 598px,#4a56ff 650px,#4a4af6 702px)"></i><i style="left:558px;width:3.6px;background:linear-gradient(#fef21f 0px,#ffe624 180px,#ffc435 276px,#ffc033 312px,#f9c02f 336px,#ebc226 352px,#f1c129 360px,#f0c128 364px,#e4c324 376px,#d8c623 384px,#ccc925 390px,#acce34 404px,#82d358 422px,#51d478 444px,#3dd28d 466px,#25caaf 474px,#04c2c9 482px,#01c0ce 484px,#19b0e8 496px,#288ffe 520px,#2d7fff 534px,#3c75ff 546px,#426eff 556px,#4a56ff 656px,#4a4af6 702px)"></i><i style="left:561px;width:3.6px;background:linear-gradient(#fef21f 0px,#ffe624 190px,#ffc335 288px,#ffc033 322px,#f3c12a 354px,#f7c02d 376px,#f5c02c 378px,#eac226 382px,#d9c622 388px,#bfcb2b 398px,#a9cf36 406px,#8ad352 418px,#54d476 438px,#49d480 446px,#40d389 466px,#35d195 468px,#23cab1 474px,#07c3c5 480px,#01c1cb 482px,#01bfd1 484px,#15b4e3 492px,#1aaee9 496px,#288eff 520px,#2d7fff 534px,#3976ff 544px,#4070ff 554px,#446aff 572px,#4a57ff 656px,#4a4af6 702px)"></i><i style="left:564px;width:3.6px;background:linear-gradient(#fef21f 0px,#ffe524 214px,#ffc435 296px,#ffc033 328px,#f7c02d 354px,#f7c02d 372px,#f1c129 376px,#dac623 386px,#cac926 392px,#afce33 402px,#68d46a 426px,#52d477 432px,#42d387 440px,#38d291 448px,#28ccaa 466px,#1dc8b7 470px,#05c3c8 476px,#01c1cd 478px,#01bed2 480px,#10b7df 486px,#19afe8 492px,#288eff 518px,#2d7fff 532px,#3878ff 540px,#436cff 560px,#4a57ff 656px,#4a4af6 702px)"></i><i style="left:567px;width:3.6px;background:linear-gradient(#fef21f 0px,#ffe624 232px,#ffd32c 264px,#ffc435 302px,#ffc033 332px,#f6c02c 368px,#dac623 382px,#ccc925 388px,#b1ce32 398px,#81d359 414px,#4fd47a 428px,#32d09a 444px,#22cab2 456px,#01c1cc 470px,#03bdd4 474px,#13b5e2 482px,#1aaee9 488px,#288cff 516px,#2c80ff 528px,#3b75ff 540px,#446bff 558px,#4a56ff 656px,#4a4af6 702px)"></i><i style="left:570px;width:3.6px;background:linear-gradient(#fef21f 0px,#ffe624 236px,#ffc435 306px,#ffc033 334px,#f7c02d 366px,#e6c324 374px,#d8c623 380px,#c9c927 386px,#adce34 396px,#7cd45c 412px,#51d478 424px,#37d193 436px,#22c9b2 450px,#07c3c5 460px,#01c1cd 464px,#03bed4 468px,#12b6e0 476px,#19b0e8 482px,#288eff 512px,#2d7fff 526px,#3c74ff 538px,#446aff 556px,#4a56ff 656px,#4a4af6 702px)"></i><i style="left:573px;width:3.6px;background:linear-gradient(#fef21f 0px,#ffe624 244px,#ffd22d 278px,#ffc435 310px,#ffc033 334px,#f6c02c 364px,#dac623 376px,#cac926 382px,#adce34 392px,#50d479 420px,#3dd28c 430px,#20c9b4 446px,#09c4c4 454px,#01c1cc 458px,#02bed3 462px,#18b1e7 476px,#2890fe 506px,#2c81ff 520px,#3d74ff 534px,#446bff 548px,#4a56ff 654px,#4a4af6 702px)"></i><i style="left:576px;width:3.6px;background:linear-gradient(#fef21f 0px,#ffe624 246px,#ffc335 312px,#ffc033 334px,#f7c02d 360px,#e6c324 368px,#d7c623 374px,#b3cd31 386px,#82d358 400px,#52d478 412px,#39d290 424px,#37d193 428px,#25caae 438px,#09c4c4 448px,#01c1cc 452px,#02bed3 456px,#11b7df 464px,#19afe8 472px,#288eff 502px,#2d7fff 516px,#3d73ff 528px,#4666ff 548px,#4a56ff 648px,#4a4af6 702px)"></i><i style="left:579px;width:3.6px;background:linear-gradient(#fef21f 0px,#ffe624 252px,#ffc435 312px,#ffc033 334px,#f6c02c 358px,#d9c622 370px,#b4cd30 382px,#a6cf39 386px,#7fd35a 396px,#50d479 406px,#45d384 410px,#39d290 416px,#36d194 422px,#25caaf 434px,#07c3c6 446px,#01c1cd 450px,#02bed3 454px,#10b7df 462px,#19b0e8 470px,#288fff 502px,#2c80ff 516px,#3d73ff 530px,#4666ff 550px,#4a56ff 652px,#4a4af6 702px)"></i><i style="left:582px;width:3.6px;background:linear-gradient(#fef21f 0px,#ffe624 254px,#ffc435 314px,#ffc033 332px,#f7c02d 354px,#e6c324 362px,#d6c623 368px,#b2ce31 380px,#86d355 392px,#4fd47a 404px,#3ed38b 410px,#23cab1 434px,#09c4c4 446px,#01c1cd 452px,#02bed3 456px,#11b7e0 466px,#19b0e8 474px,#288dff 510px,#2c80ff 524px,#3b75ff 538px,#4469ff 560px,#4a57ff 660px,#4a4af6 702px)"></i><i style="left:585px;width:3.6px;background:linear-gradient(#fef21f 0px,#ffe624 260px,#ffc335 316px,#ffc033 332px,#f7c02d 350px,#dbc523 364px,#ccc925 370px,#b3cd30 378px,#a6cf39 382px,#80d359 392px,#52d477 402px,#40d389 408px,#21c9b3 436px,#09c4c4 448px,#01c1cd 454px,#01bed2 458px,#10b8df 468px,#19afe8 478px,#288fff 514px,#2d80ff 532px,#3c74ff 548px,#436dff 564px,#4667ff 608px,#4a57ff 664px,#4a4af6 702px)"></i><i style="left:588px;width:3.6px;background:linear-gradient(#fef21f 0px,#ffe624 262px,#ffc435 316px,#ffc033 334px,#f6c02c 352px,#e6c324 360px,#d7c623 366px,#b4cd30 378px,#a7cf38 382px,#80d359 392px,#52d478 402px,#40d389 408px,#31d09b 420px,#20c9b4 438px,#01c1cb 456px,#02bed3 462px,#10b7df 472px,#19b0e8 482px,#288dff 520px,#2c81ff 536px,#3d74ff 556px,#426dff 572px,#4568ff 614px,#4a57ff 666px,#4a4af6 702px)"></i><i style="left:591px;width:3.6px;background:linear-gradient(#fef21f 0px,#ffe624 264px,#ffc435 318px,#ffc033 336px,#f7c02d 352px,#f0c128 358px,#dac623 368px,#bdcc2c 378px,#a7cf38 384px,#7ed35a 394px,#4ed47b 404px,#42d388 408px,#31d09b 422px,#20c9b4 442px,#01c1cc 462px,#02bed3 468px,#19afe8 488px,#288eff 524px,#2c80ff 542px,#3c74ff 560px,#426dff 578px,#4569ff 624px,#4a57ff 668px,#4a4af6 702px)"></i><i style="left:594px;width:3.6px;background:linear-gradient(#fef21f 0px,#ffe624 266px,#ffc335 322px,#ffc033 340px,#f3c12a 366px,#d5c723 376px,#afce33 386px,#81d359 396px,#56d475 404px,#40d389 410px,#31d09b 426px,#20c9b4 452px,#01c1cb 472px,#02bed3 478px,#18b1e7 494px,#288dff 530px,#2c80ff 546px,#3878ff 558px,#436dff 584px,#4569ff 624px,#4a57ff 668px,#4a4af6 702px)"></i><i style="left:597px;width:3.6px;background:linear-gradient(#fef21f 0px,#ffe624 270px,#ffc335 326px,#ffc033 344px,#f7c02d 372px,#ecc226 376px,#dcc523 380px,#cac926 384px,#b7cd2f 388px,#adce34 390px,#82d358 398px,#50d479 406px,#40d389 410px,#30cf9c 438px,#27cbac 472px,#20c9b4 476px,#0ac4c3 482px,#01c1cd 486px,#01bfd1 488px,#11b7e0 496px,#19b0e8 502px,#2697f8 524px,#288dff 534px,#2d80ff 550px,#3877ff 562px,#436dff 586px,#4568ff 624px,#4a57ff 668px,#4a4af6 702px)"></i><i style="left:600px;width:3.6px;background:linear-gradient(#fef21f 0px,#ffe624 272px,#ffc435 328px,#ffc034 348px,#f7c02d 376px,#e7c325 380px,#d6c623 384px,#afce32 392px,#83d357 400px,#4fd47a 408px,#40d389 412px,#37d192 450px,#40d389 474px,#30cf9d 478px,#26cbad 482px,#01c1cc 492px,#01bfd1 494px,#18b1e7 506px,#288eff 536px,#2c80ff 552px,#3778ff 562px,#436dff 586px,#4568ff 620px,#4a57ff 668px,#4a4af6 702px)"></i><i style="left:603px;width:3.6px;background:linear-gradient(#fef21f 0px,#ffe624 276px,#ffc435 330px,#ffc033 352px,#f7c02d 374px,#d9c622 384px,#bbcc2d 392px,#aacf35 396px,#86d355 404px,#50d479 414px,#48d481 416px,#40d389 476px,#32d09a 480px,#23cab1 486px,#09c4c4 492px,#01c0cf 496px,#15b4e4 506px,#1aafe9 510px,#288dff 538px,#2c81ff 552px,#3d73ff 570px,#436dff 584px,#4568ff 614px,#4a56ff 668px,#4a4af6 702px)"></i><i style="left:606px;width:3.6px;background:linear-gradient(#fef21f 0px,#ffe624 276px,#ffc435 332px,#ffc033 352px,#f7c02d 374px,#e3c424 382px,#cdc825 390px,#a8cf37 402px,#8ad351 412px,#6ad469 426px,#52d477 440px,#47d382 458px,#40d389 478px,#2fcf9e 482px,#25cbae 486px,#05c3c7 494px,#01c1cd 496px,#01bfd2 498px,#10b7df 504px,#19b0e8 510px,#288eff 538px,#2c81ff 552px,#3d73ff 570px,#436dff 584px,#4568ff 610px,#4a57ff 666px,#4a4af6 702px)"></i><i style="left:609px;width:3.6px;background:linear-gradient(#fef21f 0px,#ffe624 280px,#ffc435 334px,#ffc034 352px,#f6c02c 374px,#e1c423 384px,#cac926 394px,#a8cf37 408px,#88d353 422px,#52d478 450px,#3dd28c 474px,#1ec8b6 486px,#01c1cb 494px,#03bdd4 498px,#12b6e0 504px,#19afe9 510px,#288eff 538px,#2c80ff 552px,#3c74ff 568px,#436dff 582px,#4a56ff 666px,#4a4af6 702px)"></i><i style="left:612px;width:3.6px;background:linear-gradient(#fef21f 0px,#ffe624 280px,#ffc435 334px,#ffc034 352px,#f7c02d 372px,#e6c324 382px,#d7c623 390px,#acce34 410px,#85d355 428px,#51d478 452px,#40d389 468px,#30cf9c 474px,#21c9b3 482px,#01c1cc 492px,#03bdd4 496px,#11b7df 502px,#19b0e8 508px,#288dff 538px,#2c80ff 552px,#3d74ff 568px,#436dff 582px,#4a57ff 664px,#4a4af6 702px)"></i><i style="left:615px;width:3.6px;background:linear-gradient(#fef21f 0px,#ffe624 284px,#ffc335 336px,#ffc033 354px,#f7c02d 372px,#e7c324 382px,#d9c623 390px,#c9c926 398px,#a8cf37 414px,#8ed24e 426px,#52d478 452px,#3fd38b 466px,#33d098 470px,#20c9b4 480px,#0bc4c3 486px,#01c1cc 490px,#03bdd4 494px,#10b7df 500px,#18b0e7 506px,#288eff 536px,#2c80ff 550px,#3778ff 560px,#436dff 582px,#4568ff 608px,#4a56ff 664px,#4a4af6 702px)"></i><i style="left:618px;width:3.6px;background:linear-gradient(#fef21f 0px,#ffe624 284px,#ffc435 336px,#ffc034 352px,#f7c02d 372px,#e7c325 382px,#d9c622 390px,#cac926 398px,#aacf35 414px,#68d46a 444px,#52d477 452px,#40d389 464px,#34d197 468px,#29cca9 474px,#21c9b3 478px,#02c2ca 488px,#01c0cf 490px,#1aafe9 506px,#288eff 534px,#2c81ff 548px,#3778ff 558px,#436dff 580px,#4569ff 608px,#4a56ff 664px,#4a4af6 702px)"></i><i style="left:621px;width:3.6px;background:linear-gradient(#fef31f 0px,#ffe624 288px,#ffc435 336px,#ffc034 352px,#f7c02d 370px,#d9c622 390px,#cbc926 398px,#abcf35 414px,#7cd45c 436px,#52d477 452px,#40d389 464px,#34d097 468px,#29ccaa 474px,#20c9b4 478px,#0bc4c3 484px,#01c1cc 488px,#03bdd4 492px,#11b7e0 498px,#19b0e8 504px,#288eff 532px,#2c81ff 546px,#3d74ff 562px,#436dff 576px,#4568ff 606px,#4a57ff 662px,#4a4af6 702px)"></i><i style="left:624px;width:3.6px;background:linear-gradient(#fef31f 0px,#ffe624 288px,#ffc435 336px,#ffc033 352px,#f7c02d 370px,#e5c324 382px,#d8c623 390px,#cac926 398px,#abcf35 414px,#7bd45d 436px,#52d477 452px,#3dd28c 466px,#29cca9 474px,#20c9b4 478px,#09c4c4 484px,#01c0cd 488px,#01bfd2 490px,#13b6e1 498px,#1aaee9 504px,#288eff 530px,#2d7fff 544px,#3a76ff 554px,#436cff 572px,#4568ff 602px,#4a56ff 662px,#4a4af6 702px)"></i><i style="left:627px;width:3.6px;background:linear-gradient(#fef41e 0px,#ffe624 290px,#ffc435 336px,#ffc033 352px,#f6c02c 370px,#dac623 388px,#cbc926 396px,#aacf36 412px,#7cd45c 432px,#52d477 448px,#38d291 466px,#22cab1 476px,#0cc5c2 482px,#01c1cc 486px,#01bfd1 488px,#18b0e7 500px,#2890fe 524px,#2b81ff 536px,#3e73ff 550px,#446aff 562px,#4765ff 576px,#4a56ff 658px,#4a4af6 702px)"></i><i style="left:630px;width:3.6px;background:linear-gradient(#fef71d 0px,#ffe624 292px,#ffc435 334px,#ffc033 350px,#f7c02d 368px,#e5c324 380px,#d7c623 388px,#ccc925 394px,#a9cf36 410px,#7ed35b 428px,#52d477 444px,#40d389 456px,#33d098 468px,#20c9b4 476px,#02c2ca 484px,#01bfcf 486px,#18b0e7 498px,#288eff 522px,#2e7eff 534px,#3c75ff 542px,#416fff 548px,#4765ff 562px,#4a56ff 652px,#4a4af6 702px)"></i><i style="left:633px;width:3.6px;background:linear-gradient(#fef31f 0px,#fef71d 2px,#ffe624 294px,#ffc335 334px,#ffc033 348px,#f6c02c 366px,#dac622 386px,#ccc925 394px,#a8cf36 412px,#7cd45c 432px,#53d476 448px,#37d192 468px,#26cbad 476px,#08c4c5 484px,#02c2ca 486px,#01c0cf 488px,#18b0e7 500px,#288eff 524px,#2c81ff 534px,#3d73ff 546px,#4568ff 560px,#4a57ff 656px,#4a4af6 702px)"></i><i style="left:636px;width:3.6px;background:linear-gradient(#fef31f 0px,#fef71d 2px,#ffe624 294px,#ffc733 328px,#ffc034 344px,#f4c12b 364px,#d8c623 386px,#ccc925 394px,#adce34 412px,#7ed35b 436px,#54d476 454px,#3ed38b 470px,#30cf9c 474px,#28ccaa 478px,#1cc8b7 482px,#05c3c8 488px,#01c0cd 490px,#01bed2 492px,#10b7df 498px,#19afe9 504px,#288eff 528px,#2c81ff 538px,#3c74ff 550px,#436bff 562px,#4a56ff 662px,#4a4af6 702px)"></i><i style="left:639px;width:3.6px;background:linear-gradient(#fef31f 0px,#fef71d 2px,#ffe624 296px,#ffc435 330px,#fec033 342px,#f6c02c 358px,#d9c622 384px,#ccc925 394px,#accf35 414px,#7ed35a 438px,#51d478 458px,#40d389 470px,#27cbac 480px,#09c4c4 488px,#01c0ce 492px,#02bed3 494px,#11b7e0 500px,#1aafe9 506px,#288eff 530px,#2d7fff 542px,#3b75ff 552px,#426eff 562px,#4a56ff 664px,#4a4af6 702px)"></i><i style="left:642px;width:3.6px;background:linear-gradient(#fef41e 0px,#fef71d 4px,#ffe624 298px,#ffc633 326px,#ffc033 338px,#f7c02d 346px,#efc128 362px,#d9c622 384px,#cdc825 394px,#aece33 414px,#81d358 438px,#53d476 458px,#40d389 472px,#32d09a 476px,#29cca8 480px,#1fc9b5 484px,#01c1cb 492px,#03bdd4 496px,#18b1e7 506px,#288eff 532px,#2c80ff 544px,#3a76ff 554px,#446bff 572px,#4765ff 620px,#4a56ff 666px,#4a4af6 702px)"></i><i style="left:645px;width:3.6px;background:linear-gradient(#fef41e 0px,#fef71d 4px,#ffe624 300px,#ffc435 330px,#fec033 340px,#edc227 366px,#dac623 386px,#cac926 398px,#aece33 416px,#81d359 440px,#52d477 460px,#41d388 472px,#34d197 476px,#23cab1 484px,#01c1cc 494px,#04bdd5 498px,#18b1e7 508px,#2696f8 528px,#288dff 536px,#2c80ff 548px,#3977ff 558px,#436cff 576px,#4569ff 620px,#4a56ff 668px,#4a4af6 702px)"></i><i style="left:648px;width:3.6px;background:linear-gradient(#fef41e 0px,#fef71d 6px,#ffe624 300px,#ffc435 332px,#ffc034 342px,#f7c02e 352px,#f5c02c 362px,#eac226 376px,#d8c623 392px,#cac926 402px,#a9cf36 422px,#81d359 442px,#51d478 462px,#40d389 474px,#33d098 478px,#27cbac 484px,#01c1cc 496px,#01bfd1 498px,#12b6e1 506px,#1aafe9 512px,#288eff 538px,#2c80ff 552px,#3878ff 562px,#426dff 582px,#4569ff 624px,#4a57ff 668px,#4a4af6 702px)"></i><i style="left:651px;width:3.6px;background:linear-gradient(#fef41e 0px,#fef71d 8px,#ffe624 302px,#ffc335 338px,#ffc033 350px,#f8c02e 362px,#f7c02d 374px,#e6c324 388px,#d8c623 398px,#ccc925 406px,#abcf35 424px,#82d358 444px,#50d479 464px,#40d389 476px,#32d099 480px,#2acda7 484px,#21c9b3 488px,#0bc4c2 494px,#01c1cc 498px,#04bdd5 502px,#12b6e0 508px,#19afe8 514px,#288dff 542px,#2c80ff 556px,#3878ff 566px,#436dff 588px,#4569ff 622px,#4a57ff 668px,#4a4af6 702px)"></i><i style="left:654px;width:3.6px;background:linear-gradient(#fef41e 0px,#fef71d 10px,#ffe624 302px,#ffc435 342px,#ffc033 358px,#f6c02c 380px,#d9c623 404px,#cbc926 412px,#abcf35 428px,#7ed35b 448px,#54d476 464px,#40d389 476px,#34d196 480px,#21c9b3 490px,#01c1cb 500px,#03bdd4 504px,#11b7df 510px,#19b0e8 516px,#288eff 544px,#2c81ff 558px,#3778ff 568px,#436dff 590px,#4568ff 620px,#4a57ff 668px,#4a4af6 702px)"></i><i style="left:657px;width:3.6px;background:linear-gradient(#fef41e 0px,#fef71d 10px,#ffe624 304px,#ffc435 348px,#ffc033 364px,#f7c02d 380px,#f6c02d 392px,#edc227 400px,#d8c623 410px,#cbc925 416px,#abcf35 430px,#89d352 444px,#50d479 466px,#41d388 476px,#33d099 484px,#24caaf 492px,#09c4c4 500px,#01c0ce 504px,#02bed2 506px,#10b7df 512px,#19b0e8 518px,#288dff 546px,#2c81ff 558px,#3d74ff 574px,#436dff 588px,#4568ff 616px,#4a56ff 668px,#4a4af6 702px)"></i><i style="left:660px;width:3.6px;background:linear-gradient(#fef41e 0px,#fef71d 10px,#ffe624 306px,#ffc435 352px,#ffc033 370px,#f4c12b 400px,#e6c324 406px,#d6c623 412px,#acce34 428px,#87d354 442px,#52d477 462px,#3cd28d 478px,#33d099 492px,#20c9b4 498px,#04c2c8 504px,#01c0ce 506px,#19b0e8 518px,#2697f8 536px,#288dff 544px,#2c80ff 556px,#3c74ff 568px,#4568ff 588px,#4a57ff 666px,#4a4af6 702px)"></i><i style="left:663px;width:3.6px;background:linear-gradient(#fef51e 0px,#fef71d 12px,#ffe624 308px,#ffd22c 332px,#ffc435 354px,#ffc033 374px,#f4c12b 396px,#efc127 400px,#d7c623 410px,#b2ce31 424px,#80d35a 442px,#50d479 460px,#3dd28c 476px,#32d099 492px,#20c9b4 498px,#04c2c8 504px,#01c0ce 506px,#19b0e8 518px,#288eff 542px,#2c80ff 554px,#3d74ff 566px,#446bff 578px,#4763ff 596px,#4a56ff 666px,#4a4af6 702px)"></i><i style="left:666px;width:3.6px;background:linear-gradient(#fef51e 0px,#fef71d 12px,#ffe624 308px,#ffc435 356px,#ffc033 374px,#f5c02c 396px,#dbc523 408px,#ccc925 414px,#b1ce31 424px,#80d359 442px,#52d477 460px,#3bd28e 480px,#3ad28f 484px,#26cbad 494px,#09c4c4 502px,#01c0ce 506px,#02bed3 508px,#15b4e4 516px,#1aafe9 520px,#288cff 546px,#2d7fff 558px,#3e72ff 572px,#4569ff 588px,#4a56ff 668px,#4a4af6 702px)"></i><i style="left:669px;width:3.6px;background:linear-gradient(#fef51e 0px,#fef71d 14px,#ffe624 310px,#ffc435 356px,#ffc033 372px,#f6c02d 392px,#f5c02c 394px,#dbc523 406px,#ccc925 412px,#b1ce32 422px,#51d478 454px,#4cd47d 458px,#3fd38a 480px,#23cab1 494px,#08c4c5 502px,#01c0cf 506px,#19b0e8 520px,#288fff 546px,#2c80ff 560px,#3d74ff 574px,#436cff 588px,#4a57ff 670px,#4a4af6 702px)"></i><i style="left:672px;width:3.6px;background:linear-gradient(#fef51e 0px,#fef71d 14px,#ffe624 312px,#ffd22d 334px,#ffc435 354px,#ffc033 370px,#f7c02d 390px,#e6c324 398px,#d7c623 404px,#b1ce32 418px,#7ed35a 434px,#51d478 446px,#43d387 452px,#3ed38b 484px,#32d09a 488px,#20c9b4 496px,#02c2ca 504px,#01c0cf 506px,#15b4e4 516px,#1aafe9 520px,#288fff 546px,#2c80ff 560px,#3d73ff 576px,#436dff 588px,#4763ff 634px,#4a57ff 672px,#4a4af6 702px)"></i><i style="left:675px;width:3.6px;background:linear-gradient(#fef51e 0px,#fef71d 16px,#ffe624 312px,#ffc435 350px,#ffc033 366px,#f7c02d 384px,#f4c12b 388px,#dcc523 398px,#c0cb2a 408px,#a8cf37 416px,#7bd45d 430px,#4fd47a 442px,#47d383 446px,#40d389 450px,#3dd28c 462px,#40d389 488px,#35d196 490px,#28ccaa 494px,#06c3c6 502px,#01c1cc 504px,#01bfd2 506px,#10b7df 512px,#19afe8 518px,#288dff 546px,#2c80ff 560px,#3d74ff 576px,#436dff 590px,#4667ff 632px,#4a57ff 676px,#4a4af6 702px)"></i><i style="left:678px;width:3.6px;background:linear-gradient(#fef51e 0px,#ffe624 314px,#ffd32c 330px,#ffc435 346px,#ffc033 360px,#f7c02d 382px,#e8c325 388px,#d9c623 394px,#bccc2c 404px,#aacf36 410px,#6ad469 430px,#53d476 436px,#41d388 444px,#31d09b 464px,#25cbae 488px,#08c4c5 496px,#01c0ce 500px,#19b0e8 514px,#288dff 544px,#2d7fff 560px,#3878ff 570px,#436dff 592px,#4568ff 646px,#4a56ff 680px,#4a4af6 702px)"></i><i style="left:681px;width:3.6px;background:linear-gradient(#fef51d 0px,#ffe624 314px,#ffcf2e 330px,#ffc335 342px,#fec033 352px,#f2c129 376px,#dac623 386px,#becb2b 396px,#acce34 402px,#82d358 416px,#50d479 432px,#35d196 450px,#1ec8b6 472px,#01c1cc 488px,#01bed2 492px,#19b0e8 508px,#288eff 540px,#2c81ff 556px,#3878ff 568px,#426dff 592px,#4569ff 656px,#4a57ff 682px,#4a4af6 702px)"></i><i style="left:684px;width:3.6px;background:linear-gradient(#fef61d 0px,#ffe624 312px,#ffc634 334px,#fec033 344px,#edc227 364px,#d8c623 376px,#c0cb2a 386px,#a9cf36 394px,#83d357 406px,#4fd47a 422px,#44d385 428px,#40d389 438px,#35d196 444px,#2bcda5 452px,#1fc9b5 462px,#01c1cb 478px,#03bed4 484px,#12b6e0 494px,#19afe8 502px,#288fff 536px,#2d80ff 554px,#3877ff 566px,#436dff 590px,#4568ff 660px,#4a56ff 684px,#4a4af6 702px)"></i><i style="left:687px;width:3.6px;background:linear-gradient(#fef61d 0px,#ffe624 310px,#ffc733 330px,#ffc034 338px,#f5c02c 350px,#e4c324 362px,#d9c622 368px,#c2cb29 378px,#abcf35 386px,#82d358 398px,#68d46a 404px,#53d476 408px,#40d389 416px,#3dd28c 428px,#26cbae 450px,#1dc8b6 456px,#09c4c4 466px,#01c1cd 472px,#01bed2 476px,#10b8de 486px,#19b0e8 496px,#288eff 532px,#2c81ff 548px,#3c74ff 566px,#426dff 582px,#4667ff 660px,#4a57ff 682px,#4a4af6 702px)"></i><i style="left:690px;width:3.6px;background:linear-gradient(#fef61d 0px,#ffe624 310px,#ffc435 330px,#fec032 338px,#eec127 352px,#dbc523 364px,#bfcb2b 376px,#a7cf38 384px,#81d358 394px,#51d479 404px,#3ed38b 410px,#34d197 424px,#26cbad 442px,#1fc9b5 448px,#02c2ca 464px,#02bed2 470px,#10b8df 480px,#19b0e8 490px,#288fff 526px,#2c81ff 542px,#3d74ff 558px,#446aff 576px,#4764ff 644px,#4a56ff 680px,#4a4af6 702px)"></i><i style="left:693px;width:3.6px;background:linear-gradient(#fef61d 0px,#ffe624 308px,#ffc535 330px,#ffc033 338px,#eac226 358px,#d8c623 368px,#c4ca29 376px,#a9cf36 384px,#7fd35a 394px,#51d478 402px,#3bd28e 408px,#32d09a 424px,#25cbae 438px,#01c1cb 458px,#02bed3 464px,#18b1e7 482px,#288eff 520px,#2d7fff 536px,#3a76ff 546px,#426eff 556px,#4763ff 576px,#495eff 650px,#4a56ff 676px,#4a4af6 702px)"></i><i style="left:696px;width:3.6px;background:linear-gradient(#fef61d 0px,#ffe624 306px,#ffc534 332px,#ffc033 342px,#f3c12a 364px,#dbc523 374px,#c9c926 380px,#acce34 388px,#82d358 398px,#50d479 408px,#38d292 424px,#36d194 428px,#27cbad 440px,#09c4c4 454px,#01c1cd 460px,#02bed2 464px,#10b7df 474px,#19afe9 484px,#288dff 520px,#2c80ff 534px,#3d74ff 548px,#426eff 556px,#4764ff 574px,#495dff 648px,#4a56ff 672px,#4a4af6 702px)"></i><i style="left:699px;width:3.6px;background:linear-gradient(#fef61d 0px,#ffe624 304px,#ffc435 338px,#ffc034 350px,#f7c02d 370px,#ebc226 376px,#dac623 382px,#bfcb2b 390px,#a9cf36 396px,#85d356 406px,#51d478 420px,#3dd28d 432px,#21c9b4 450px,#02c2cb 464px,#03bed3 470px,#12b6e0 480px,#19b0e8 488px,#288fff 524px,#2c81ff 540px,#3d73ff 558px,#446aff 576px,#4764ff 626px,#4a56ff 672px,#4a4af6 702px)"></i><i style="left:702px;width:3.6px;background:linear-gradient(#fef61d 0px,#ffe624 306px,#ffc435 344px,#ffc033 358px,#f7c02d 376px,#f4c12b 380px,#d9c622 388px,#bdcc2c 396px,#a7cf38 402px,#8bd351 410px,#50d479 426px,#37d193 438px,#20c9b4 454px,#01c1cb 468px,#03bed4 474px,#10b8de 482px,#19afe8 492px,#288dff 530px,#2c81ff 546px,#3d73ff 566px,#436dff 582px,#4568ff 628px,#4a56ff 672px,#4a4af6 702px)"></i><i style="left:705px;width:3.6px;background:linear-gradient(#fef71d 0px,#ffe624 310px,#ffc335 348px,#ffc033 360px,#f7c02d 376px,#f4c12b 380px,#dcc523 388px,#bbcc2d 398px,#adce34 402px,#84d356 414px,#51d478 428px,#41d388 436px,#40d389 438px,#32d099 444px,#28ccab 452px,#1ec8b6 458px,#0ac4c3 466px,#01c1cc 472px,#02bed2 476px,#13b5e2 488px,#1aaee9 496px,#288eff 532px,#2c80ff 550px,#3c75ff 568px,#426dff 586px,#4569ff 628px,#4a57ff 672px,#4a4af6 702px)"></i><i style="left:708px;width:3.6px;background:linear-gradient(#fef71d 0px,#ffe624 316px,#ffe525 322px,#ffc435 348px,#ffc034 358px,#efc128 376px,#d9c623 386px,#c3ca29 394px,#abcf35 402px,#8ad351 412px,#51d478 428px,#37d193 442px,#2acda7 452px,#20c9b4 460px,#09c4c4 470px,#01c1cd 476px,#02bed3 480px,#11b7e0 490px,#19b0e8 498px,#288dff 536px,#2c81ff 552px,#3877ff 566px,#426dff 590px,#4569ff 630px,#4a57ff 672px,#4a4af6 702px)"></i><i style="left:711px;width:3.6px;background:linear-gradient(#fef71d 0px,#ffe624 324px,#ffc932 344px,#ffc335 350px,#ffc033 358px,#f6c02c 368px,#dbc523 382px,#bdcc2c 394px,#accf35 400px,#80d35a 414px,#52d477 426px,#40d389 434px,#21c9b3 464px,#09c4c4 476px,#01c0cd 482px,#02bed3 486px,#15b4e3 498px,#1aaee9 504px,#288eff 538px,#2c81ff 554px,#3778ff 566px,#436dff 592px,#4569ff 630px,#4a57ff 672px,#4a4af6 702px)"></i><i style="left:714px;width:3.6px;background:linear-gradient(#fef71d 0px,#ffe624 324px,#ffc932 344px,#ffc034 356px,#f7c02d 366px,#e4c324 376px,#d7c623 382px,#c3ca29 390px,#a8cf37 400px,#82d358 412px,#4fd47a 426px,#41d388 432px,#26cbad 472px,#1dc8b6 478px,#07c3c5 486px,#01c1cd 490px,#03bdd4 494px,#10b8de 500px,#19afe8 508px,#288eff 540px,#2c80ff 556px,#3d74ff 574px,#426dff 590px,#4569ff 630px,#4a56ff 672px,#4a4af6 702px)"></i><i style="left:717px;width:3.6px;background:linear-gradient(#fef71c 0px,#ffe624 326px,#ffc634 346px,#fec033 356px,#f6c02c 366px,#e2c423 376px,#d5c723 382px,#c2cb2a 390px,#accf34 398px,#80d359 412px,#52d477 424px,#43d386 430px,#40d389 432px,#3ed28c 448px,#40d389 476px,#31d09b 480px,#28ccaa 484px,#01c1cb 496px,#03bdd4 500px,#11b7e0 506px,#19b0e8 512px,#288dff 542px,#2c80ff 556px,#3c75ff 572px,#426dff 588px,#4568ff 624px,#4a57ff 670px,#4a4af6 702px)"></i><i style="left:720px;width:3.6px;background:linear-gradient(#fef71c 0px,#ffe624 326px,#ffc534 346px,#ffc033 354px,#f5c12b 364px,#e4c324 374px,#d9c622 380px,#c2cb29 390px,#a8cf37 400px,#7cd45c 414px,#54d476 424px,#40d389 432px,#40d389 478px,#3cd28d 482px,#26cbad 490px,#01c1cb 500px,#04bdd5 504px,#12b6e1 510px,#18b1e7 514px,#288eff 542px,#2c80ff 556px,#3878ff 566px,#436dff 586px,#4568ff 618px,#4a57ff 668px,#4a4af6 702px)"></i><i style="left:723px;width:3.6px;background:linear-gradient(#fef81c 0px,#ffe624 328px,#ffc733 346px,#ffc136 352px,#fec032 356px,#efc128 368px,#dbc523 380px,#becb2b 394px,#aacf36 402px,#87d354 414px,#65d46c 424px,#52d477 428px,#47d383 432px,#46d383 456px,#40d389 486px,#36d194 488px,#25caaf 494px,#0ac4c3 500px,#01c0cf 504px,#19b0e8 516px,#288eff 542px,#2c81ff 554px,#3d73ff 570px,#436dff 582px,#4568ff 610px,#4a57ff 666px,#4a4af6 702px)"></i><i style="left:726px;width:3.6px;background:linear-gradient(#fef81c 0px,#ffe624 328px,#ffc733 348px,#ffc033 358px,#f5c02c 368px,#dac623 384px,#becb2b 398px,#accf35 406px,#75d461 430px,#60d46f 442px,#52d477 452px,#40d389 486px,#30cf9d 490px,#26cbad 494px,#05c3c7 502px,#01c0cd 504px,#02bed2 506px,#12b6e0 512px,#1aaee9 518px,#288dff 542px,#2d80ff 554px,#3c74ff 566px,#436cff 580px,#4a57ff 664px,#4a4af6 702px)"></i><i style="left:729px;width:3.6px;background:linear-gradient(#fef81c 0px,#ffe624 330px,#ffc932 348px,#ffc335 354px,#ffc034 360px,#f4c12b 372px,#dac623 388px,#cbc926 396px,#afce33 410px,#80d359 434px,#54d476 460px,#40d389 484px,#32d09a 488px,#29cca9 492px,#1dc8b7 496px,#04c2c9 502px,#01c0ce 504px,#02bed3 506px,#12b6e1 512px,#18b0e7 516px,#288fff 540px,#2c80ff 552px,#3e73ff 566px,#436cff 578px,#4a57ff 662px,#4a4af6 702px)"></i><i style="left:732px;width:3.6px;background:linear-gradient(#fef81c 0px,#ffe624 330px,#ffc733 352px,#ffc136 360px,#fec033 364px,#f6c02c 374px,#e6c324 384px,#d9c622 392px,#cbc926 400px,#a9cf36 418px,#87d354 436px,#53d476 464px,#40d389 484px,#31d09b 488px,#28ccab 492px,#02c2ca 502px,#01bfcf 504px,#19afe8 516px,#2890fe 538px,#2d7fff 552px,#3b75ff 562px,#416fff 570px,#4a56ff 662px,#4a4af6 702px)"></i><i style="left:735px;width:3.6px;background:linear-gradient(#fff81c 0px,#ffe624 332px,#ffc733 354px,#ffc136 362px,#fec033 366px,#f2c12a 378px,#dac623 394px,#ccc825 402px,#abcf35 420px,#88d353 438px,#53d476 464px,#40d389 484px,#30cf9c 488px,#21c9b3 494px,#07c3c6 500px,#01c1cb 502px,#01bfd1 504px,#15b4e3 512px,#1aaee9 516px,#288ffe 538px,#2c81ff 550px,#3c75ff 562px,#416fff 570px,#4a57ff 660px,#4a4af6 702px)"></i><i style="left:738px;width:3.6px;background:linear-gradient(#fff81c 0px,#ffe624 332px,#ffc832 354px,#ffc034 366px,#f6c02c 378px,#dbc523 396px,#cdc825 404px,#afce33 420px,#79d45e 446px,#52d477 462px,#42d387 472px,#40d389 484px,#30cf9d 488px,#26cbad 492px,#05c3c8 500px,#01c0ce 502px,#02bed3 504px,#12b6e1 510px,#19b0e8 514px,#288eff 538px,#2c80ff 550px,#3878ff 558px,#436cff 576px,#4a56ff 660px,#4a4af6 702px)"></i><i style="left:741px;width:3.6px;background:linear-gradient(#fff81c 0px,#ffe624 334px,#ffca31 354px,#ffc435 360px,#ffc034 368px,#f3c12a 382px,#dbc523 398px,#cdc825 406px,#adce34 422px,#7cd45c 444px,#52d477 460px,#3fd38a 472px,#37d192 484px,#26cbae 490px,#04c2c8 498px,#01c0ce 500px,#02bed3 502px,#12b6e1 508px,#18b0e7 512px,#288fff 536px,#2c80ff 548px,#3a76ff 558px,#446bff 576px,#4a57ff 658px,#4a4af6 702px)"></i><i style="left:744px;width:3.6px;background:linear-gradient(#fff91c 0px,#ffe624 334px,#ffc634 360px,#ffc036 368px,#fec032 372px,#f5c02c 384px,#dac623 400px,#cac926 408px,#b0ce32 420px,#7fd35a 440px,#53d476 456px,#3ad290 472px,#23cab1 484px,#01c1cb 494px,#03bdd4 498px,#18b1e7 508px,#2697f8 526px,#288dff 534px,#2e7eff 546px,#3e72ff 558px,#4568ff 574px,#4a56ff 656px,#4a4af6 702px)"></i><i style="left:747px;width:3.6px;background:linear-gradient(#fff91b 0px,#ffe624 336px,#ffca31 358px,#ffc335 366px,#ffc033 374px,#f3c12a 388px,#d8c623 402px,#b3cd31 418px,#a8cf36 422px,#7ed35b 438px,#54d476 452px,#35d195 472px,#1fc9b5 482px,#02c2ca 490px,#01c0cf 492px,#19afe9 506px,#288eff 530px,#2d7fff 542px,#3f72ff 554px,#4667ff 568px,#4a56ff 652px,#4a4af6 702px)"></i><i style="left:750px;width:3.6px;background:linear-gradient(#fff91b 0px,#ffe624 336px,#ffc932 360px,#ffc435 366px,#ffc034 376px,#f6c02c 388px,#d8c623 404px,#cbc925 410px,#afce33 422px,#80d35a 440px,#51d478 456px,#38d291 472px,#25cbae 480px,#09c4c4 488px,#01c0ce 492px,#02bed3 494px,#10b7df 500px,#19afe8 506px,#288ffe 530px,#2c81ff 542px,#3d74ff 554px,#446aff 568px,#4a57ff 656px,#4a4af6 702px)"></i><i style="left:753px;width:3.6px;background:linear-gradient(#fff91b 0px,#ffe624 336px,#ffc733 364px,#ffc033 378px,#f6c02d 390px,#d9c622 406px,#cdc825 412px,#adce34 426px,#7fd35a 444px,#50d479 460px,#3ed38b 470px,#32d099 474px,#22c9b2 482px,#01c1cc 492px,#04bdd5 496px,#17b1e6 506px,#288dff 534px,#2c80ff 546px,#3a76ff 556px,#446aff 574px,#4a57ff 660px,#4a4af6 702px)"></i><i style="left:756px;width:3.6px;background:linear-gradient(#fff91b 0px,#ffe624 338px,#ffc634 366px,#ffc036 376px,#fec033 380px,#f6c02c 392px,#e8c325 400px,#d8c623 408px,#ccc925 414px,#b0ce32 426px,#7dd45c 446px,#52d477 460px,#40d389 470px,#33d098 474px,#2bcda6 478px,#22cab2 482px,#01c1cb 492px,#03bdd4 496px,#11b7e0 502px,#19b0e8 508px,#288dff 536px,#2d80ff 548px,#3a76ff 558px,#446bff 576px,#4a57ff 662px,#4a4af6 702px)"></i><i style="left:759px;width:3.6px;background:linear-gradient(#fff91b 0px,#ffe624 338px,#ffc733 366px,#ffc034 380px,#f7c02d 392px,#dac623 408px,#cdc825 414px,#b1ce31 426px,#7dd45b 446px,#52d477 460px,#40d389 470px,#33d098 474px,#2bcda6 478px,#1dc8b7 484px,#01c1cb 492px,#03bed3 496px,#10b7df 502px,#19b0e8 508px,#288eff 536px,#2c81ff 548px,#3e73ff 564px,#446bff 578px,#4a56ff 666px,#4a4af6 702px)"></i><i style="left:762px;width:3.6px;background:linear-gradient(#fff91b 0px,#ffe624 338px,#ffc435 370px,#fec033 382px,#f6c02c 394px,#dbc523 408px,#cac926 416px,#adce34 428px,#7dd45c 446px,#51d479 460px,#41d388 468px,#40d389 470px,#33d099 474px,#27cbac 480px,#07c3c6 490px,#01c0cf 494px,#1aafe9 510px,#288eff 538px,#2d80ff 552px,#3d74ff 566px,#436cff 580px,#4a57ff 668px,#4a4af6 702px)"></i><i style="left:765px;width:3.6px;background:linear-gradient(#fffa1b 0px,#ffe624 340px,#ffc932 366px,#ffc335 372px,#ffc034 382px,#f7c02d 394px,#e5c324 404px,#d9c623 410px,#ccc925 416px,#aece33 428px,#83d357 444px,#50d479 460px,#40d389 468px,#30cf9d 474px,#26cbae 480px,#07c3c5 490px,#01c0ce 494px,#01bed2 496px,#12b6e0 504px,#19b0e8 510px,#288eff 540px,#2c81ff 554px,#3c74ff 570px,#436dff 584px,#4665ff 628px,#4a56ff 672px,#4a4af6 702px)"></i><i style="left:768px;width:3.6px;background:linear-gradient(#fffa1b 0px,#ffe624 340px,#ffc634 370px,#ffc036 380px,#fec033 384px,#f6c02c 396px,#dac523 410px,#cdc825 416px,#afce33 428px,#83d357 444px,#50d479 460px,#40d389 468px,#34d197 472px,#29cca8 478px,#1cc8b7 484px,#08c4c5 490px,#01c1cd 494px,#01bfd1 496px,#13b5e2 506px,#19afe9 512px,#288dff 544px,#2d7fff 560px,#3878ff 570px,#436dff 592px,#4568ff 634px,#4a56ff 676px,#4a4af6 702px)"></i><i style="left:771px;width:3.6px;background:linear-gradient(#fffa1b 0px,#ffe624 342px,#ffc832 368px,#ffc335 374px,#ffc033 384px,#f7c02d 396px,#dcc523 410px,#c9c926 418px,#b0ce32 428px,#83d357 444px,#50d47a 460px,#40d389 468px,#34d196 472px,#2acca8 478px,#1dc8b6 484px,#09c4c4 490px,#01c1cc 494px,#02bed3 498px,#12b6e0 506px,#18b0e7 512px,#288eff 546px,#2d80ff 564px,#3877ff 576px,#426dff 600px,#4569ff 640px,#4a56ff 678px,#4a4af6 702px)"></i><i style="left:774px;width:3.6px;background:linear-gradient(#fffa1a 0px,#ffe624 342px,#ffc634 372px,#ffc036 382px,#fec033 386px,#f6c02c 398px,#d9c622 412px,#cbc926 418px,#b1ce32 428px,#7cd45c 446px,#52d477 458px,#41d388 466px,#40d389 468px,#30cf9d 474px,#22cab2 482px,#01c1cb 494px,#01bed2 498px,#10b7df 506px,#19b0e8 514px,#288dff 550px,#2d80ff 568px,#3878ff 580px,#426dff 606px,#4568ff 648px,#4a56ff 680px,#4a4af6 702px)"></i><i style="left:777px;width:3.6px;background:linear-gradient(#fffa1a 0px,#ffe624 342px,#ffc633 372px,#ffc033 386px,#f6c02c 398px,#d9c622 412px,#b4cd30 426px,#a9cf36 430px,#7ed35b 444px,#52d477 456px,#34d097 470px,#20c9b4 482px,#09c4c4 490px,#01c1cc 494px,#02bed3 498px,#10b7df 506px,#19b0e8 514px,#288eff 550px,#2c81ff 568px,#3c74ff 588px,#426dff 606px,#4568ff 652px,#4a56ff 682px,#4a4af6 702px)"></i><i style="left:780px;width:3.6px;background:linear-gradient(#fffa1a 0px,#ffe624 344px,#ffc932 370px,#ffc435 376px,#ffc034 386px,#f3c12a 400px,#d8c623 412px,#bccc2c 422px,#aacf36 428px,#7dd45c 442px,#50d479 454px,#30cf9d 470px,#20c9b4 480px,#09c4c4 488px,#01c1cb 492px,#02bed2 496px,#10b8de 504px,#18b0e7 512px,#288fff 548px,#2c81ff 566px,#3d74ff 586px,#436dff 602px,#4568ff 626px,#4667ff 654px,#4a57ff 682px,#4a4af6 702px)"></i><i style="left:783px;width:3.6px;background:linear-gradient(#fffa1a 0px,#ffe624 344px,#ffc634 374px,#ffc036 384px,#fec033 388px,#f1c129 402px,#dac623 412px,#becb2b 422px,#accf35 428px,#7ed35b 442px,#51d478 454px,#30cf9d 470px,#20c9b4 480px,#02c2cb 492px,#01bfd1 496px,#11b7e0 506px,#19afe8 514px,#288fff 550px,#2d80ff 570px,#3c74ff 588px,#436dff 604px,#4568ff 628px,#4667ff 656px,#4a56ff 684px,#4a4af6 702px)"></i><i style="left:786px;width:3.6px;background:linear-gradient(#fffa1a 0px,#ffe624 344px,#ffc832 372px,#ffc034 388px,#f6c02c 402px,#dac623 414px,#bfcb2b 424px,#a7cf38 432px,#7ad45e 446px,#54d476 456px,#34d097 470px,#28ccab 478px,#1dc8b7 484px,#07c3c6 492px,#01c1cc 496px,#02bed3 500px,#10b8de 508px,#19afe8 518px,#288eff 556px,#2c80ff 576px,#3d74ff 598px,#426dff 616px,#4568ff 658px,#4a57ff 684px,#4a4af6 702px)"></i><i style="left:789px;width:3.6px;background:linear-gradient(#fffb1a 0px,#ffe624 344px,#ffc733 374px,#ffc036 386px,#ffc033 390px,#f4c12b 404px,#d8c623 416px,#bdcc2c 426px,#abcf35 432px,#7ed35a 446px,#52d478 458px,#36d195 470px,#27cbac 480px,#0ac4c3 492px,#01c0cd 498px,#03bed3 502px,#10b8de 510px,#19afe8 520px,#288eff 560px,#2c81ff 580px,#3c74ff 602px,#426eff 620px,#4569ff 658px,#4a57ff 684px,#4a4af6 702px)"></i><i style="left:792px;width:3.6px;background:linear-gradient(#fffb1a 0px,#ffe624 344px,#ffc733 374px,#ffc036 386px,#ffc033 390px,#f4c12b 404px,#d8c623 416px,#bdcb2c 426px,#accf35 432px,#7fd35a 446px,#52d477 458px,#36d194 470px,#2acca7 478px,#20c9b4 484px,#07c3c6 494px,#01c1cc 498px,#02bed2 502px,#14b5e2 514px,#1aaee9 522px,#288eff 562px,#2c80ff 582px,#3b75ff 602px,#416eff 620px,#4568ff 660px,#4a56ff 686px,#4a4af6 702px)"></i><i style="left:795px;width:3.6px;background:linear-gradient(#fffb1a 0px,#ffe624 344px,#ffc733 374px,#ffc136 384px,#fec033 390px,#f7c02d 402px,#dcc523 414px,#cdc825 420px,#bccc2c 426px,#abcf35 432px,#7ed35a 446px,#52d477 458px,#36d194 470px,#2acda7 478px,#21c9b3 484px,#08c3c5 494px,#01c1cc 498px,#01bed2 502px,#11b7df 512px,#18b0e7 520px,#288eff 562px,#2c80ff 584px,#3b75ff 604px,#426eff 622px,#4569ff 660px,#4a56ff 686px,#4a4af6 702px)"></i><i style="left:798px;width:3.6px;background:linear-gradient(#fffb1a 0px,#ffe624 344px,#ffc832 372px,#ffc034 388px,#f4c12b 402px,#dac623 414px,#bbcc2d 426px,#a9cf36 432px,#7dd45b 446px,#51d478 458px,#36d194 470px,#2acda7 478px,#21c9b3 484px,#01c1cb 498px,#01bfd2 502px,#10b7df 512px,#18b1e7 520px,#288dff 564px,#2c80ff 584px,#3b75ff 604px,#416eff 622px,#4569ff 660px,#4a56ff 686px,#4a4af6 702px)"></i><i style="left:801px;width:3.6px;background:linear-gradient(#fffb1a 0px,#ffe624 344px,#ffc833 372px,#ffc036 384px,#ffc033 388px,#f7c02d 400px,#e6c324 408px,#d8c623 414px,#becb2b 424px,#a7cf38 432px,#82d358 444px,#50d479 458px,#40d389 466px,#32d099 472px,#27cbab 480px,#01c1cb 498px,#01bfd1 502px,#10b7df 512px,#19afe8 522px,#288eff 564px,#2c81ff 584px,#3b75ff 604px,#416fff 622px,#4568ff 662px,#4a56ff 686px,#4a4af6 702px)"></i><i style="left:804px;width:3.6px;background:linear-gradient(#fffb19 0px,#ffe624 344px,#ffc634 374px,#ffc036 384px,#fec033 388px,#f4c12b 400px,#dbc523 412px,#ccc925 418px,#b1ce32 428px,#7fd35a 444px,#52d477 456px,#38d292 468px,#29cca9 478px,#20c9b4 484px,#08c3c5 494px,#01c1cc 498px,#01bfd2 502px,#10b7df 512px,#19afe8 522px,#288eff 564px,#2d80ff 586px,#3c75ff 606px,#426eff 624px,#4568ff 662px,#4a56ff 686px,#4a4af6 702px)"></i><i style="left:807px;width:3.6px;background:linear-gradient(#fffb19 0px,#ffe624 344px,#ffc932 370px,#ffc435 376px,#ffc034 386px,#f7c02d 398px,#d9c622 412px,#bbcc2d 424px,#a9cf36 430px,#7ed35b 444px,#52d477 456px,#37d193 468px,#2bcda5 476px,#1fc9b5 484px,#0bc4c2 492px,#01c1cc 498px,#01bfd2 502px,#10b7df 512px,#19b0e8 522px,#288eff 564px,#2c80ff 586px,#3b75ff 606px,#426eff 624px,#4568ff 662px,#4a56ff 686px,#4a4af6 702px)"></i><i style="left:810px;width:3.6px;background:linear-gradient(#fffc19 0px,#ffe624 344px,#ffc733 372px,#ffc036 382px,#ffc033 386px,#f7c02d 398px,#e6c324 406px,#d8c623 412px,#b9cc2e 424px,#a8cf37 430px,#7dd45b 444px,#51d478 456px,#37d193 468px,#2bcda6 476px,#1fc9b5 484px,#0bc4c2 492px,#01c1cc 498px,#01bed2 502px,#10b7df 512px,#19b0e8 522px,#288eff 564px,#2c80ff 586px,#3b75ff 606px,#426eff 624px,#4568ff 662px,#4a56ff 686px,#4a4af6 702px)"></i><i style="left:813px;width:3.6px;background:linear-gradient(#fffc19 0px,#ffe624 344px,#ffc634 372px,#ffc036 382px,#fec033 386px,#f7c02d 396px,#dbc523 410px,#cdc825 416px,#b3cd31 426px,#a7cf38 430px,#83d357 442px,#51d478 456px,#36d193 468px,#2bcda6 476px,#1fc9b5 484px,#0bc4c3 492px,#01c1cc 498px,#01bed2 502px,#10b7df 512px,#19b0e8 522px,#288eff 564px,#2c80ff 586px,#3b75ff 606px,#426eff 624px,#4568ff 662px,#4a56ff 686px,#4a4af6 702px)"></i><i style="left:816px;width:3.6px;background:linear-gradient(#fffc19 0px,#ffe624 344px,#ffc634 372px,#ffc036 382px,#fec033 386px,#f7c02d 396px,#dac523 410px,#ccc925 416px,#b2ce31 426px,#82d357 442px,#51d478 456px,#36d193 468px,#2bcda6 476px,#1fc9b5 484px,#0bc4c3 492px,#01c1cc 498px,#01bed2 502px,#10b7df 512px,#19b0e8 522px,#288fff 564px,#2c80ff 586px,#3b75ff 606px,#426eff 624px,#4568ff 662px,#4a56ff 686px,#4a4af6 702px)"></i></div>
<div style="position:absolute;left:147px;top:713px;width:819px;height:1.2px;background:#262626"></div>
<div style="position:absolute;left:965px;top:12px;width:1.2px;height:702px;background:#262626"></div>
<div style="position:absolute;left:981px;top:11px;width:35px;height:705px;border:1px solid #262626;background:linear-gradient(#ffff12 0.78%,#fffe18 2.34%,#fef71c 3.91%,#fef120 5.47%,#feeb22 7.03%,#ffe425 8.59%,#ffdd28 10.16%,#ffd62a 11.72%,#ffd02d 13.28%,#ffca31 14.84%,#ffc435 16.41%,#ffc036 17.97%,#f9c02f 19.53%,#f0c128 21.09%,#e5c324 22.66%,#d9c622 24.22%,#ccc925 25.78%,#bfcb2b 27.34%,#b0ce32 28.91%,#a1d03e 30.47%,#91d24c 32.03%,#81d359 33.59%,#6fd465 35.16%,#5dd471 36.72%,#4cd47d 38.28%,#41d388 39.84%,#37d292 41.41%,#30d09c 42.97%,#2bcda5 44.53%,#27cbad 46.09%,#20c9b5 47.66%,#16c6bc 49.22%,#0ac4c3 50.78%,#02c2cb 52.34%,#01bfd1 53.91%,#07bbd8 55.47%,#0fb8de 57.03%,#15b4e4 58.59%,#19b0e8 60.16%,#1cabeb 61.72%,#1fa6ee 63.28%,#21a1f1 64.84%,#239cf4 66.41%,#2697f8 67.97%,#2892fc 69.53%,#288cff 71.09%,#2986ff 72.66%,#2c80ff 74.22%,#357aff 75.78%,#3d73ff 77.34%,#436dff 78.91%,#4667ff 80.47%,#4861ff 82.03%,#495bff 83.59%,#4a55fe 85.16%,#4a4ffa 86.72%,#4a49f5 88.28%,#4a43ef 89.84%,#493ee7 91.41%,#4839de 92.97%,#4634d3 94.53%,#4530c7 96.09%,#432bbc 97.66%,#4127af 99.22%)"></div>
<div style="position:absolute;left:1007px;top:151.5px;width:8px;height:1px;background:#262626"></div>
<div style="position:absolute;left:1007px;top:292.5px;width:8px;height:1px;background:#262626"></div>
<div style="position:absolute;left:1007px;top:433.5px;width:8px;height:1px;background:#262626"></div>
<div style="position:absolute;left:1007px;top:574.5px;width:8px;height:1px;background:#262626"></div>
<div class="t yl" style="left:17px;top:47.0px">40.15</div>
<div class="t yl" style="left:17px;top:112.6px">40.1</div>
<div class="t yl" style="left:17px;top:178.1px">40.05</div>
<div class="t yl" style="left:17px;top:243.6px">40</div>
<div class="t yl" style="left:17px;top:309.2px">39.95</div>
<div class="t yl" style="left:17px;top:374.8px">39.9</div>
<div class="t yl" style="left:17px;top:440.3px">39.85</div>
<div class="t yl" style="left:17px;top:505.8px">39.8</div>
<div class="t yl" style="left:17px;top:571.4px">39.75</div>
<div class="t yl" style="left:17px;top:636.9px">39.7</div>
<div class="t xl" style="left:184.5px;top:728px">71</div>
<div class="t xl" style="left:295.5px;top:728px">70.8</div>
<div class="t xl" style="left:406.5px;top:728px">70.6</div>
<div class="t xl" style="left:517.5px;top:728px">70.4</div>
<div class="t xl" style="left:628.5px;top:728px">70.2</div>
<div class="t xl" style="left:739.5px;top:728px">70</div>
<div class="t xl" style="left:850.5px;top:728px">69.8</div>
<div class="t cl" style="left:1024px;top:-2.0px">0</div>
<div class="t cl" style="left:1024px;top:137.0px">-500</div>
<div class="t cl" style="left:1024px;top:278.0px">-1000</div>
<div class="t cl" style="left:1024px;top:419.0px">-1500</div>
<div class="t cl" style="left:1024px;top:560.0px">-2000</div>
<div class="t cl" style="left:1024px;top:701.0px">-2500</div>
<div class="t" style="font-size:37px;left:433px;top:782px">Longitude (<span style="font-size:26px;position:relative;top:-14px">o</span>W)</div>
<div class="t" style="font-size:37px;left:-85px;top:338px;width:220px;transform:rotate(-90deg);transform-origin:center">Latitude (<span style="font-size:26px;position:relative;top:-14px">o</span>N)</div>
<svg style="position:absolute;left:0;top:0" width="1104" height="821" viewBox="0 0 1104 821" font-family="Liberation Sans, sans-serif"><defs><clipPath id="c"><rect x="147" y="12" width="819" height="710"/></clipPath></defs><g clip-path="url(#c)"><polyline points="776.5,12.5 779.0,13.0 780.4,12.9 783.1,12.8 785.7,13.8 787.5,14.4 789.7,14.2 792.0,14.3 794.3,14.8 797.0,16.1 799.2,18.4 800.6,20.3 802.2,19.9 804.6,19.5 806.9,21.4 808.0,23.3 808.9,23.7 810.7,24.1 814.0,25.1 817.8,25.3 820.1,25.3 821.0,25.3 822.3,26.4 824.9,27.9 828.1,28.0 830.7,27.9 832.2,28.3 833.2,28.5 834.9,29.3 837.4,29.3 839.0,30.3 840.4,32.2 841.3,33.2 842.4,33.9 844.5,35.5 846.8,38.1 848.2,40.4 849.6,41.7 850.5,42.6 851.4,43.7 853.0,45.5 854.7,46.2 856.1,47.4 858.2,49.3 860.8,50.4 862.5,50.9 863.5,51.4 865.6,52.4 868.2,53.5 869.2,54.1 869.8,55.3 871.7,56.3 873.8,58.1 875.7,60.2 876.9,61.9 877.5,63.9 878.3,65.8 879.0,67.1 880.2,68.9 881.6,70.8 883.1,71.8 884.9,73.4 886.3,75.6 888.3,76.6 890.0,77.3 890.9,78.1 892.1,78.6 893.8,78.8 895.5,80.0 896.7,82.3 898.6,83.4 900.6,83.7 902.3,84.5 904.4,85.3 906.5,85.8 908.5,86.9 910.7,89.4 912.5,91.2 914.0,91.8 916.1,92.2 918.4,92.1 920.9,92.3 922.5,93.9 923.1,94.7 924.5,94.8 926.7,96.0 928.8,97.3 930.9,98.0 933.0,99.1 934.3,100.2 936.2,101.2 938.8,101.7 940.3,101.8 941.5,103.4 943.8,104.8 946.5,104.7 948.1,105.9 948.5,108.0 950.5,108.7 953.5,109.1 954.8,109.6 956.5,109.9 959.4,111.3 961.9,112.5 963.5,112.7 966.0,113.5" fill="none" stroke="#fff" stroke-width="5" stroke-linejoin="round" stroke-linecap="round"/><polyline points="147.1,180.6 149.1,178.9 150.7,177.6 152.6,176.5 154.6,174.7 156.3,172.5 157.5,170.3 159.0,168.4 159.7,170.4 160.4,172.3 161.3,174.3 162.0,176.4 164.0,175.3 165.8,174.1 168.0,173.0 170.4,172.7 172.5,172.4 174.4,172.0 176.1,171.6 177.9,171.6 180.5,171.8 183.0,171.5 185.5,170.9 187.8,171.2 189.9,171.5 191.8,171.5 194.2,171.4 196.2,171.6 198.1,171.9 200.9,173.4 202.6,171.8 204.1,170.5 205.1,169.2 206.2,167.6 207.8,165.9 209.9,165.2 212.3,164.4 214.2,163.6 215.9,163.0 218.2,162.4 220.5,161.8 222.5,161.6 224.9,161.0 227.0,160.2 228.0,158.3 229.3,156.5 231.3,154.7 232.1,156.8 232.5,158.4 233.6,160.4 237.6,160.9" fill="none" stroke="#fff" stroke-width="3" stroke-linejoin="round" stroke-linecap="round"/><polyline points="279.5,187.5 282.6,186.0 284.0,187.3 285.3,188.3 287.0,189.1 288.6,190.5 290.2,191.8 292.2,192.7 294.2,192.9 296.2,192.9 298.5,193.1 300.7,193.7 303.0,194.3 305.1,194.7 306.6,195.3 308.6,196.2 311.3,197.0 314.1,197.8 316.3,198.4 317.8,198.6 319.2,199.2 321.1,200.1 323.6,200.7 326.0,201.6 327.9,202.2 330.0,202.6 332.2,203.0 334.4,203.0 336.7,203.9 338.8,205.0 340.6,205.5 342.5,206.2 344.9,206.9 347.3,207.1 348.9,207.3 350.5,207.8 353.1,208.7 355.7,209.6 357.7,210.5 359.4,211.3 361.4,212.1 364.1,213.0 366.6,213.8 368.3,214.5 370.0,215.0 372.6,215.3 375.1,216.2 377.3,217.5 379.1,218.4 380.9,219.1 382.9,219.9 385.1,220.2 387.3,220.3 389.3,221.2 391.3,222.3 393.1,223.3 395.1,224.2 397.3,225.1 399.6,226.1 402.0,226.7 404.4,227.2 406.6,228.0 408.8,228.6 411.4,229.1 414.2,229.4 416.6,229.8 418.5,230.5 420.5,230.8 422.2,231.7 424.1,233.1 426.5,233.9 428.9,234.4 430.8,235.1 432.4,235.7 434.5,236.1 436.9,236.7 439.1,237.0 441.1,237.3 443.2,237.4 444.9,237.5 447.0,237.3 449.6,236.8 451.8,236.8 453.8,237.2 455.6,236.8 457.4,235.9 459.5,235.3 461.6,235.0 463.8,234.5 466.0,233.8 468.0,233.0 470.1,232.2 472.3,231.0 474.6,229.9 476.6,229.3 478.2,228.9 480.0,227.7 482.1,226.1 483.6,224.3 485.4,223.0 487.5,222.0 489.0,220.8 490.4,220.0 491.8,218.6 493.4,216.9 495.3,215.2 497.0,213.4 498.3,211.7 499.4,209.9 500.6,207.9 502.2,206.2 503.8,204.8 504.7,203.2 506.1,201.4 507.6,199.6 508.6,198.3 510.2,196.7 512.0,194.8 513.5,192.9 514.6,191.4 515.8,189.8 517.2,187.9 518.7,186.4 520.3,184.7 522.0,182.9 523.7,181.7 525.1,180.3 526.1,178.7 527.2,177.1 528.4,175.4 530.3,173.6 532.4,172.1 534.2,170.2 536.2,168.6 538.6,168.0 540.3,167.2 541.9,166.4 543.9,165.5 546.2,165.9 548.3,166.1 550.8,166.1 552.6,167.7 554.1,169.2 554.8,170.3 555.6,171.7 557.1,173.9 558.5,176.5 559.3,178.7 560.3,180.3 561.2,181.9 562.1,183.5 563.3,185.1 564.6,186.9 565.7,188.5 566.8,190.1 567.7,192.0 568.5,193.8" fill="none" stroke="#fff" stroke-width="3" stroke-linejoin="round" stroke-linecap="round"/><polyline points="596.0,217.5 597.9,216.4 600.4,214.8 602.5,213.6 604.4,212.8 606.6,212.5 608.9,211.7 611.0,210.9 613.3,210.5 615.9,210.1 618.3,209.7 620.4,209.5 622.7,208.9 625.4,208.2 627.9,207.3 629.8,206.8 631.7,206.9 633.9,207.0 636.0,206.8 638.0,206.6 640.0,207.0 642.2,207.7 644.7,208.1 647.1,208.1 649.3,209.0 651.4,210.0 653.6,210.7 655.9,211.1 658.0,211.6 660.3,212.9 662.7,214.0 664.8,214.7 667.1,215.5 669.0,216.9 670.8,218.4 672.6,220.2 673.5,218.3 674.7,216.1 675.6,214.5 676.2,212.9 676.6,210.7 677.3,208.5 678.2,206.9 678.8,204.6 679.0,202.2 679.3,200.4 679.5,198.3 680.2,196.0 681.4,194.1 682.1,192.2 682.5,189.7 683.1,187.3 684.1,185.8 684.9,184.2 685.2,182.1 685.9,179.9 686.7,177.6 687.0,175.5 687.4,174.1 688.4,172.4 689.6,170.0 690.7,167.8 691.1,166.0 691.5,164.2 692.3,162.3 693.1,160.5 694.0,158.4 695.3,160.0 696.6,161.8 698.0,163.3 699.0,164.8 700.1,166.7 701.2,168.9 701.6,171.0 702.5,173.1 703.3,175.0 704.1,176.7 704.7,178.5 705.0,180.3 705.5,182.5 706.2,185.1 706.9,187.3 707.3,189.0 707.7,190.8 708.2,193.1 708.5,195.2 708.7,197.0 708.9,199.1 709.5,201.0 710.0,202.8 710.4,204.9 710.7,207.0 711.0,208.9 711.6,210.9 712.2,213.0 712.4,214.8 712.6,216.3 712.9,218.1 713.2,220.5 713.5,222.6 713.5,224.4 713.8,226.6 714.1,228.8 714.5,230.6 714.9,232.8 715.2,235.1 715.4,236.9 715.6,238.9 715.9,241.0 716.4,243.0 716.4,245.3 717.2,247.1 718.5,248.6 719.3,250.6 719.8,252.7 721.3,254.8 722.9,256.6 723.7,258.5 724.3,260.2 725.2,261.6 726.5,263.3 728.3,264.8 729.7,266.4 731.0,268.4 732.6,270.2 734.2,271.8 735.6,273.6 737.1,275.5 738.8,276.8 739.9,277.9 741.3,279.1 743.2,280.5 745.1,282.0 747.0,283.1 748.8,284.7 750.1,286.6 751.6,287.7 753.6,288.6 755.7,290.0 757.2,291.0 758.8,292.3 760.8,293.7 762.5,294.8 763.8,295.6 765.5,296.6 767.6,298.1 769.7,299.5 771.4,300.3 772.6,301.1 774.5,302.5" fill="none" stroke="#fff" stroke-width="3" stroke-linejoin="round" stroke-linecap="round"/><polyline points="827.0,326.2 829.1,325.5 831.2,324.7 833.3,324.1 834.9,323.1 836.9,322.5 839.4,321.7 841.6,320.5 843.5,319.1 845.0,317.6 846.8,316.1 849.3,317.5 851.3,318.9 853.4,320.1 854.5,322.2 855.2,324.3 855.7,326.6 856.5,329.0 857.3,330.8 858.0,332.7 858.5,334.9 860.4,335.3 862.6,335.9 864.8,336.8 866.9,337.7 869.2,338.5 871.2,338.9 872.9,339.7 875.0,341.0 877.3,341.4 879.1,341.3 880.8,342.1 882.6,343.3 884.4,343.7 886.2,344.0 888.2,344.5 890.4,345.2 892.5,346.4 894.4,347.1 896.1,347.1 898.2,347.4 900.2,348.0 902.3,348.6 904.6,349.1 907.1,349.6 909.1,350.2 910.7,350.6 912.8,351.3 915.0,352.2 917.0,352.8 919.5,353.5 921.9,354.1 924.1,354.4 926.3,354.6 928.3,354.9 930.1,355.2 931.9,355.8 933.6,355.8 935.6,355.6 937.7,355.3 939.6,355.5 941.5,355.8 943.9,355.7 946.4,355.2 948.3,355.0 950.1,355.2 952.4,355.1 954.7,354.9 957.0,354.7 959.5,354.4 962.1,354.6 964.2,354.9 966.0,355.0" fill="none" stroke="#fff" stroke-width="3" stroke-linejoin="round" stroke-linecap="round"/><polyline points="147.0,370.5 148.3,369.5 150.1,367.9 152.3,366.5 154.4,365.7 156.6,365.6 158.8,365.5 161.0,365.6 163.3,365.5 165.5,365.5 167.4,364.8 169.3,363.9 171.6,362.8 173.6,361.1 175.3,360.0 177.2,360.0 179.3,359.7 181.5,359.0 183.5,358.4 185.3,357.6 186.2,355.6 187.3,354.1 188.4,352.3 189.5,350.0 190.3,348.3 191.0,346.8 192.2,345.0 195.0,343.8 197.6,342.7 199.1,343.5 201.0,344.5 203.2,345.5 205.2,346.3 207.3,347.0 209.4,348.0 211.2,349.1 212.8,349.9 215.1,349.1 217.5,348.4 220.2,347.3 221.0,344.7 221.4,342.4 222.2,340.6 223.4,338.9 224.2,336.9 225.1,334.9 226.5,332.7 227.5,331.2" fill="none" stroke="#fff" stroke-width="3" stroke-linejoin="round" stroke-linecap="round"/><polyline points="250.0,361.2 252.1,361.0 254.4,362.0 256.9,362.9 258.8,364.2 260.6,365.3 262.3,365.4 263.7,365.0 265.9,364.3 268.3,364.1 270.1,364.5 271.7,364.8 273.6,364.8 276.0,364.8 278.3,364.9 279.9,365.0 281.7,365.0 284.0,365.0 286.1,365.0 288.0,365.2 289.9,365.3 292.2,365.2 294.5,364.8 296.3,364.5 298.2,364.9 300.4,365.1 302.6,364.7 304.7,364.6 306.9,364.7 309.1,364.5 311.3,364.1 313.3,364.0 315.2,364.0 317.6,363.7 320.1,363.6 322.3,363.5 324.2,363.3 326.1,363.3 325.4,361.3 324.9,359.4 324.5,357.2 324.0,354.9 325.4,352.5 326.5,350.5 327.5,348.9 329.5,348.3 331.3,347.3 333.0,345.9 335.0,344.8 335.7,343.2 336.5,341.3 337.9,339.2 339.1,337.6 340.3,335.9 342.5,338.2 344.3,340.4 344.3,342.3 344.3,343.9 345.0,345.9 346.0,347.9 346.3,350.3 346.5,353.3 347.5,355.5 349.3,356.5 350.4,357.8 352.2,358.7 354.2,359.8 355.8,361.2 357.6,362.4 359.8,363.3 361.7,364.4 363.8,365.4 365.6,366.2 367.4,367.1 369.3,367.8 371.7,367.9 374.1,367.9 376.2,368.2 378.1,369.0 379.9,370.0 382.3,370.7 384.5,371.2 386.0,371.8 387.6,372.0 389.8,372.2 392.3,373.2 394.6,374.2 396.6,374.8 398.3,375.3 400.1,375.7 402.2,376.0 404.7,375.8 407.1,375.7 409.1,374.9 411.3,374.4 413.7,374.1 415.8,373.8 417.5,375.2 419.6,376.2 421.9,376.9 423.7,377.8 425.6,378.6 427.9,379.5 429.8,380.5 431.5,381.4 433.6,382.2 435.7,383.1 438.0,383.9 440.4,384.9 442.4,385.8 443.9,386.6 445.9,387.6 448.0,387.8 450.1,387.2 452.6,387.3 454.9,387.4 456.7,387.4 459.2,387.4 462.1,386.8 464.7,386.2 467.0,386.0 468.7,385.8 470.3,385.6 472.2,386.0 474.4,386.3 476.6,386.3 478.5,386.4 480.2,386.0 482.1,385.3 485.0,385.5 487.5,385.7 488.9,385.4 490.9,385.4 492.6,383.7 493.4,381.6 494.6,380.1 496.6,379.0 498.4,377.7 498.7,375.6 498.7,373.7 498.5,371.6 498.4,369.3 498.5,367.5" fill="none" stroke="#fff" stroke-width="3" stroke-linejoin="round" stroke-linecap="round"/><polyline points="509.8,315.0 510.5,313.9 510.4,311.6 510.4,309.1 510.4,306.7 509.9,304.7 510.3,303.0 510.7,301.0 510.8,299.1 511.4,297.1 512.1,295.2 512.4,293.0 512.5,290.6 513.0,288.3 513.8,286.6 514.1,285.2 514.2,283.4 514.6,281.2 515.2,279.0 515.7,276.9 516.5,275.0 517.2,272.9 517.1,270.8 517.2,268.8 517.9,266.6 518.6,264.5 519.4,262.5 519.9,260.6 519.8,258.7 519.9,256.6 520.8,254.4 521.6,252.4 521.8,250.6 522.6,248.4 523.9,246.3 524.7,244.4 525.2,242.2 525.7,240.1 526.9,238.3 528.0,236.3 529.3,233.9 531.9,235.9 531.7,238.2 531.8,240.9 531.8,243.2 531.5,245.5 531.3,247.9 530.9,250.2 531.0,251.7 531.4,253.3 531.2,255.7 530.8,258.4 531.0,260.9 531.3,263.1 531.8,264.9 532.4,267.0 532.1,269.4 531.5,271.5 531.9,273.1 532.5,274.9 532.7,277.2 532.6,279.1 532.4,280.8 533.2,283.0 534.4,285.1 534.4,287.1 534.1,289.3 534.1,291.5 534.1,293.2 534.3,294.4 534.9,296.3 535.5,298.9 535.6,301.2 535.8,303.2 536.3,305.2 536.8,307.4 536.5,309.3 535.9,311.2 535.7,313.0 535.6,314.6 536.1,317.0 536.5,319.3 535.9,321.1 535.5,322.7 535.7,324.5 536.1,327.1 536.6,329.5 537.0,331.8 536.6,334.1 536.2,336.2 536.5,338.2 536.9,340.8 537.1,342.8 538.0,344.2 538.6,346.1 538.7,348.5 539.2,351.1 540.1,353.3 540.8,355.0 541.8,356.3 542.7,357.9 544.3,359.9 545.9,361.5 547.2,362.5 548.5,364.2 550.5,366.1 552.4,367.6 554.2,368.8 556.0,369.9 557.9,371.2 560.2,372.4 562.1,373.4 563.8,374.2 566.0,375.2 568.7,375.9 570.6,376.4 572.1,377.1 574.2,377.9 576.5,378.7 578.9,378.4 580.8,377.9 581.2,375.9 581.9,373.3 582.3,370.8 582.5,369.3 583.2,367.6 584.8,365.5 586.1,363.7 587.3,362.1 588.4,360.1 589.8,358.2 591.3,356.8 592.3,355.2 593.4,353.7 595.0,352.1 596.3,350.5 597.5,349.0 598.4,347.3 599.5,345.6 600.9,347.1 602.2,348.3 603.9,349.7 604.7,351.9 605.2,354.0 605.5,356.1 605.6,358.1 606.2,359.8 606.8,361.9 608.2,364.3 609.4,366.6 610.8,369.1 613.0,367.9 615.5,366.4 617.7,364.8 619.6,364.0 621.9,362.8" fill="none" stroke="#fff" stroke-width="3" stroke-linejoin="round" stroke-linecap="round"/><polyline points="630.7,340.9 630.6,338.6 630.7,336.4 630.7,334.0 630.3,332.1 630.1,330.2 630.4,327.9 630.9,326.0 631.4,323.7 632.2,320.9 632.6,318.5 632.8,316.6 634.5,315.1 636.3,313.4 637.6,311.5 639.3,310.3 641.6,311.5 643.5,311.8 645.7,312.2 646.7,310.0 647.4,307.9 648.5,305.9 650.7,304.6 652.4,303.6 654.3,303.8 656.4,303.7 658.7,303.7 661.1,304.0 662.4,302.2 663.5,300.3 665.3,299.0 666.7,297.5 667.4,296.0 668.6,294.3 670.1,292.1 671.3,289.9 672.4,288.0 674.0,286.4 675.4,284.6 677.0,282.6 678.6,281.0 679.4,279.5 680.2,277.3 681.0,275.1 682.1,273.5 683.9,272.0 685.5,270.1 686.9,268.3 688.0,266.4 689.0,264.2 690.4,262.1 691.7,259.8 692.2,257.2 695.2,259.1 695.7,261.5 695.8,263.9 695.2,265.6 695.0,267.7 695.2,269.7 695.0,271.4 694.8,273.8 694.6,276.0 694.4,277.8 694.0,280.1 693.7,282.3 693.7,284.2 693.3,286.1 692.8,287.8 692.2,289.4 691.5,291.4 690.6,293.6 689.9,295.7 690.1,297.8 690.2,299.9 689.3,301.9 688.4,303.8 687.5,305.9 686.1,307.7 685.7,309.3 685.6,311.2 684.7,313.3 683.4,315.4 682.3,317.2 681.6,319.0 680.9,320.9 680.5,322.9 680.2,325.2 679.1,327.7 678.2,330.0 677.9,332.5 678.5,334.7 679.0,336.5 679.8,338.5 680.4,340.8 680.8,343.0 682.4,344.6 684.3,346.6 686.3,348.4 688.0,349.6 689.6,350.4 691.6,351.4 693.9,352.3 696.0,353.5 697.9,354.3 699.2,354.7 700.5,355.5 701.3,357.6 702.5,359.8 704.0,362.0 705.4,363.7 706.5,364.9 707.3,366.6 707.2,369.2 707.9,371.6 708.5,373.4 708.4,375.2 708.2,377.3 708.3,379.5 708.8,381.7 709.3,383.5 709.1,384.9 708.7,386.6 708.9,388.4 710.5,386.6 711.9,385.1 712.7,382.8 713.4,380.2 715.1,378.9 716.7,377.8 718.6,376.2 720.8,374.9 722.7,373.8 724.2,372.1 726.2,370.1 728.3,368.3 729.7,366.7 730.5,364.8 731.7,363.0 733.0,360.8 735.4,362.1 738.3,363.4 741.1,364.7 741.5,366.8 741.7,369.1 742.1,371.0 742.5,372.7 743.1,375.4 744.2,378.3 745.4,380.6 746.1,383.0 746.5,385.3 747.0,387.5" fill="none" stroke="#fff" stroke-width="3" stroke-linejoin="round" stroke-linecap="round"/><polyline points="779.5,380.0 780.6,378.9 781.4,376.8 782.4,374.6 783.2,372.4 784.4,370.7 786.1,369.3 786.9,367.6 787.7,365.7 788.8,363.8 789.8,362.4 790.9,361.1 791.8,359.2 793.0,360.7 794.4,362.3 795.3,364.3 796.4,366.1 797.4,368.1 797.4,370.5 797.5,372.0 797.6,373.5 798.0,376.0 798.7,378.6 799.3,380.9 799.6,382.9 799.6,385.2 800.4,387.2 801.6,388.7 803.3,390.0 804.8,392.1 804.7,394.4 804.6,396.7 805.2,398.6 805.8,400.3 806.2,402.6 806.3,404.8 806.1,407.1 806.3,409.2 806.6,410.8 806.8,412.4 808.9,410.8 811.0,409.9 812.6,408.9 814.3,407.2 816.2,405.7 817.9,404.5 819.0,403.1 820.0,401.8 821.6,400.6 823.2,398.4 824.4,396.0 825.6,394.2 827.1,392.4 827.9,390.4 828.1,388.2 828.0,386.1 828.3,383.9 828.7,381.7 829.0,379.6 829.8,377.7 830.6,375.9 831.0,373.9 831.5,371.7 831.6,369.3 831.5,367.0 832.4,364.9 833.0,362.9 833.7,360.9 835.1,359.2 836.5,357.6 837.5,355.7 839.9,357.1 842.3,358.1 842.2,359.8 841.9,361.5 842.6,363.5 844.0,365.7 844.9,367.7 845.1,369.7 845.5,372.0 846.1,374.2 846.5,376.0 846.9,378.2 847.4,380.5 847.9,382.7 848.2,384.9 849.3,386.7 850.4,388.3 851.4,390.1 852.5,392.4 853.3,390.7 853.9,388.5 854.8,386.2 855.4,383.9 855.7,381.8 856.5,379.5 859.3,378.7 861.7,378.3 864.0,377.5 865.7,375.8 867.7,374.3 869.7,372.4 871.5,374.1 873.1,375.9 874.5,378.0 875.4,379.6 876.6,381.1 878.2,383.1 879.7,384.8 881.3,385.8 883.1,387.3 885.6,388.7 887.8,389.6 889.8,390.1 891.0,391.8 892.0,393.7 893.2,395.0 894.4,396.4 895.3,398.0 897.0,400.0" fill="none" stroke="#fff" stroke-width="3" stroke-linejoin="round" stroke-linecap="round"/><polyline points="939.5,415.0 941.6,414.6 943.8,413.9 946.1,413.3 948.2,412.6 950.2,411.5 952.2,410.5 954.6,409.8 957.0,409.5 959.1,409.3 961.2,408.6 963.4,407.9 966.0,407.5" fill="none" stroke="#fff" stroke-width="3" stroke-linejoin="round" stroke-linecap="round"/><polyline points="197.5,498.8 200.1,498.5 201.9,498.2 203.6,497.9 205.7,497.4 207.8,497.1 208.7,495.2 210.0,493.8 211.5,492.4 212.4,490.4 212.9,488.0 214.0,485.6 214.8,483.8 215.3,482.1 215.7,479.8 216.2,477.2 217.1,475.0 217.8,473.5 218.5,471.7 219.2,469.4 219.7,467.0 219.9,464.8 220.2,467.0 220.7,469.3 220.8,471.3 221.1,473.4 221.8,475.3 221.7,477.0 221.4,478.7 220.9,480.8 220.5,482.7 220.2,484.7 220.0,487.2 219.8,489.6 219.8,491.8 222.0,491.7 224.0,491.3 226.2,490.8 228.2,490.6 230.1,490.3 231.8,490.2 233.8,490.6 236.4,490.6 238.6,490.2 240.2,490.3 241.9,490.3 243.8,489.6 246.1,488.9 248.7,488.7 250.9,489.2 253.1,489.3 255.4,488.9 257.3,488.4 258.9,488.2 260.7,488.2 262.8,488.0 265.2,487.6 267.3,487.6 269.2,487.7 271.0,487.5 272.7,487.3 275.0,487.3 277.7,487.2 279.8,486.7 281.8,486.3 284.1,486.4 286.0,486.6 287.6,486.5 289.4,486.4 291.4,486.4 293.9,485.9 296.2,485.6 298.1,485.8 300.2,486.2 302.1,486.3 304.1,486.2 306.6,486.2 309.2,486.0 310.9,486.3 312.6,486.8 314.7,485.6 316.6,484.1 318.5,483.2 320.3,482.4 322.3,481.2 323.1,478.8 323.8,476.4 324.3,474.2 324.8,472.5 325.0,470.3 325.4,467.7 326.3,465.5 326.9,463.4 327.1,460.9 327.2,458.5 327.6,456.2 328.1,454.5 328.7,453.0 329.4,451.4 330.2,449.2 331.7,450.9 332.8,452.9 334.0,455.2 334.3,457.4 334.6,459.4 335.1,461.3 335.8,463.4 336.2,465.4 336.2,467.0 336.3,468.8 336.5,470.9 337.0,472.5 337.4,475.1 337.9,477.8 338.7,479.7 339.3,481.4 339.7,483.3 340.0,485.2 341.6,486.5 343.2,487.7 345.0,488.7 347.3,488.7 349.2,489.1 350.7,489.2 352.8,489.3 355.5,489.5 357.6,489.7 358.7,490.0 360.3,490.4 362.8,490.2 365.1,489.8 367.0,490.3 368.7,491.3 370.5,492.2 372.5,492.3 374.8,492.3 377.2,492.6 379.2,493.0 381.2,493.3 383.5,493.3 385.9,493.1 387.8,493.3 389.7,493.6 391.8,493.9 394.0,494.1 396.2,494.4 398.0,494.9 400.0,495.0" fill="none" stroke="#fff" stroke-width="3" stroke-linejoin="round" stroke-linecap="round"/><polyline points="422.0,495.0 424.0,495.4 425.8,495.1 427.8,494.6 429.8,494.3 431.7,493.8 433.9,493.2 435.8,492.9 438.0,492.4 441.0,491.8 442.6,493.8 443.1,496.0 443.6,498.6 445.9,498.0 448.3,497.2 450.4,496.0 452.4,495.6 454.3,495.1 456.2,494.8 458.2,495.2 459.0,493.4 459.8,491.4 460.4,489.3 460.6,487.3 461.4,485.6 462.5,483.7 462.9,481.5 463.3,483.6 464.4,485.5 465.0,487.3 465.3,489.7 465.8,491.7 466.5,493.1 467.5,494.8 470.3,494.9 472.4,494.9 474.2,495.1 476.3,496.1 478.4,497.1 480.5,496.9 483.1,496.6 485.6,496.6 487.6,496.3 489.5,496.2 491.1,495.7 492.8,495.2 495.3,494.9 497.7,494.7 499.4,494.8 501.2,494.4 503.9,493.8 504.9,491.8 505.2,489.8 505.5,487.7 506.0,485.9 506.7,484.0 507.4,481.9 507.8,480.0 508.1,478.3 508.7,476.1 509.1,473.7 509.5,471.6 509.9,469.4 509.8,467.1 510.0,465.3 510.6,463.5 510.8,461.4 510.5,459.0 510.4,457.0 510.8,455.3 511.2,453.3 511.4,450.8 511.4,448.3 511.5,446.0 511.8,443.9 511.8,442.4 511.6,440.8 511.8,438.7 512.3,436.3 512.4,434.1 511.9,432.2 511.5,430.3 511.4,427.9 511.5,425.5 511.6,423.6 511.9,421.9 511.9,419.8 512.1,417.5 512.1,415.4 511.7,413.5 512.0,411.2 512.4,409.0 512.6,406.8 512.7,404.6 512.3,402.7 511.9,401.0 511.5,399.1 511.3,397.0 511.2,394.7 511.0,392.4 511.3,390.4 511.6,388.5 511.7,386.2 511.5,383.8 511.1,381.7 510.7,379.8 512.1,377.1 513.3,374.7 515.1,375.1 517.4,375.0 519.9,374.8 521.9,375.0 523.6,375.3 524.8,377.6 525.8,380.1 525.7,382.1 525.9,384.0 525.9,386.6 525.8,389.1 525.7,390.8 525.7,392.6 526.3,394.7 527.1,396.7 527.4,399.0 526.7,400.9 526.4,402.7 527.2,404.6 527.9,406.7 528.1,409.1 528.5,411.6 528.7,413.7 528.6,415.5 528.7,417.2 529.0,419.3 529.3,421.6 529.8,423.7 530.4,425.7 530.6,427.7 530.7,430.3 531.1,432.7 531.2,434.4 531.6,436.2 532.4,438.3 533.2,440.4 533.5,442.5" fill="none" stroke="#fff" stroke-width="3" stroke-linejoin="round" stroke-linecap="round"/><polyline points="556.0,492.5 558.8,491.6 560.6,491.5 562.4,491.0 564.5,490.7 566.4,490.1 568.8,489.6 571.3,489.7 573.3,489.3 575.1,488.2 576.6,486.8 578.3,485.5 580.6,484.5 581.8,483.3 582.6,481.5 583.3,479.0 583.9,477.2 584.5,475.5 585.5,473.4 586.5,471.6 587.2,469.8 588.0,467.9 588.9,466.1 589.3,463.9 589.8,461.7 591.0,459.8 591.9,457.6 592.6,455.7 593.6,454.1 594.6,452.1 595.2,450.2 595.6,448.4 595.8,446.2 596.2,443.9 597.2,442.1 598.1,440.4 598.6,438.3 599.5,436.4 600.6,434.4 601.3,432.3 602.3,434.4 603.3,436.4 604.7,438.4 606.3,440.2 607.2,441.8 607.7,443.6 608.6,445.7 609.8,448.0 611.0,449.9 611.9,451.2 612.9,452.6 613.9,454.9 613.7,457.4 613.5,459.2 614.0,461.0 614.4,463.3 614.8,465.4 615.1,467.5 615.0,469.8 614.8,471.5 614.8,473.2 614.7,475.8 615.2,478.2 615.9,480.1 616.6,482.5 617.5,484.8 618.7,487.4 619.1,485.2 619.4,482.9 619.9,480.6 620.3,478.5 620.5,476.6 620.6,474.4 621.0,472.4 621.5,470.4 622.1,468.4 622.3,466.5 622.8,464.1 623.5,461.8 623.9,459.9 625.0,462.0 626.2,463.7 627.4,465.4 628.5,467.2 629.6,469.0 630.6,470.6 632.0,471.8 634.0,473.0 635.3,474.6 635.9,476.8 636.9,478.3 638.3,479.3 640.7,480.1 643.3,481.4 645.7,482.6 646.6,481.1 647.9,479.3 649.2,477.1 650.1,475.1 651.6,473.6 652.9,472.0 653.8,470.6 654.9,469.1 655.9,467.6 657.1,465.7 658.5,463.3 659.8,461.3 661.1,459.9 660.7,458.1 660.1,456.2 659.9,454.0 660.0,452.0 659.7,450.6 659.4,448.8 659.4,446.5 659.4,444.4 659.1,442.5 658.5,440.4 658.3,438.0 658.3,436.0 658.0,434.2 657.7,432.2 657.3,429.7 656.9,427.6 656.9,425.7 656.8,423.8 656.4,421.7 656.0,419.2 655.9,417.0 656.1,415.1 656.1,413.0 656.2,410.7 656.5,408.2 656.8,406.1 656.7,404.3 656.3,401.8 656.6,399.4 657.0,397.5 656.1,395.4 655.2,393.3 654.4,391.3 653.7,388.9 653.2,386.5 652.6,384.7" fill="none" stroke="#fff" stroke-width="3" stroke-linejoin="round" stroke-linecap="round"/><polyline points="682.2,406.6 682.6,408.3 682.1,410.6 682.2,412.9 682.8,415.5 683.2,418.1 683.3,420.0 683.3,421.5 683.4,423.4 683.6,425.8 683.4,428.1 683.4,430.1 683.4,431.8 683.3,433.5 684.0,435.6 684.7,438.0 684.4,440.3 684.0,442.3 684.5,444.4 685.3,446.2 685.4,448.0 685.3,450.5 685.8,452.9 686.3,454.7 686.3,456.5 685.9,458.9 685.4,461.4 685.5,463.5 686.1,465.4 686.4,467.4 686.0,469.3 686.0,471.4 686.0,473.4 686.0,475.5 686.3,478.1 686.6,480.4 687.7,482.1 688.5,483.9 688.9,486.0 690.0,488.1 691.9,486.8 693.5,485.4 694.7,483.8 695.5,481.9 696.3,479.9 698.6,478.7 701.3,477.7 703.5,477.8 705.6,477.8 707.8,477.9 709.9,477.9 712.0,477.7 712.3,475.3 712.3,472.8 712.0,471.0 712.2,469.5 712.5,467.4 712.3,465.1 712.3,463.3 712.4,461.5 712.4,459.1 712.0,456.9 711.9,455.4 713.2,453.0 714.0,450.3 714.7,448.9 715.7,447.5 716.7,445.3 718.6,443.8 720.4,442.4 722.3,441.0 724.0,439.8 724.7,438.1 725.8,436.2 726.4,433.9 726.8,431.7 727.2,430.3 727.5,428.6 727.8,426.5 728.7,424.8 729.0,422.9 731.0,421.1 733.7,419.7 736.1,420.0 738.0,420.5 740.1,421.8 742.6,422.6 745.2,422.5 747.2,422.5 748.2,423.9 749.8,425.8 750.9,428.2 751.7,430.4 751.9,432.6 752.1,434.4 752.3,436.3 752.7,438.6 752.8,440.5 752.4,442.4 751.9,444.6 751.8,446.4 752.0,448.3 752.0,450.6 752.1,452.7 752.3,454.8 751.7,456.6 751.1,458.3 751.3,460.6 751.8,463.2 752.1,465.2 752.0,466.8 751.9,469.0 751.8,471.0 752.0,472.5 752.5,474.6 751.3,477.1 749.8,479.6 749.0,481.4 748.2,483.0 746.9,485.1 748.8,486.2 750.9,487.2 752.8,488.6 754.6,490.1 755.3,488.2 756.3,486.1 757.6,484.1 758.6,482.4 759.2,480.2 761.1,478.9 763.2,477.7 764.9,476.3 767.0,475.0" fill="none" stroke="#fff" stroke-width="3" stroke-linejoin="round" stroke-linecap="round"/><polyline points="807.0,490.0 807.5,492.1 808.3,494.4 808.9,496.7 809.0,498.8 808.9,500.6 809.2,503.0 809.8,505.5 811.2,503.4 811.7,501.1 812.0,499.5 813.4,497.9 815.1,496.1 815.9,494.2 816.4,492.5 817.0,490.2 818.1,491.4 819.6,493.2 821.2,494.9 822.4,496.3 823.4,498.2 824.2,500.0 823.8,497.7 823.6,496.0 822.9,494.2 822.6,492.2 822.8,490.5 822.6,488.4 822.1,486.1 821.5,483.7 821.4,481.6 821.5,479.8 821.4,477.6 821.1,475.4 820.6,473.6 820.2,471.5 819.8,469.5 819.2,467.8 820.3,466.3 821.8,464.2 823.0,462.3 824.3,460.8 825.9,458.9 827.0,456.6 828.1,454.7 829.5,453.1 830.7,451.6 832.1,450.0 833.2,447.9 833.5,445.9 833.2,443.8 833.0,441.7 833.2,439.7 833.9,437.6 834.5,435.3 834.8,432.9 835.5,430.7 836.4,428.9 836.8,427.2 836.9,425.1 837.3,422.9 839.7,421.5 842.1,419.9 842.2,421.9 842.4,424.2 842.4,426.0 842.7,427.9 843.4,429.6 843.7,431.4 843.7,433.6 843.9,435.6 844.5,437.7 845.0,439.8 846.1,441.0 847.5,442.4 849.1,444.2 850.4,445.8 851.7,447.2 853.1,448.5 854.5,449.8 856.2,448.6 857.8,447.5 859.7,446.7 861.2,445.5 862.6,444.5 865.0,443.8 867.3,442.6 869.8,443.6 872.3,445.1 871.6,447.0 871.0,448.7 870.6,450.8 870.2,452.9 869.7,454.9 869.1,456.9 868.6,458.9 868.4,460.9 868.0,462.9 866.5,464.9 865.8,467.1 866.2,469.6 866.4,471.5 866.2,473.3 865.8,475.6 865.7,477.5 865.6,478.9 865.0,480.8 864.6,483.0 864.6,485.1 866.0,486.9 866.8,488.4 867.5,489.9 868.5,491.8 869.9,493.8 871.1,495.8 872.2,497.9 874.7,497.4 877.1,497.1 878.7,496.8 880.6,496.2 882.9,495.8 885.0,495.6 887.3,495.2 889.6,495.2 889.0,493.3 888.5,490.9 887.9,488.5 887.2,486.3 887.0,485.0" fill="none" stroke="#fff" stroke-width="3" stroke-linejoin="round" stroke-linecap="round"/><polyline points="932.0,477.5 933.9,477.4 935.7,477.9 937.7,478.2 939.7,478.5 941.8,478.7 944.1,478.3 946.6,478.2 948.8,477.8 950.7,476.9 952.8,476.2 955.0,476.0 956.9,476.6 959.2,476.6 961.7,476.1 964.0,476.3 966.0,476.2" fill="none" stroke="#fff" stroke-width="3" stroke-linejoin="round" stroke-linecap="round"/><polyline points="147.0,707.5 148.7,708.3 150.7,708.4 152.8,708.6 154.9,709.3 157.1,709.8 158.6,708.3 160.2,706.9 161.7,705.6 163.4,704.4 165.3,702.7 166.8,700.9 167.9,699.4 168.7,698.2 169.7,696.6 171.0,694.5 172.2,692.9 173.6,691.8 175.2,690.2 177.4,689.1 179.1,688.1 180.6,686.9 182.8,685.8 185.2,684.9 185.4,682.6 185.4,680.5 185.7,678.4 186.3,676.5 187.0,674.9 189.4,674.8 191.7,674.4 194.1,674.0 196.2,673.8 198.4,674.0 200.4,673.7 202.0,672.8 203.4,672.6 204.8,672.1 206.8,671.0 209.2,669.8 211.6,669.0 213.8,668.2 215.3,667.3 216.9,666.6 218.8,665.8 220.6,664.4 222.5,663.8" fill="none" stroke="#fff" stroke-width="3" stroke-linejoin="round" stroke-linecap="round"/><polyline points="280.0,665.0 281.6,663.5 283.4,662.3 285.0,660.8 286.7,659.4 288.3,658.3 289.7,656.9 292.0,656.0 294.2,655.2 296.4,654.5 298.3,653.9 300.3,653.4 302.7,652.6 304.9,652.0 307.1,651.9 309.2,651.6 310.9,651.2 312.7,650.9 314.8,651.1 316.4,649.9 318.3,647.9 320.4,646.1 322.1,647.9 323.3,649.4 325.0,651.0 326.8,649.7 328.4,648.5 329.8,647.3 331.2,645.9 332.9,644.7 334.4,643.9 335.4,642.2 336.4,640.2 337.4,637.7 338.5,635.7 339.5,634.3 340.3,632.8 342.0,631.6 343.9,630.1 345.4,628.6 346.4,627.4 347.6,626.4 349.5,625.2 351.5,623.9 352.9,622.6 354.4,621.5 356.0,620.3 358.3,619.5 360.8,618.6 363.2,617.9 365.4,617.4 367.3,617.1 369.1,616.5 371.2,615.8 373.2,615.1 375.0,615.1 377.1,615.5 378.8,613.7 380.2,611.3 381.2,609.6 382.3,608.2 383.7,606.6 385.1,605.1 387.3,605.0 389.6,604.5 391.4,603.9 393.4,603.5 395.5,602.9 396.5,601.3 397.6,599.8 399.3,598.1 400.7,596.8 402.0,596.1 403.4,594.7 404.9,593.0 406.0,595.1 406.7,597.1 407.2,598.7 408.5,600.5 410.3,602.4 411.8,604.3 413.2,606.3 414.7,608.1 415.9,609.8 417.4,611.2 419.6,612.7 421.8,614.0 423.4,615.1 424.1,616.9 424.9,618.8 426.1,620.9 427.6,622.7 428.8,624.9 430.7,625.5 432.7,625.8 434.8,626.1 437.0,626.3 439.1,626.5 440.9,626.9 442.8,627.9 445.0,629.2 447.2,629.9 449.2,630.3 451.3,631.4 453.5,632.7 456.0,633.1 458.3,633.1 461.2,633.3 462.9,631.9 463.8,630.3 464.7,628.7 466.1,627.4 466.1,625.4 466.4,623.1 467.4,620.8 467.8,618.5 467.9,616.3 468.6,618.6 469.5,621.2 470.2,623.7 470.7,625.5 470.8,627.1 471.3,629.4 473.4,629.6 474.9,629.1 476.8,628.1 479.1,627.5 481.4,627.3 483.8,626.9 485.8,626.2 487.1,625.1 488.5,624.4 490.3,623.6 492.9,622.8 496.0,622.5" fill="none" stroke="#fff" stroke-width="3" stroke-linejoin="round" stroke-linecap="round"/><polyline points="516.0,608.8 516.5,610.3 517.0,612.5 517.5,614.8 518.4,617.0 519.0,618.8 519.0,620.7 519.2,622.8 519.8,625.0 520.5,627.2 521.8,628.7 523.2,630.4 523.9,632.6 524.6,634.8 525.4,637.0 525.9,639.1 526.7,640.6 527.6,642.5 528.7,644.7 529.8,646.6 530.4,648.5 530.9,650.2 531.9,651.4 533.0,653.2 533.8,655.5 534.7,657.2 535.6,658.7 536.0,660.9 537.1,663.3 538.5,664.7 539.1,665.8 539.7,667.7 540.8,669.9 542.3,671.5 543.5,673.0 544.6,674.6 546.1,675.7 548.0,676.8 549.4,678.5 550.6,680.1 552.6,678.9 554.3,677.2 555.7,675.4 557.4,674.2 559.0,673.5 560.5,672.5 562.4,671.8 564.3,671.0 566.1,670.2 567.9,669.4 569.7,668.8 571.8,668.6 573.9,667.8 576.0,666.4 578.0,667.9 579.5,669.7 580.9,671.3 582.8,670.6 584.7,669.7 586.4,668.4 588.0,667.3 588.6,665.3 589.2,663.5 589.9,661.8 590.8,659.9 591.5,658.1 591.7,655.8 591.9,653.7 593.0,652.3 594.1,650.6 594.1,648.5 594.2,646.3 595.0,644.7 596.2,643.1 598.0,641.8 599.7,640.5 602.3,639.7 604.6,638.7 606.5,637.8 608.0,638.5 609.6,638.7 611.7,638.6 613.8,638.7 615.7,638.7 616.1,636.2 616.8,634.1 617.5,632.2 617.9,630.4 618.5,628.1 619.0,625.6 619.4,623.6 619.9,622.0 620.3,620.1 620.7,617.7 622.1,615.7 623.8,614.6 625.8,612.8 627.3,614.0 628.8,615.9 630.3,617.9 630.3,619.7 630.3,621.2 630.6,623.2 630.7,625.6 630.8,627.8 630.7,629.6 630.5,631.5 630.5,633.4 630.8,635.2 631.1,637.2 632.8,637.8 634.6,638.5 637.1,639.0 639.2,639.6 640.5,640.3 642.9,641.2 646.1,642.1 646.7,644.2 646.6,646.6 646.7,648.8 646.9,651.1 646.6,653.3 646.2,655.3 646.2,657.6 646.3,659.8 645.9,661.8 645.4,663.6 645.3,665.4 645.5,667.5 645.7,670.2 649.9,670.5 650.3,668.3 650.4,665.9 650.4,663.6 650.2,661.9 650.2,660.1 650.1,657.8 650.2,655.4 650.5,653.2 650.1,651.2 649.9,649.1 650.4,647.0 650.6,645.3 650.5,643.4 650.7,641.2 651.0,639.1 651.2,636.8 651.3,635.2 651.3,633.7 651.4,631.5 651.3,629.3 650.7,627.0 651.0,625.0" fill="none" stroke="#fff" stroke-width="3" stroke-linejoin="round" stroke-linecap="round"/><polyline points="668.0,560.7 670.2,562.1 672.8,563.0 674.1,565.0 675.4,566.1 676.7,567.4 677.1,569.7 677.2,571.6 677.0,573.2 679.0,574.9 681.2,576.9 683.1,578.8 685.2,578.5 687.0,578.0 688.8,577.9 691.1,576.8 690.6,578.9 690.7,581.4 690.5,583.9 689.9,586.0 690.7,587.6 691.7,589.6 692.9,591.8 693.5,593.9 694.6,595.0 696.6,596.3 698.8,597.2 699.5,599.1 700.0,601.6 701.1,603.9 701.7,606.0 701.9,608.1 704.8,610.6 706.5,608.3 707.3,605.6 707.4,603.4 707.9,601.3 707.8,598.9 708.5,597.1 710.1,595.1 711.9,592.9 713.2,591.1 714.3,589.3 715.3,587.2 716.3,585.4 717.3,583.6 718.3,581.6 719.5,579.8 720.7,577.7 724.2,577.4 725.4,579.7 726.6,582.0 727.7,583.9 728.0,585.7 728.3,588.0 728.4,590.5 728.4,592.8 728.4,595.3 728.8,597.4 729.6,599.2 730.5,601.3 731.2,603.4 731.7,605.6 732.4,607.5 733.2,609.4 734.1,611.5 734.6,613.7 734.8,615.7 734.9,617.4 735.1,619.1 736.1,621.2 737.0,623.3 737.5,625.2 738.0,626.9 738.3,628.8 738.5,630.8 739.2,632.7 740.0,634.8 742.4,635.0 744.5,634.8 745.3,632.7 746.9,630.7 748.0,629.0 748.4,627.6 749.3,626.0 750.6,624.1 752.1,622.2 753.9,620.6 755.4,618.7 756.8,617.3 757.9,616.1 759.1,614.7 761.1,616.1 763.4,617.4 765.6,618.5 767.4,619.6 768.9,618.2 770.5,616.8 772.3,615.0 772.7,612.8 773.1,610.8 773.8,608.9 774.3,607.1 774.5,605.2 775.1,602.7 775.5,600.5 775.5,598.5 775.7,596.2 776.1,594.0 776.9,592.2 779.0,591.3 780.9,590.0 783.0,588.3 784.8,586.6 785.8,588.6 787.6,590.9 789.4,592.7 789.9,594.5 790.9,596.4 791.3,599.1 790.9,601.6 791.1,603.7 791.3,606.0 791.4,608.0 791.8,609.9 792.3,612.0 792.6,614.1 792.7,616.1 793.2,618.2 793.8,620.2 793.7,622.7 793.4,625.3 793.5,627.2 793.7,628.8 793.8,631.2 794.1,633.5 794.7,635.2 794.5,637.5" fill="none" stroke="#fff" stroke-width="3" stroke-linejoin="round" stroke-linecap="round"/><polyline points="817.0,617.5 818.5,619.4 820.1,620.8 822.1,622.6 822.7,625.0 822.8,627.1 822.7,629.0 823.6,631.0 824.7,633.0 825.2,635.0 825.2,637.1 825.2,639.1 825.7,640.9 826.1,642.6 826.2,644.1 826.5,646.2 826.9,648.7 826.8,651.1 826.7,653.2 827.2,655.4 828.2,657.6 828.6,659.6 828.7,661.4 829.4,663.3 829.4,665.3 829.2,667.6 831.5,669.4 833.2,670.7 834.0,671.9 834.1,669.9 834.6,668.3 835.0,666.4 835.0,664.1 835.0,662.3 835.2,660.8 835.6,658.5 835.6,656.0 835.8,653.9 836.6,651.7 837.0,649.1 837.2,646.7 837.7,645.1 837.8,643.7 837.1,641.7 837.1,639.5 837.9,637.5 838.5,635.4 838.3,633.2 838.1,631.1 838.4,628.9 838.9,626.7 839.2,624.9 839.3,623.1 839.0,621.0 838.9,618.8 838.9,616.7 839.0,614.6 839.3,612.7 839.7,610.8 840.2,608.6 840.5,606.4 840.9,604.1 841.5,601.7 841.9,599.5 841.9,597.5 842.6,599.9 843.6,602.1 844.2,603.8 844.7,605.7 845.3,607.7 845.8,609.6 845.9,611.7 846.0,614.2 846.9,616.4 847.8,618.3 848.0,619.8 847.8,621.5 848.1,623.8 848.9,626.1 849.4,628.2 849.8,629.9 850.1,631.7 850.6,634.2 851.5,636.6 851.7,638.4 852.0,640.2 854.0,641.0 855.7,641.5 858.1,641.4 860.6,641.5 862.5,641.8 863.1,639.3 863.9,637.7 864.7,636.3 865.5,634.3 866.1,632.2 866.7,629.7 867.4,627.1 868.1,625.5 869.0,623.7 869.8,621.3 870.7,619.4 872.0,617.6 873.2,615.1 874.1,612.9 874.9,611.0 875.6,609.0 876.8,607.1 877.7,605.3 879.7,604.4 882.2,603.6 884.6,602.5 886.8,602.9 889.5,603.9 891.9,604.8 893.4,603.2 895.6,602.2 897.6,601.5 899.4,599.9 902.3,600.4 905.0,601.7 907.0,602.8 907.3,604.5 908.1,606.5 909.0,608.8 910.1,611.0 911.3,613.1 912.1,614.8 912.3,616.4 912.9,618.5 913.4,621.0 913.8,623.2 914.3,625.3 914.5,627.5" fill="none" stroke="#fff" stroke-width="3" stroke-linejoin="round" stroke-linecap="round"/><ellipse cx="699.7" cy="583.2" rx="1.8" ry="5.5" fill="#fff"/><ellipse cx="838.6" cy="587.3" rx="2.0" ry="6.0" fill="#fff"/><ellipse cx="892.5" cy="609.2" rx="1.8" ry="4.0" fill="#fff"/><ellipse cx="702.7" cy="152.2" rx="2.0" ry="2.0" fill="#fff"/><text x="820" y="19" dy="0.36em" transform="rotate(10 820 19)" text-anchor="middle" font-size="25" fill="#fff">100</text><text x="881" y="66" dy="0.36em" transform="rotate(50 881 66)" text-anchor="middle" font-size="25" fill="#fff">100</text><text x="941" y="100" dy="0.36em" transform="rotate(30 941 100)" text-anchor="middle" font-size="25" fill="#fff">100</text><text x="258" y="174" dy="0.36em" transform="rotate(30 258 174)" text-anchor="middle" font-size="25" fill="#fff">200</text><text x="576" y="209" dy="0.36em" transform="rotate(38 576 209)" text-anchor="middle" font-size="25" fill="#fff">200</text><text x="799" y="318" dy="0.36em" transform="rotate(25 799 318)" text-anchor="middle" font-size="25" fill="#fff">200</text><text x="240" y="341" dy="0.36em" transform="rotate(50 240 341)" text-anchor="middle" font-size="25" fill="#fff">500</text><text x="503" y="340" dy="0.36em" transform="rotate(-90 503 340)" text-anchor="middle" font-size="25" fill="#fff">500</text><text x="634" y="352" dy="0.36em" transform="rotate(-65 634 352)" text-anchor="middle" font-size="25" fill="#fff">500</text><text x="764" y="390" dy="0.36em" transform="rotate(-10 764 390)" text-anchor="middle" font-size="25" fill="#fff">500</text><text x="918" y="413" dy="0.36em" transform="rotate(35 918 413)" text-anchor="middle" font-size="25" fill="#fff">500</text><text x="172" y="503" dy="0.36em" transform="rotate(-16 172 503)" text-anchor="middle" font-size="25" fill="#fff">1000</text><text x="410" y="483" dy="0.36em" transform="rotate(0 410 483)" text-anchor="middle" font-size="25" fill="#fff">1000</text><text x="541" y="471" dy="0.36em" transform="rotate(70 541 471)" text-anchor="middle" font-size="25" fill="#fff">1000</text><text x="672" y="386" dy="0.36em" transform="rotate(40 672 386)" text-anchor="middle" font-size="25" fill="#fff">1000</text><text x="789" y="465" dy="0.36em" transform="rotate(35 789 465)" text-anchor="middle" font-size="25" fill="#fff">1000</text><text x="902" y="472" dy="0.36em" transform="rotate(15 902 472)" text-anchor="middle" font-size="25" fill="#fff">1000</text><text x="251" y="666" dy="0.36em" transform="rotate(2 251 666)" text-anchor="middle" font-size="25" fill="#fff">2000</text><text x="502" y="637" dy="0.36em" transform="rotate(-30 502 637)" text-anchor="middle" font-size="25" fill="#fff">2000</text><text x="655" y="593" dy="0.36em" transform="rotate(-76 655 593)" text-anchor="middle" font-size="25" fill="#fff">2000</text><text x="801" y="642" dy="0.36em" transform="rotate(-45 801 642)" text-anchor="middle" font-size="25" fill="#fff">2000</text><text x="939" y="622" dy="0.36em" transform="rotate(0 939 622)" text-anchor="middle" font-size="25" fill="#fff">2000</text><line x1="186" y1="-6" x2="186" y2="714" stroke="#000" stroke-width="4.1" stroke-dasharray="16 16"/><circle cx="186" cy="77.5" r="6.4" fill="#000"/><polygon points="193.3,77.5 191.6,79.0 192.3,81.2 190.1,81.6 189.7,83.8 187.5,83.1 186.0,84.8 184.5,83.1 182.3,83.8 181.9,81.6 179.7,81.2 180.4,79.0 178.7,77.5 180.4,76.0 179.7,73.9 181.9,73.4 182.3,71.2 184.5,71.9 186.0,70.2 187.5,71.9 189.7,71.2 190.1,73.4 192.3,73.8 191.6,76.0" fill="#000"/><circle cx="186" cy="148.2" r="6.4" fill="#000"/><polygon points="193.3,148.2 191.6,149.7 192.3,151.8 190.1,152.3 189.7,154.5 187.5,153.8 186.0,155.5 184.5,153.8 182.3,154.5 181.9,152.3 179.7,151.8 180.4,149.7 178.7,148.2 180.4,146.7 179.7,144.5 181.9,144.1 182.3,141.9 184.5,142.6 186.0,140.9 187.5,142.6 189.7,141.9 190.1,144.1 192.3,144.5 191.6,146.7" fill="#000"/><circle cx="186" cy="218.9" r="6.4" fill="#000"/><polygon points="193.3,218.9 191.6,220.4 192.3,222.6 190.1,223.0 189.7,225.2 187.5,224.5 186.0,226.2 184.5,224.5 182.3,225.2 181.9,223.0 179.7,222.6 180.4,220.4 178.7,218.9 180.4,217.4 179.7,215.2 181.9,214.8 182.3,212.6 184.5,213.3 186.0,211.6 187.5,213.3 189.7,212.6 190.1,214.8 192.3,215.2 191.6,217.4" fill="#000"/><circle cx="186" cy="289.6" r="6.4" fill="#000"/><polygon points="193.3,289.6 191.6,291.1 192.3,293.2 190.1,293.7 189.7,295.9 187.5,295.2 186.0,296.9 184.5,295.2 182.3,295.9 181.9,293.7 179.7,293.2 180.4,291.1 178.7,289.6 180.4,288.1 179.7,286.0 181.9,285.5 182.3,283.3 184.5,284.0 186.0,282.3 187.5,284.0 189.7,283.3 190.1,285.5 192.3,286.0 191.6,288.1" fill="#000"/><circle cx="186" cy="360.3" r="6.4" fill="#000"/><polygon points="193.3,360.3 191.6,361.8 192.3,363.9 190.1,364.4 189.7,366.6 187.5,365.9 186.0,367.6 184.5,365.9 182.3,366.6 181.9,364.4 179.7,363.9 180.4,361.8 178.7,360.3 180.4,358.8 179.7,356.7 181.9,356.2 182.3,354.0 184.5,354.7 186.0,353.0 187.5,354.7 189.7,354.0 190.1,356.2 192.3,356.7 191.6,358.8" fill="#000"/><circle cx="186" cy="431.0" r="6.4" fill="#000"/><polygon points="193.3,431.0 191.6,432.5 192.3,434.6 190.1,435.1 189.7,437.3 187.5,436.6 186.0,438.3 184.5,436.6 182.3,437.3 181.9,435.1 179.7,434.6 180.4,432.5 178.7,431.0 180.4,429.5 179.7,427.4 181.9,426.9 182.3,424.7 184.5,425.4 186.0,423.7 187.5,425.4 189.7,424.7 190.1,426.9 192.3,427.4 191.6,429.5" fill="#000"/><circle cx="186" cy="501.7" r="6.4" fill="#000"/><polygon points="193.3,501.7 191.6,503.2 192.3,505.4 190.1,505.8 189.7,508.0 187.5,507.3 186.0,509.0 184.5,507.3 182.3,508.0 181.9,505.8 179.7,505.4 180.4,503.2 178.7,501.7 180.4,500.2 179.7,498.1 181.9,497.6 182.3,495.4 184.5,496.1 186.0,494.4 187.5,496.1 189.7,495.4 190.1,497.6 192.3,498.1 191.6,500.2" fill="#000"/><circle cx="186" cy="572.4" r="6.4" fill="#000"/><polygon points="193.3,572.4 191.6,573.9 192.3,576.1 190.1,576.5 189.7,578.7 187.5,578.0 186.0,579.7 184.5,578.0 182.3,578.7 181.9,576.5 179.7,576.1 180.4,573.9 178.7,572.4 180.4,570.9 179.7,568.8 181.9,568.3 182.3,566.1 184.5,566.8 186.0,565.1 187.5,566.8 189.7,566.1 190.1,568.3 192.3,568.8 191.6,570.9" fill="#000"/><circle cx="186" cy="643.1" r="6.4" fill="#000"/><polygon points="193.3,643.1 191.6,644.6 192.3,646.8 190.1,647.2 189.7,649.4 187.5,648.7 186.0,650.4 184.5,648.7 182.3,649.4 181.9,647.2 179.7,646.8 180.4,644.6 178.7,643.1 180.4,641.6 179.7,639.5 181.9,639.0 182.3,636.8 184.5,637.5 186.0,635.8 187.5,637.5 189.7,636.8 190.1,639.0 192.3,639.5 191.6,641.6" fill="#000"/><circle cx="186" cy="713.8" r="6.4" fill="#000"/><polygon points="193.3,713.8 191.6,715.3 192.3,717.5 190.1,717.9 189.7,720.1 187.5,719.4 186.0,721.1 184.5,719.4 182.3,720.1 181.9,717.9 179.7,717.5 180.4,715.3 178.7,713.8 180.4,712.3 179.7,710.2 181.9,709.7 182.3,707.5 184.5,708.2 186.0,706.5 187.5,708.2 189.7,707.5 190.1,709.7 192.3,710.2 191.6,712.3" fill="#000"/><line x1="536.5" y1="-6" x2="536.5" y2="714" stroke="#000" stroke-width="4.1" stroke-dasharray="16 16"/><circle cx="536.5" cy="77.5" r="6.4" fill="#000"/><polygon points="543.8,77.5 542.1,79.0 542.8,81.2 540.6,81.6 540.1,83.8 538.0,83.1 536.5,84.8 535.0,83.1 532.9,83.8 532.4,81.6 530.2,81.2 530.9,79.0 529.2,77.5 530.9,76.0 530.2,73.9 532.4,73.4 532.9,71.2 535.0,71.9 536.5,70.2 538.0,71.9 540.1,71.2 540.6,73.4 542.8,73.8 542.1,76.0" fill="#000"/><circle cx="536.5" cy="148.2" r="6.4" fill="#000"/><polygon points="543.8,148.2 542.1,149.7 542.8,151.8 540.6,152.3 540.1,154.5 538.0,153.8 536.5,155.5 535.0,153.8 532.9,154.5 532.4,152.3 530.2,151.8 530.9,149.7 529.2,148.2 530.9,146.7 530.2,144.5 532.4,144.1 532.9,141.9 535.0,142.6 536.5,140.9 538.0,142.6 540.1,141.9 540.6,144.1 542.8,144.5 542.1,146.7" fill="#000"/><circle cx="536.5" cy="218.9" r="6.4" fill="#000"/><polygon points="543.8,218.9 542.1,220.4 542.8,222.6 540.6,223.0 540.1,225.2 538.0,224.5 536.5,226.2 535.0,224.5 532.9,225.2 532.4,223.0 530.2,222.6 530.9,220.4 529.2,218.9 530.9,217.4 530.2,215.2 532.4,214.8 532.9,212.6 535.0,213.3 536.5,211.6 538.0,213.3 540.1,212.6 540.6,214.8 542.8,215.2 542.1,217.4" fill="#000"/><circle cx="536.5" cy="289.6" r="6.4" fill="#000"/><polygon points="543.8,289.6 542.1,291.1 542.8,293.2 540.6,293.7 540.1,295.9 538.0,295.2 536.5,296.9 535.0,295.2 532.9,295.9 532.4,293.7 530.2,293.2 530.9,291.1 529.2,289.6 530.9,288.1 530.2,286.0 532.4,285.5 532.9,283.3 535.0,284.0 536.5,282.3 538.0,284.0 540.1,283.3 540.6,285.5 542.8,286.0 542.1,288.1" fill="#000"/><circle cx="536.5" cy="360.3" r="6.4" fill="#000"/><polygon points="543.8,360.3 542.1,361.8 542.8,363.9 540.6,364.4 540.1,366.6 538.0,365.9 536.5,367.6 535.0,365.9 532.9,366.6 532.4,364.4 530.2,363.9 530.9,361.8 529.2,360.3 530.9,358.8 530.2,356.7 532.4,356.2 532.9,354.0 535.0,354.7 536.5,353.0 538.0,354.7 540.1,354.0 540.6,356.2 542.8,356.7 542.1,358.8" fill="#000"/><circle cx="536.5" cy="431.0" r="6.4" fill="#000"/><polygon points="543.8,431.0 542.1,432.5 542.8,434.6 540.6,435.1 540.1,437.3 538.0,436.6 536.5,438.3 535.0,436.6 532.9,437.3 532.4,435.1 530.2,434.6 530.9,432.5 529.2,431.0 530.9,429.5 530.2,427.4 532.4,426.9 532.9,424.7 535.0,425.4 536.5,423.7 538.0,425.4 540.1,424.7 540.6,426.9 542.8,427.4 542.1,429.5" fill="#000"/><circle cx="536.5" cy="501.7" r="6.4" fill="#000"/><polygon points="543.8,501.7 542.1,503.2 542.8,505.4 540.6,505.8 540.1,508.0 538.0,507.3 536.5,509.0 535.0,507.3 532.9,508.0 532.4,505.8 530.2,505.4 530.9,503.2 529.2,501.7 530.9,500.2 530.2,498.1 532.4,497.6 532.9,495.4 535.0,496.1 536.5,494.4 538.0,496.1 540.1,495.4 540.6,497.6 542.8,498.1 542.1,500.2" fill="#000"/><circle cx="536.5" cy="572.4" r="6.4" fill="#000"/><polygon points="543.8,572.4 542.1,573.9 542.8,576.1 540.6,576.5 540.1,578.7 538.0,578.0 536.5,579.7 535.0,578.0 532.9,578.7 532.4,576.5 530.2,576.1 530.9,573.9 529.2,572.4 530.9,570.9 530.2,568.8 532.4,568.3 532.9,566.1 535.0,566.8 536.5,565.1 538.0,566.8 540.1,566.1 540.6,568.3 542.8,568.8 542.1,570.9" fill="#000"/><circle cx="536.5" cy="643.1" r="6.4" fill="#000"/><polygon points="543.8,643.1 542.1,644.6 542.8,646.8 540.6,647.2 540.1,649.4 538.0,648.7 536.5,650.4 535.0,648.7 532.9,649.4 532.4,647.2 530.2,646.8 530.9,644.6 529.2,643.1 530.9,641.6 530.2,639.5 532.4,639.0 532.9,636.8 535.0,637.5 536.5,635.8 538.0,637.5 540.1,636.8 540.6,639.0 542.8,639.5 542.1,641.6" fill="#000"/><circle cx="536.5" cy="713.8" r="6.4" fill="#000"/><polygon points="543.8,713.8 542.1,715.3 542.8,717.5 540.6,717.9 540.1,720.1 538.0,719.4 536.5,721.1 535.0,719.4 532.9,720.1 532.4,717.9 530.2,717.5 530.9,715.3 529.2,713.8 530.9,712.3 530.2,710.2 532.4,709.7 532.9,707.5 535.0,708.2 536.5,706.5 538.0,708.2 540.1,707.5 540.6,709.7 542.8,710.2 542.1,712.3" fill="#000"/></g></svg>
<div class="t" style="font-size:32px;left:211px;top:44px;color:#000">(a)</div>
<div class="t" style="font-size:32px;left:562px;top:44px;color:#000">(b)</div>
</body></html>
